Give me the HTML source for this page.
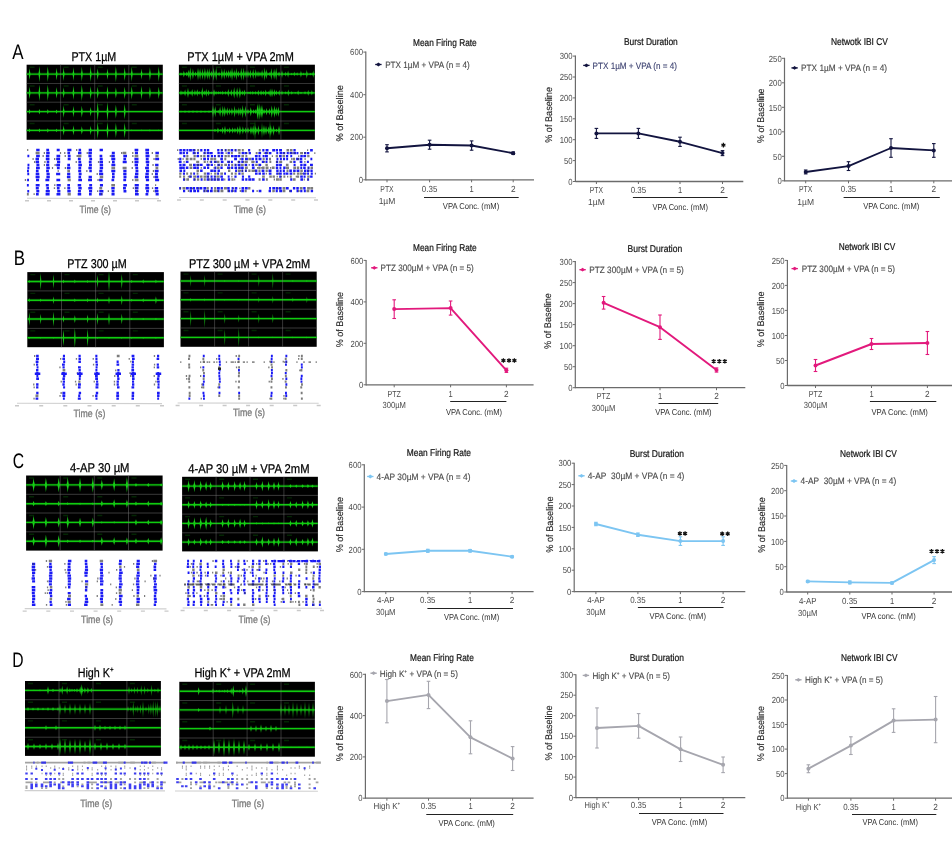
<!DOCTYPE html><html><head><meta charset="utf-8"><style>html,body{margin:0;padding:0;background:#fff;width:952px;height:859px;overflow:hidden}svg{display:block;will-change:transform;text-rendering:geometricPrecision}</style></head><body><svg width="952" height="859" viewBox="0 0 952 859" font-family="Liberation Sans, sans-serif">
<style>text{paint-order:stroke}</style>
<rect width="952" height="859" fill="#fff"/>
<text x="12.3" y="58.6" font-size="21" fill="#000" text-anchor="start" textLength="11.3" lengthAdjust="spacingAndGlyphs">A</text>
<text x="13.8" y="265.0" font-size="21" fill="#000" text-anchor="start" textLength="11.3" lengthAdjust="spacingAndGlyphs">B</text>
<text x="12.8" y="468.0" font-size="21" fill="#000" text-anchor="start" textLength="11.3" lengthAdjust="spacingAndGlyphs">C</text>
<text x="12.3" y="666.7" font-size="21" fill="#000" text-anchor="start" textLength="11.3" lengthAdjust="spacingAndGlyphs">D</text>
<text x="71.4" y="61.3" font-size="12.8" fill="#000" text-anchor="start" textLength="44.9" lengthAdjust="spacingAndGlyphs" stroke="#000" stroke-width="0.25">PTX 1µM</text>
<text x="187.3" y="61.2" font-size="12.8" fill="#000" text-anchor="start" textLength="106.6" lengthAdjust="spacingAndGlyphs" stroke="#000" stroke-width="0.25">PTX 1µM + VPA 2mM</text>
<text x="67.3" y="267.6" font-size="12.8" fill="#000" text-anchor="start" textLength="59.5" lengthAdjust="spacingAndGlyphs" stroke="#000" stroke-width="0.25">PTZ 300 µM</text>
<text x="188.9" y="267.9" font-size="12.8" fill="#000" text-anchor="start" textLength="121.3" lengthAdjust="spacingAndGlyphs" stroke="#000" stroke-width="0.25">PTZ 300 µM + VPA 2mM</text>
<text x="70.1" y="471.9" font-size="12.8" fill="#000" text-anchor="start" textLength="59.4" lengthAdjust="spacingAndGlyphs" stroke="#000" stroke-width="0.25">4-AP 30 µM</text>
<text x="188.2" y="472.9" font-size="12.8" fill="#000" text-anchor="start" textLength="121.3" lengthAdjust="spacingAndGlyphs" stroke="#000" stroke-width="0.25">4-AP 30 µM + VPA 2mM</text>
<text x="77.7" y="676.8" font-size="12.8" fill="#000" text-anchor="start" textLength="35.9" lengthAdjust="spacingAndGlyphs" stroke="#000" stroke-width="0.25">High K⁺</text>
<text x="194.4" y="676.6" font-size="12.8" fill="#000" text-anchor="start" textLength="96.3" lengthAdjust="spacingAndGlyphs" stroke="#000" stroke-width="0.25">High K⁺ + VPA 2mM</text>
<rect x="26.6" y="64.7" width="136.2" height="75.1" fill="#000"/>
<line x1="26.6" y1="74.1" x2="162.8" y2="74.1" stroke="#0a8a0a" stroke-width="3" opacity="0.3"/>
<line x1="26.6" y1="92.9" x2="162.8" y2="92.9" stroke="#0a8a0a" stroke-width="3" opacity="0.3"/>
<line x1="26.6" y1="111.6" x2="162.8" y2="111.6" stroke="#0a8a0a" stroke-width="3" opacity="0.3"/>
<line x1="26.6" y1="130.4" x2="162.8" y2="130.4" stroke="#0a8a0a" stroke-width="3" opacity="0.3"/>
<path d="M28.4 74.1L29.6 69.3L30.8 74.1L29.6 78.9ZM38.2 74.1L39.4 67.6L40.6 74.1L39.4 80.6ZM46.6 74.1L47.8 67.8L49.0 74.1L47.8 80.4ZM55.4 74.1L56.6 69.0L57.8 74.1L56.6 79.2ZM62.4 74.1L63.6 68.4L64.9 74.1L63.6 79.8ZM72.2 74.1L73.5 68.5L74.7 74.1L73.5 79.7ZM80.6 74.1L81.8 68.0L83.1 74.1L81.8 80.2ZM89.4 74.1L90.7 67.7L91.9 74.1L90.7 80.5ZM96.5 74.1L97.7 69.4L98.9 74.1L97.7 78.8ZM106.3 74.1L107.5 69.5L108.7 74.1L107.5 78.7ZM114.7 74.1L115.9 67.6L117.1 74.1L115.9 80.6ZM123.5 74.1L124.7 68.5L125.9 74.1L124.7 79.6ZM130.5 74.1L131.8 67.8L133.0 74.1L131.8 80.4ZM140.3 74.1L141.6 69.6L142.8 74.1L141.6 78.6ZM148.7 74.1L149.9 68.5L151.2 74.1L149.9 79.7ZM157.5 74.1L158.8 67.9L160.0 74.1L158.8 80.3ZM28.4 92.9L29.6 87.8L30.8 92.9L29.6 97.9ZM38.2 92.9L39.4 86.1L40.6 92.9L39.4 99.6ZM46.6 92.9L47.8 86.2L49.0 92.9L47.8 99.5ZM55.4 92.9L56.6 88.3L57.8 92.9L56.6 97.4ZM62.4 92.9L63.6 88.3L64.9 92.9L63.6 97.4ZM72.2 92.9L73.5 87.1L74.7 92.9L73.5 98.7ZM80.6 92.9L81.8 86.1L83.1 92.9L81.8 99.6ZM89.4 92.9L90.7 87.4L91.9 92.9L90.7 98.3ZM96.5 92.9L97.7 87.8L98.9 92.9L97.7 97.9ZM106.3 92.9L107.5 87.3L108.7 92.9L107.5 98.4ZM114.7 92.9L115.9 88.3L117.1 92.9L115.9 97.4ZM123.5 92.9L124.7 87.8L125.9 92.9L124.7 97.9ZM130.5 92.9L131.8 87.3L133.0 92.9L131.8 98.4ZM140.3 92.9L141.6 87.2L142.8 92.9L141.6 98.6ZM148.7 92.9L149.9 87.8L151.2 92.9L149.9 97.9ZM157.5 92.9L158.8 87.8L160.0 92.9L158.8 97.9ZM28.4 111.6L29.6 109.6L30.8 111.6L29.6 113.6ZM38.2 111.6L39.4 109.4L40.6 111.6L39.4 113.9ZM46.6 111.6L47.8 109.6L49.0 111.6L47.8 113.7ZM55.4 111.6L56.6 109.8L57.8 111.6L56.6 113.5ZM62.4 111.6L63.6 106.4L64.9 111.6L63.6 116.8ZM72.2 111.6L73.5 107.0L74.7 111.6L73.5 116.3ZM80.6 111.6L81.8 106.8L83.1 111.6L81.8 116.5ZM89.4 111.6L90.7 107.7L91.9 111.6L90.7 115.6ZM96.5 111.6L97.7 103.4L98.9 111.6L97.7 119.9ZM106.3 111.6L107.5 103.8L108.7 111.6L107.5 119.5ZM114.7 111.6L115.9 105.9L117.1 111.6L115.9 117.4ZM123.5 111.6L124.7 105.3L125.9 111.6L124.7 118.0ZM28.4 130.4L29.6 128.8L30.8 130.4L29.6 132.1ZM38.2 130.4L39.4 128.8L40.6 130.4L39.4 132.1ZM46.6 130.4L47.8 128.6L49.0 130.4L47.8 132.2ZM55.4 130.4L56.6 128.9L57.8 130.4L56.6 131.9ZM62.4 130.4L63.6 126.1L64.9 130.4L63.6 134.7ZM72.2 130.4L73.5 126.3L74.7 130.4L73.5 134.5ZM80.6 130.4L81.8 126.9L83.1 130.4L81.8 133.9ZM89.4 130.4L90.7 126.5L91.9 130.4L90.7 134.4ZM96.5 130.4L97.7 123.4L98.9 130.4L97.7 137.5ZM106.3 130.4L107.5 123.4L108.7 130.4L107.5 137.4ZM114.7 130.4L115.9 124.3L117.1 130.4L115.9 136.5ZM123.5 130.4L124.7 124.1L125.9 130.4L124.7 136.7ZM130.5 130.4L131.8 129.8L133.0 130.4L131.8 131.0ZM140.3 130.4L141.6 129.7L142.8 130.4L141.6 131.1ZM148.7 130.4L149.9 129.6L151.2 130.4L149.9 131.3ZM157.5 130.4L158.8 129.7L160.0 130.4L158.8 131.1Z" fill="#0a8a0a" opacity="0.45"/>
<path d="M28.8 74.1L29.2 71.4L29.6 68.1L30.0 71.4L30.4 74.1L30.0 76.8L29.6 80.1L29.2 76.8ZM38.6 74.1L39.0 70.4L39.4 65.9L39.8 70.4L40.2 74.1L39.8 77.8L39.4 82.3L39.0 77.8ZM47.0 74.1L47.4 70.5L47.8 66.2L48.2 70.5L48.6 74.1L48.2 77.6L47.8 82.0L47.4 77.6ZM55.8 74.1L56.2 71.2L56.6 67.7L57.0 71.2L57.4 74.1L57.0 77.0L56.6 80.5L56.2 77.0ZM62.8 74.1L63.3 70.9L63.6 67.0L64.0 70.9L64.5 74.1L64.0 77.3L63.6 81.2L63.3 77.3ZM72.6 74.1L73.1 70.9L73.5 67.1L73.8 70.9L74.3 74.1L73.8 77.2L73.5 81.1L73.1 77.2ZM81.0 74.1L81.5 70.7L81.8 66.5L82.2 70.7L82.7 74.1L82.2 77.5L81.8 81.7L81.5 77.5ZM89.8 74.1L90.3 70.5L90.7 66.1L91.0 70.5L91.5 74.1L91.0 77.7L90.7 82.1L90.3 77.7ZM96.9 74.1L97.3 71.4L97.7 68.2L98.1 71.4L98.5 74.1L98.1 76.7L97.7 80.0L97.3 76.7ZM106.7 74.1L107.1 71.5L107.5 68.4L107.9 71.5L108.3 74.1L107.9 76.7L107.5 79.8L107.1 76.7ZM115.1 74.1L115.5 70.4L115.9 66.0L116.3 70.4L116.7 74.1L116.3 77.7L115.9 82.2L115.5 77.7ZM123.9 74.1L124.3 71.0L124.7 67.2L125.1 71.0L125.5 74.1L125.1 77.2L124.7 81.0L124.3 77.2ZM130.9 74.1L131.4 70.5L131.8 66.2L132.1 70.5L132.6 74.1L132.1 77.6L131.8 82.0L131.4 77.6ZM140.7 74.1L141.2 71.6L141.6 68.5L141.9 71.6L142.4 74.1L141.9 76.6L141.6 79.7L141.2 76.6ZM149.1 74.1L149.6 71.0L149.9 67.1L150.3 71.0L150.8 74.1L150.3 77.2L149.9 81.0L149.6 77.2ZM157.9 74.1L158.4 70.6L158.8 66.3L159.1 70.6L159.6 74.1L159.1 77.6L158.8 81.9L158.4 77.6ZM28.8 92.9L29.2 90.0L29.6 86.6L30.0 90.0L30.4 92.9L30.0 95.7L29.6 99.2L29.2 95.7ZM38.6 92.9L39.0 89.1L39.4 84.4L39.8 89.1L40.2 92.9L39.8 96.7L39.4 101.3L39.0 96.7ZM47.0 92.9L47.4 89.1L47.8 84.5L48.2 89.1L48.6 92.9L48.2 96.6L47.8 101.2L47.4 96.6ZM55.8 92.9L56.2 90.3L56.6 87.1L57.0 90.3L57.4 92.9L57.0 95.4L56.6 98.6L56.2 95.4ZM62.8 92.9L63.3 90.3L63.6 87.2L64.0 90.3L64.5 92.9L64.0 95.4L63.6 98.6L63.3 95.4ZM72.6 92.9L73.1 89.6L73.5 85.6L73.8 89.6L74.3 92.9L73.8 96.1L73.5 100.1L73.1 96.1ZM81.0 92.9L81.5 89.1L81.8 84.4L82.2 89.1L82.7 92.9L82.2 96.7L81.8 101.3L81.5 96.7ZM89.8 92.9L90.3 89.8L90.7 86.1L91.0 89.8L91.5 92.9L91.0 95.9L90.7 99.6L90.3 95.9ZM96.9 92.9L97.3 90.0L97.7 86.6L98.1 90.0L98.5 92.9L98.1 95.7L97.7 99.1L97.3 95.7ZM106.7 92.9L107.1 89.8L107.5 86.0L107.9 89.8L108.3 92.9L107.9 96.0L107.5 99.8L107.1 96.0ZM115.1 92.9L115.5 90.3L115.9 87.2L116.3 90.3L116.7 92.9L116.3 95.4L115.9 98.6L115.5 95.4ZM123.9 92.9L124.3 90.0L124.7 86.6L125.1 90.0L125.5 92.9L125.1 95.7L124.7 99.2L124.3 95.7ZM130.9 92.9L131.4 89.7L131.8 85.9L132.1 89.7L132.6 92.9L132.1 96.0L131.8 99.8L131.4 96.0ZM140.7 92.9L141.2 89.7L141.6 85.8L141.9 89.7L142.4 92.9L141.9 96.1L141.6 100.0L141.2 96.1ZM149.1 92.9L149.6 90.0L149.9 86.5L150.3 90.0L150.8 92.9L150.3 95.7L149.9 99.2L149.6 95.7ZM157.9 92.9L158.4 90.0L158.8 86.5L159.1 90.0L159.6 92.9L159.1 95.7L158.8 99.2L158.4 95.7ZM28.8 111.6L29.2 110.5L29.6 109.1L30.0 110.5L30.4 111.6L30.0 112.8L29.6 114.2L29.2 112.8ZM38.6 111.6L39.0 110.4L39.4 108.8L39.8 110.4L40.2 111.6L39.8 112.9L39.4 114.4L39.0 112.9ZM47.0 111.6L47.4 110.5L47.8 109.0L48.2 110.5L48.6 111.6L48.2 112.8L47.8 114.2L47.4 112.8ZM55.8 111.6L56.2 110.6L56.6 109.4L57.0 110.6L57.4 111.6L57.0 112.7L56.6 113.9L56.2 112.7ZM62.8 111.6L63.3 108.7L63.6 105.1L64.0 108.7L64.5 111.6L64.0 114.6L63.6 118.1L63.3 114.6ZM72.6 111.6L73.1 109.0L73.5 105.8L73.8 109.0L74.3 111.6L73.8 114.3L73.5 117.5L73.1 114.3ZM81.0 111.6L81.5 108.9L81.8 105.6L82.2 108.9L82.7 111.6L82.2 114.4L81.8 117.7L81.5 114.4ZM89.8 111.6L90.3 109.4L90.7 106.7L91.0 109.4L91.5 111.6L91.0 113.9L90.7 116.6L90.3 113.9ZM96.9 111.6L97.3 107.0L97.7 101.3L98.1 107.0L98.5 111.6L98.1 116.3L97.7 122.0L97.3 116.3ZM106.7 111.6L107.1 107.2L107.5 101.8L107.9 107.2L108.3 111.6L107.9 116.1L107.5 121.5L107.1 116.1ZM115.1 111.6L115.5 108.4L115.9 104.5L116.3 108.4L116.7 111.6L116.3 114.9L115.9 118.8L115.5 114.9ZM123.9 111.6L124.3 108.1L124.7 103.7L125.1 108.1L125.5 111.6L125.1 115.2L124.7 119.6L124.3 115.2ZM28.8 130.4L29.2 129.5L29.6 128.3L30.0 129.5L30.4 130.4L30.0 131.3L29.6 132.5L29.2 131.3ZM38.6 130.4L39.0 129.5L39.4 128.3L39.8 129.5L40.2 130.4L39.8 131.3L39.4 132.5L39.0 131.3ZM47.0 130.4L47.4 129.4L47.8 128.2L48.2 129.4L48.6 130.4L48.2 131.4L47.8 132.7L47.4 131.4ZM55.8 130.4L56.2 129.6L56.6 128.6L57.0 129.6L57.4 130.4L57.0 131.2L56.6 132.3L56.2 131.2ZM62.8 130.4L63.3 128.0L63.6 125.0L64.0 128.0L64.5 130.4L64.0 132.8L63.6 135.8L63.3 132.8ZM72.6 130.4L73.1 128.1L73.5 125.3L73.8 128.1L74.3 130.4L73.8 132.7L73.5 135.5L73.1 132.7ZM81.0 130.4L81.5 128.5L81.8 126.1L82.2 128.5L82.7 130.4L82.2 132.4L81.8 134.8L81.5 132.4ZM89.8 130.4L90.3 128.2L90.7 125.5L91.0 128.2L91.5 130.4L91.0 132.6L90.7 135.3L90.3 132.6ZM96.9 130.4L97.3 126.4L97.7 121.6L98.1 126.4L98.5 130.4L98.1 134.4L97.7 139.2L97.3 134.4ZM106.7 130.4L107.1 126.5L107.5 121.7L107.9 126.5L108.3 130.4L107.9 134.3L107.5 139.1L107.1 134.3ZM115.1 130.4L115.5 127.0L115.9 122.8L116.3 127.0L116.7 130.4L116.3 133.8L115.9 138.0L115.5 133.8ZM123.9 130.4L124.3 126.9L124.7 122.5L125.1 126.9L125.5 130.4L125.1 134.0L124.7 138.3L124.3 134.0ZM130.9 130.4L131.4 130.1L131.8 129.6L132.1 130.1L132.6 130.4L132.1 130.8L131.8 131.2L131.4 130.8ZM140.7 130.4L141.2 130.0L141.6 129.6L141.9 130.0L142.4 130.4L141.9 130.8L141.6 131.3L141.2 130.8ZM149.1 130.4L149.6 129.9L149.9 129.3L150.3 129.9L150.8 130.4L150.3 130.9L149.9 131.5L149.6 130.9ZM157.9 130.4L158.4 130.0L158.8 129.5L159.1 130.0L159.6 130.4L159.1 130.8L158.8 131.3L158.4 130.8Z" fill="#1ee01e" opacity="0.90"/>
<line x1="26.6" y1="74.1" x2="162.8" y2="74.1" stroke="#10cc10" stroke-width="1.4"/>
<line x1="26.6" y1="92.9" x2="162.8" y2="92.9" stroke="#10cc10" stroke-width="1.4"/>
<line x1="26.6" y1="111.6" x2="162.8" y2="111.6" stroke="#10cc10" stroke-width="1.4"/>
<line x1="26.6" y1="130.4" x2="162.8" y2="130.4" stroke="#10cc10" stroke-width="1.4"/>
<line x1="60.6" y1="64.7" x2="60.6" y2="139.8" stroke="#808080" stroke-width="0.9" stroke-dasharray="0.5,0.5"/>
<line x1="26.6" y1="83.5" x2="162.8" y2="83.5" stroke="#808080" stroke-width="0.9" stroke-dasharray="0.5,0.5"/>
<line x1="94.7" y1="64.7" x2="94.7" y2="139.8" stroke="#808080" stroke-width="0.9" stroke-dasharray="0.5,0.5"/>
<line x1="26.6" y1="102.2" x2="162.8" y2="102.2" stroke="#808080" stroke-width="0.9" stroke-dasharray="0.5,0.5"/>
<line x1="128.8" y1="64.7" x2="128.8" y2="139.8" stroke="#808080" stroke-width="0.9" stroke-dasharray="0.5,0.5"/>
<line x1="26.6" y1="121.0" x2="162.8" y2="121.0" stroke="#808080" stroke-width="0.9" stroke-dasharray="0.5,0.5"/>
<path d="M29.6 66.5h5v1.4h-5zM63.6 66.5h5v1.4h-5zM97.7 66.5h5v1.4h-5zM131.8 66.5h5v1.4h-5zM29.6 85.3h5v1.4h-5zM63.6 85.3h5v1.4h-5zM97.7 85.3h5v1.4h-5zM131.8 85.3h5v1.4h-5zM29.6 104.0h5v1.4h-5zM63.6 104.0h5v1.4h-5zM97.7 104.0h5v1.4h-5zM131.8 104.0h5v1.4h-5zM29.6 122.8h5v1.4h-5zM63.6 122.8h5v1.4h-5zM97.7 122.8h5v1.4h-5zM131.8 122.8h5v1.4h-5z" fill="#0a6a0a" opacity="0.35"/>
<rect x="178.9" y="64.7" width="136.0" height="75.1" fill="#000"/>
<line x1="178.9" y1="74.1" x2="314.9" y2="74.1" stroke="#0a8a0a" stroke-width="3" opacity="0.3"/>
<line x1="178.9" y1="92.9" x2="314.9" y2="92.9" stroke="#0a8a0a" stroke-width="3" opacity="0.3"/>
<line x1="178.9" y1="111.6" x2="314.9" y2="111.6" stroke="#0a8a0a" stroke-width="3" opacity="0.3"/>
<line x1="178.9" y1="130.4" x2="314.9" y2="130.4" stroke="#0a8a0a" stroke-width="3" opacity="0.3"/>
<path d="M179.5 74.1L181.0 72.5L182.5 74.1L181.0 75.6ZM182.3 74.1L183.8 71.2L185.3 74.1L183.8 76.9ZM185.1 74.1L186.6 72.1L188.1 74.1L186.6 76.1ZM186.9 74.1L188.4 70.4L189.9 74.1L188.4 77.7ZM188.8 74.1L190.3 68.3L191.8 74.1L190.3 79.8ZM191.4 74.1L192.9 69.7L194.4 74.1L192.9 78.4ZM194.0 74.1L195.5 71.9L197.0 74.1L195.5 76.3ZM196.5 74.1L198.0 68.8L199.5 74.1L198.0 79.4ZM198.6 74.1L200.1 69.2L201.6 74.1L200.1 79.0ZM201.0 74.1L202.5 69.5L204.0 74.1L202.5 78.7ZM203.4 74.1L204.9 68.7L206.4 74.1L204.9 79.4ZM205.8 74.1L207.3 69.4L208.8 74.1L207.3 78.8ZM207.7 74.1L209.2 69.2L210.7 74.1L209.2 78.9ZM209.9 74.1L211.4 71.1L212.9 74.1L211.4 77.1ZM212.1 74.1L213.6 68.4L215.1 74.1L213.6 79.8ZM214.7 74.1L216.2 68.5L217.7 74.1L216.2 79.7ZM217.6 74.1L219.1 72.0L220.6 74.1L219.1 76.2ZM220.4 74.1L221.9 69.4L223.4 74.1L221.9 78.8ZM222.7 74.1L224.2 69.6L225.7 74.1L224.2 78.6ZM225.0 74.1L226.5 70.7L228.0 74.1L226.5 77.5ZM227.0 74.1L228.5 70.4L230.0 74.1L228.5 77.8ZM228.8 74.1L230.3 70.5L231.8 74.1L230.3 77.6ZM230.5 74.1L232.0 68.7L233.5 74.1L232.0 79.5ZM232.8 74.1L234.3 70.5L235.8 74.1L234.3 77.7ZM234.9 74.1L236.4 69.1L237.9 74.1L236.4 79.1ZM237.0 74.1L238.5 71.1L240.0 74.1L238.5 77.1ZM239.8 74.1L241.3 68.8L242.8 74.1L241.3 79.3ZM242.1 74.1L243.6 68.8L245.1 74.1L243.6 79.4ZM244.5 74.1L246.0 70.7L247.5 74.1L246.0 77.5ZM246.5 74.1L248.0 70.5L249.5 74.1L248.0 77.7ZM248.9 74.1L250.4 70.4L251.9 74.1L250.4 77.8ZM251.7 74.1L253.2 69.8L254.7 74.1L253.2 78.3ZM254.2 74.1L255.7 70.1L257.2 74.1L255.7 78.1ZM256.5 74.1L258.0 71.3L259.5 74.1L258.0 76.9ZM258.5 74.1L260.0 71.7L261.5 74.1L260.0 76.4ZM260.6 74.1L262.1 70.4L263.6 74.1L262.1 77.7ZM263.1 74.1L264.6 68.6L266.1 74.1L264.6 79.6ZM265.0 74.1L266.5 70.0L268.0 74.1L266.5 78.2ZM267.8 74.1L269.3 72.3L270.8 74.1L269.3 75.9ZM269.8 74.1L271.3 69.1L272.8 74.1L271.3 79.1ZM272.6 74.1L274.1 69.5L275.6 74.1L274.1 78.7ZM274.7 74.1L276.2 68.7L277.7 74.1L276.2 79.4ZM277.5 74.1L279.0 71.8L280.5 74.1L279.0 76.4ZM179.5 92.9L181.0 90.5L182.5 92.9L181.0 95.2ZM181.4 92.9L182.9 91.3L184.4 92.9L182.9 94.4ZM183.6 92.9L185.1 90.1L186.6 92.9L185.1 95.7ZM186.5 92.9L188.0 88.5L189.5 92.9L188.0 97.2ZM188.6 92.9L190.1 91.2L191.6 92.9L190.1 94.5ZM190.7 92.9L192.2 89.6L193.7 92.9L192.2 96.2ZM193.4 92.9L194.9 90.2L196.4 92.9L194.9 95.5ZM195.8 92.9L197.3 89.8L198.8 92.9L197.3 95.9ZM197.7 92.9L199.2 91.1L200.7 92.9L199.2 94.6ZM200.8 92.9L202.3 88.2L203.8 92.9L202.3 97.5ZM202.9 92.9L204.4 90.7L205.9 92.9L204.4 95.0ZM204.8 92.9L206.3 89.5L207.8 92.9L206.3 96.2ZM207.1 92.9L208.6 90.2L210.1 92.9L208.6 95.6ZM209.7 92.9L211.2 91.6L212.7 92.9L211.2 94.1ZM212.5 92.9L214.0 89.7L215.5 92.9L214.0 96.1ZM214.6 92.9L216.1 91.2L217.6 92.9L216.1 94.6ZM216.9 92.9L218.4 91.5L219.9 92.9L218.4 94.3ZM218.8 92.9L220.3 91.5L221.8 92.9L220.3 94.2ZM221.2 92.9L222.7 91.1L224.2 92.9L222.7 94.6ZM224.0 92.9L225.5 91.3L227.0 92.9L225.5 94.4ZM226.8 92.9L228.3 89.4L229.8 92.9L228.3 96.3ZM229.8 92.9L231.3 89.8L232.8 92.9L231.3 95.9ZM232.7 92.9L234.2 88.1L235.7 92.9L234.2 97.6ZM235.6 92.9L237.1 88.3L238.6 92.9L237.1 97.4ZM238.4 92.9L239.9 88.1L241.4 92.9L239.9 97.6ZM240.8 92.9L242.3 90.8L243.8 92.9L242.3 94.9ZM243.0 92.9L244.5 90.1L246.0 92.9L244.5 95.7ZM246.5 92.9L248.0 91.6L249.5 92.9L248.0 94.1ZM248.7 92.9L250.2 91.4L251.7 92.9L250.2 94.3ZM251.3 92.9L252.8 91.2L254.3 92.9L252.8 94.5ZM254.0 92.9L255.5 91.3L257.0 92.9L255.5 94.4ZM256.8 92.9L258.3 90.4L259.8 92.9L258.3 95.3ZM259.6 92.9L261.1 90.6L262.6 92.9L261.1 95.2ZM261.8 92.9L263.3 91.0L264.8 92.9L263.3 94.7ZM264.2 92.9L265.7 90.1L267.2 92.9L265.7 95.7ZM266.7 92.9L268.2 91.3L269.7 92.9L268.2 94.4ZM268.6 92.9L270.1 89.3L271.6 92.9L270.1 96.4ZM270.5 92.9L272.0 89.1L273.5 92.9L272.0 96.6ZM272.9 92.9L274.4 89.8L275.9 92.9L274.4 95.9ZM274.9 92.9L276.4 90.7L277.9 92.9L276.4 95.1ZM277.7 92.9L279.2 90.4L280.7 92.9L279.2 95.3ZM179.5 111.6L181.0 110.7L182.5 111.6L181.0 112.5ZM183.5 111.6L185.0 110.5L186.5 111.6L185.0 112.8ZM187.5 111.6L189.0 110.5L190.5 111.6L189.0 112.7ZM191.5 111.6L193.0 110.5L194.5 111.6L193.0 112.8ZM195.5 111.6L197.0 110.6L198.5 111.6L197.0 112.6ZM199.5 111.6L201.0 110.5L202.5 111.6L201.0 112.8ZM203.5 111.6L205.0 110.7L206.5 111.6L205.0 112.6ZM207.5 111.6L209.0 110.6L210.5 111.6L209.0 112.7ZM211.5 111.6L213.0 106.1L214.5 111.6L213.0 117.2ZM213.7 111.6L215.2 107.2L216.7 111.6L215.2 116.1ZM216.7 111.6L218.2 110.1L219.7 111.6L218.2 113.2ZM218.6 111.6L220.1 107.3L221.6 111.6L220.1 115.9ZM221.3 111.6L222.8 106.8L224.3 111.6L222.8 116.4ZM223.3 111.6L224.8 107.1L226.3 111.6L224.8 116.2ZM225.8 111.6L227.3 108.0L228.8 111.6L227.3 115.2ZM228.1 111.6L229.6 108.7L231.1 111.6L229.6 114.6ZM230.4 111.6L231.9 108.2L233.4 111.6L231.9 115.1ZM233.1 111.6L234.6 106.7L236.1 111.6L234.6 116.5ZM235.4 111.6L236.9 109.0L238.4 111.6L236.9 114.2ZM237.3 111.6L238.8 107.9L240.3 111.6L238.8 115.4ZM239.3 111.6L240.8 108.1L242.3 111.6L240.8 115.1ZM241.2 111.6L242.7 106.1L244.2 111.6L242.7 117.2ZM244.0 111.6L245.5 106.7L247.0 111.6L245.5 116.6ZM213.5 130.4L215.0 128.9L216.5 130.4L215.0 132.0ZM216.4 130.4L217.9 127.9L219.4 130.4L217.9 132.9ZM219.1 130.4L220.6 129.2L222.1 130.4L220.6 131.6ZM221.1 130.4L222.6 127.4L224.1 130.4L222.6 133.4ZM223.5 130.4L225.0 126.5L226.5 130.4L225.0 134.3ZM226.1 130.4L227.6 128.7L229.1 130.4L227.6 132.1ZM228.2 130.4L229.7 127.7L231.2 130.4L229.7 133.1ZM231.1 130.4L232.6 127.8L234.1 130.4L232.6 133.1ZM233.5 130.4L235.0 128.0L236.5 130.4L235.0 132.8ZM236.1 130.4L237.6 127.0L239.1 130.4L237.6 133.8ZM238.4 130.4L239.9 126.3L241.4 130.4L239.9 134.5ZM241.4 130.4L242.9 127.0L244.4 130.4L242.9 133.8ZM244.1 130.4L245.6 127.8L247.1 130.4L245.6 133.0ZM246.5 130.4L248.0 127.5L249.5 130.4L248.0 133.3ZM249.5 130.4L251.0 126.7L252.5 130.4L251.0 134.2ZM251.7 130.4L253.2 126.0L254.7 130.4L253.2 134.8ZM254.3 130.4L255.8 126.9L257.3 130.4L255.8 134.0ZM256.9 130.4L258.4 126.3L259.9 130.4L258.4 134.6ZM259.7 130.4L261.2 129.2L262.7 130.4L261.2 131.7ZM262.5 130.4L264.0 125.8L265.5 130.4L264.0 135.0ZM264.5 130.4L266.0 126.6L267.5 130.4L266.0 134.2ZM267.1 130.4L268.6 127.0L270.1 130.4L268.6 133.8ZM269.4 130.4L270.9 126.0L272.4 130.4L270.9 134.9ZM272.0 130.4L273.5 126.0L275.0 130.4L273.5 134.8ZM274.9 130.4L276.4 128.9L277.9 130.4L276.4 132.0ZM277.5 130.4L279.0 126.3L280.5 130.4L279.0 134.5Z" fill="#0a8a0a" opacity="0.36"/>
<path d="M280.5 74.1L282.0 70.6L283.5 74.1L282.0 77.6ZM284.1 74.1L285.6 71.9L287.1 74.1L285.6 76.3ZM286.6 74.1L288.1 71.1L289.6 74.1L288.1 77.1ZM290.0 74.1L291.5 73.0L293.0 74.1L291.5 75.1ZM292.9 74.1L294.4 72.1L295.9 74.1L294.4 76.1ZM295.6 74.1L297.1 72.6L298.6 74.1L297.1 75.5ZM299.4 74.1L300.9 71.2L302.4 74.1L300.9 77.0ZM302.0 74.1L303.5 72.9L305.0 74.1L303.5 75.3ZM305.2 74.1L306.7 70.4L308.2 74.1L306.7 77.8ZM309.0 74.1L310.5 73.1L312.0 74.1L310.5 75.1ZM311.8 74.1L313.3 71.0L314.8 74.1L313.3 77.1ZM280.5 92.9L282.0 90.8L283.5 92.9L282.0 94.9ZM284.1 92.9L285.6 91.5L287.1 92.9L285.6 94.2ZM286.9 92.9L288.4 90.0L289.9 92.9L288.4 95.7ZM290.2 92.9L291.7 91.3L293.2 92.9L291.7 94.4ZM293.8 92.9L295.3 92.1L296.8 92.9L295.3 93.6ZM296.7 92.9L298.2 90.7L299.7 92.9L298.2 95.1ZM299.5 92.9L301.0 91.9L302.5 92.9L301.0 93.8ZM303.5 92.9L305.0 91.5L306.5 92.9L305.0 94.2ZM306.8 92.9L308.3 90.3L309.8 92.9L308.3 95.4ZM310.3 92.9L311.8 90.7L313.3 92.9L311.8 95.0Z" fill="#0a8a0a" opacity="0.32"/>
<path d="M246.5 111.6L248.0 109.2L249.5 111.6L248.0 114.1ZM249.3 111.6L250.8 107.9L252.3 111.6L250.8 115.4ZM252.0 111.6L253.5 109.6L255.0 111.6L253.5 113.7ZM254.0 111.6L255.5 109.5L257.0 111.6L255.5 113.8ZM256.0 111.6L257.5 105.4L259.0 111.6L257.5 117.8ZM258.3 111.6L259.8 105.0L261.3 111.6L259.8 118.3ZM260.4 111.6L261.9 106.7L263.4 111.6L261.9 116.6ZM262.6 111.6L264.1 109.3L265.6 111.6L264.1 114.0ZM265.1 111.6L266.6 108.5L268.1 111.6L266.6 114.8ZM267.9 111.6L269.4 108.8L270.9 111.6L269.4 114.5ZM270.3 111.6L271.8 106.6L273.3 111.6L271.8 116.7ZM272.9 111.6L274.4 106.5L275.9 111.6L274.4 116.8ZM274.8 111.6L276.3 107.7L277.8 111.6L276.3 115.5ZM276.9 111.6L278.4 107.3L279.9 111.6L278.4 116.0Z" fill="#0a8a0a" opacity="0.41"/>
<path d="M260.5 111.6L262.0 105.3L263.5 111.6L262.0 118.0ZM256.5 111.6L258.0 103.9L259.5 111.6L258.0 119.4Z" fill="#0a8a0a" opacity="0.27"/>
<path d="M253.5 130.4L255.0 122.0L256.5 130.4L255.0 138.9ZM260.5 130.4L262.0 123.8L263.5 130.4L262.0 137.1ZM268.5 130.4L270.0 122.0L271.5 130.4L270.0 138.8Z" fill="#0a8a0a" opacity="0.23"/>
<path d="M179.8 74.1L180.6 73.2L181.0 72.2L181.4 73.2L182.2 74.1L181.4 75.0L181.0 76.0L180.6 75.0ZM182.6 74.1L183.4 72.5L183.8 70.5L184.3 72.5L185.0 74.1L184.3 75.7L183.8 77.6L183.4 75.7ZM185.4 74.1L186.2 72.9L186.6 71.5L187.1 72.9L187.8 74.1L187.1 75.2L186.6 76.6L186.2 75.2ZM187.2 74.1L188.0 72.0L188.4 69.5L188.9 72.0L189.6 74.1L188.9 76.1L188.4 78.6L188.0 76.1ZM189.1 74.1L189.8 70.9L190.3 66.9L190.7 70.9L191.5 74.1L190.7 77.3L190.3 81.3L189.8 77.3ZM191.7 74.1L192.5 71.6L192.9 68.6L193.4 71.6L194.1 74.1L193.4 76.5L192.9 79.5L192.5 76.5ZM194.3 74.1L195.1 72.8L195.5 71.3L196.0 72.8L196.7 74.1L196.0 75.3L195.5 76.9L195.1 75.3ZM196.8 74.1L197.6 71.1L198.0 67.5L198.5 71.1L199.2 74.1L198.5 77.1L198.0 80.7L197.6 77.1ZM198.9 74.1L199.6 71.3L200.1 68.0L200.5 71.3L201.3 74.1L200.5 76.8L200.1 80.2L199.6 76.8ZM201.3 74.1L202.1 71.5L202.5 68.3L203.0 71.5L203.7 74.1L203.0 76.7L202.5 79.9L202.1 76.7ZM203.7 74.1L204.5 71.1L204.9 67.4L205.4 71.1L206.1 74.1L205.4 77.1L204.9 80.8L204.5 77.1ZM206.1 74.1L206.9 71.4L207.3 68.2L207.8 71.4L208.5 74.1L207.8 76.8L207.3 80.0L206.9 76.8ZM208.0 74.1L208.8 71.4L209.2 68.0L209.7 71.4L210.4 74.1L209.7 76.8L209.2 80.2L208.8 76.8ZM210.2 74.1L211.0 72.4L211.4 70.4L211.9 72.4L212.6 74.1L211.9 75.8L211.4 77.8L211.0 75.8ZM212.4 74.1L213.2 70.9L213.6 67.0L214.1 70.9L214.8 74.1L214.1 77.3L213.6 81.2L213.2 77.3ZM215.0 74.1L215.7 70.9L216.2 67.1L216.6 70.9L217.4 74.1L216.6 77.2L216.2 81.1L215.7 77.2ZM217.9 74.1L218.6 72.9L219.1 71.4L219.5 72.9L220.3 74.1L219.5 75.3L219.1 76.8L218.6 75.3ZM220.7 74.1L221.4 71.4L221.9 68.2L222.3 71.4L223.1 74.1L222.3 76.7L221.9 80.0L221.4 76.7ZM223.0 74.1L223.8 71.5L224.2 68.4L224.7 71.5L225.4 74.1L224.7 76.6L224.2 79.7L223.8 76.6ZM225.3 74.1L226.0 72.2L226.5 69.8L226.9 72.2L227.7 74.1L226.9 76.0L226.5 78.4L226.0 76.0ZM227.3 74.1L228.0 72.0L228.5 69.4L228.9 72.0L229.7 74.1L228.9 76.2L228.5 78.8L228.0 76.2ZM229.1 74.1L229.8 72.1L230.3 69.6L230.7 72.1L231.5 74.1L230.7 76.1L230.3 78.5L229.8 76.1ZM230.8 74.1L231.6 71.0L232.0 67.3L232.5 71.0L233.2 74.1L232.5 77.1L232.0 80.9L231.6 77.1ZM233.1 74.1L233.8 72.1L234.3 69.6L234.7 72.1L235.5 74.1L234.7 76.1L234.3 78.6L233.8 76.1ZM235.2 74.1L235.9 71.3L236.4 67.8L236.8 71.3L237.6 74.1L236.8 76.9L236.4 80.4L235.9 76.9ZM237.3 74.1L238.1 72.4L238.5 70.4L239.0 72.4L239.7 74.1L239.0 75.8L238.5 77.8L238.1 75.8ZM240.1 74.1L240.8 71.1L241.3 67.5L241.7 71.1L242.5 74.1L241.7 77.0L241.3 80.7L240.8 77.0ZM242.4 74.1L243.2 71.1L243.6 67.4L244.1 71.1L244.8 74.1L244.1 77.1L243.6 80.7L243.2 77.1ZM244.8 74.1L245.5 72.2L246.0 69.8L246.4 72.2L247.2 74.1L246.4 76.0L246.0 78.4L245.5 76.0ZM246.8 74.1L247.6 72.1L248.0 69.6L248.4 72.1L249.2 74.1L248.4 76.1L248.0 78.6L247.6 76.1ZM249.2 74.1L249.9 72.0L250.4 69.5L250.8 72.0L251.6 74.1L250.8 76.2L250.4 78.7L249.9 76.2ZM252.0 74.1L252.7 71.7L253.2 68.8L253.6 71.7L254.4 74.1L253.6 76.5L253.2 79.4L252.7 76.5ZM254.5 74.1L255.3 71.8L255.7 69.1L256.2 71.8L256.9 74.1L256.2 76.3L255.7 79.1L255.3 76.3ZM256.8 74.1L257.6 72.5L258.0 70.6L258.5 72.5L259.2 74.1L258.5 75.7L258.0 77.6L257.6 75.7ZM258.8 74.1L259.5 72.8L260.0 71.2L260.4 72.8L261.2 74.1L260.4 75.4L260.0 77.0L259.5 75.4ZM260.9 74.1L261.6 72.0L262.1 69.5L262.5 72.0L263.3 74.1L262.5 76.1L262.1 78.7L261.6 76.1ZM263.4 74.1L264.2 71.0L264.6 67.2L265.1 71.0L265.8 74.1L265.1 77.2L264.6 80.9L264.2 77.2ZM265.3 74.1L266.1 71.8L266.5 68.9L267.0 71.8L267.7 74.1L267.0 76.4L266.5 79.3L266.1 76.4ZM268.1 74.1L268.8 73.1L269.3 71.9L269.7 73.1L270.5 74.1L269.7 75.1L269.3 76.3L268.8 75.1ZM270.1 74.1L270.9 71.3L271.3 67.9L271.8 71.3L272.5 74.1L271.8 76.9L271.3 80.3L270.9 76.9ZM272.9 74.1L273.7 71.5L274.1 68.4L274.6 71.5L275.3 74.1L274.6 76.7L274.1 79.8L273.7 76.7ZM275.0 74.1L275.7 71.1L276.2 67.4L276.6 71.1L277.4 74.1L276.6 77.1L276.2 80.8L275.7 77.1ZM277.8 74.1L278.6 72.8L279.0 71.3L279.5 72.8L280.2 74.1L279.5 75.4L279.0 76.9L278.6 75.4ZM179.8 92.9L180.6 91.5L181.0 89.9L181.4 91.5L182.2 92.9L181.4 94.2L181.0 95.8L180.6 94.2ZM181.7 92.9L182.5 92.0L182.9 90.9L183.4 92.0L184.1 92.9L183.4 93.7L182.9 94.8L182.5 93.7ZM183.9 92.9L184.6 91.3L185.1 89.3L185.5 91.3L186.3 92.9L185.5 94.4L185.1 96.4L184.6 94.4ZM186.8 92.9L187.5 90.4L188.0 87.4L188.4 90.4L189.2 92.9L188.4 95.3L188.0 98.3L187.5 95.3ZM188.9 92.9L189.6 91.9L190.1 90.8L190.5 91.9L191.3 92.9L190.5 93.8L190.1 94.9L189.6 93.8ZM191.0 92.9L191.7 91.0L192.2 88.7L192.6 91.0L193.4 92.9L192.6 94.7L192.2 97.0L191.7 94.7ZM193.7 92.9L194.5 91.4L194.9 89.6L195.4 91.4L196.1 92.9L195.4 94.3L194.9 96.1L194.5 94.3ZM196.1 92.9L196.8 91.1L197.3 89.0L197.7 91.1L198.5 92.9L197.7 94.6L197.3 96.7L196.8 94.6ZM198.0 92.9L198.7 91.9L199.2 90.7L199.6 91.9L200.4 92.9L199.6 93.8L199.2 95.0L198.7 93.8ZM201.1 92.9L201.9 90.2L202.3 87.0L202.8 90.2L203.5 92.9L202.8 95.5L202.3 98.7L201.9 95.5ZM203.2 92.9L203.9 91.7L204.4 90.2L204.8 91.7L205.6 92.9L204.8 94.1L204.4 95.5L203.9 94.1ZM205.1 92.9L205.8 91.0L206.3 88.6L206.7 91.0L207.5 92.9L206.7 94.8L206.3 97.1L205.8 94.8ZM207.4 92.9L208.1 91.3L208.6 89.5L209.0 91.3L209.8 92.9L209.0 94.4L208.6 96.3L208.1 94.4ZM210.0 92.9L210.8 92.2L211.2 91.3L211.7 92.2L212.4 92.9L211.7 93.6L211.2 94.4L210.8 93.6ZM212.8 92.9L213.6 91.1L214.0 88.9L214.5 91.1L215.2 92.9L214.5 94.7L214.0 96.9L213.6 94.7ZM214.9 92.9L215.6 91.9L216.1 90.7L216.5 91.9L217.3 92.9L216.5 93.8L216.1 95.0L215.6 93.8ZM217.2 92.9L217.9 92.1L218.4 91.1L218.8 92.1L219.6 92.9L218.8 93.7L218.4 94.6L217.9 93.7ZM219.1 92.9L219.8 92.1L220.3 91.2L220.7 92.1L221.5 92.9L220.7 93.6L220.3 94.5L219.8 93.6ZM221.5 92.9L222.3 91.9L222.7 90.6L223.2 91.9L223.9 92.9L223.2 93.9L222.7 95.1L222.3 93.9ZM224.3 92.9L225.1 92.0L225.5 90.9L226.0 92.0L226.7 92.9L226.0 93.7L225.5 94.8L225.1 93.7ZM227.1 92.9L227.9 90.9L228.3 88.5L228.8 90.9L229.5 92.9L228.8 94.8L228.3 97.2L227.9 94.8ZM230.1 92.9L230.9 91.2L231.3 89.1L231.8 91.2L232.5 92.9L231.8 94.6L231.3 96.6L230.9 94.6ZM233.0 92.9L233.7 90.2L234.2 86.9L234.6 90.2L235.4 92.9L234.6 95.5L234.2 98.8L233.7 95.5ZM235.9 92.9L236.7 90.3L237.1 87.2L237.6 90.3L238.3 92.9L237.6 95.4L237.1 98.6L236.7 95.4ZM238.7 92.9L239.4 90.2L239.9 86.9L240.3 90.2L241.1 92.9L240.3 95.6L239.9 98.8L239.4 95.6ZM241.1 92.9L241.9 91.7L242.3 90.3L242.8 91.7L243.5 92.9L242.8 94.0L242.3 95.4L241.9 94.0ZM243.3 92.9L244.0 91.3L244.5 89.4L244.9 91.3L245.7 92.9L244.9 94.4L244.5 96.4L244.0 94.4ZM246.8 92.9L247.6 92.2L248.0 91.3L248.4 92.2L249.2 92.9L248.4 93.6L248.0 94.4L247.6 93.6ZM249.0 92.9L249.7 92.0L250.2 91.0L250.6 92.0L251.4 92.9L250.6 93.7L250.2 94.7L249.7 93.7ZM251.6 92.9L252.4 91.9L252.8 90.8L253.3 91.9L254.0 92.9L253.3 93.8L252.8 94.9L252.4 93.8ZM254.3 92.9L255.0 92.0L255.5 90.9L255.9 92.0L256.7 92.9L255.9 93.8L255.5 94.8L255.0 93.8ZM257.1 92.9L257.9 91.5L258.3 89.8L258.8 91.5L259.5 92.9L258.8 94.2L258.3 95.9L257.9 94.2ZM259.9 92.9L260.6 91.6L261.1 90.0L261.5 91.6L262.3 92.9L261.5 94.2L261.1 95.7L260.6 94.2ZM262.1 92.9L262.8 91.8L263.3 90.5L263.7 91.8L264.5 92.9L263.7 93.9L263.3 95.2L262.8 93.9ZM264.5 92.9L265.2 91.3L265.7 89.4L266.1 91.3L266.9 92.9L266.1 94.4L265.7 96.4L265.2 94.4ZM267.0 92.9L267.8 92.0L268.2 90.9L268.7 92.0L269.4 92.9L268.7 93.7L268.2 94.8L267.8 93.7ZM268.9 92.9L269.7 90.9L270.1 88.4L270.6 90.9L271.3 92.9L270.6 94.9L270.1 97.3L269.7 94.9ZM270.8 92.9L271.6 90.8L272.0 88.2L272.5 90.8L273.2 92.9L272.5 95.0L272.0 97.5L271.6 95.0ZM273.2 92.9L274.0 91.1L274.4 89.0L274.9 91.1L275.6 92.9L274.9 94.6L274.4 96.7L274.0 94.6ZM275.2 92.9L276.0 91.6L276.4 90.1L276.9 91.6L277.6 92.9L276.9 94.1L276.4 95.6L276.0 94.1ZM278.0 92.9L278.8 91.5L279.2 89.8L279.7 91.5L280.4 92.9L279.7 94.2L279.2 95.9L278.8 94.2ZM179.8 111.6L180.6 111.1L181.0 110.5L181.4 111.1L182.2 111.6L181.4 112.1L181.0 112.8L180.6 112.1ZM183.8 111.6L184.6 111.0L185.0 110.2L185.4 111.0L186.2 111.6L185.4 112.3L185.0 113.0L184.6 112.3ZM187.8 111.6L188.6 111.0L189.0 110.3L189.4 111.0L190.2 111.6L189.4 112.3L189.0 113.0L188.6 112.3ZM191.8 111.6L192.6 111.0L193.0 110.2L193.4 111.0L194.2 111.6L193.4 112.3L193.0 113.1L192.6 112.3ZM195.8 111.6L196.6 111.1L197.0 110.4L197.4 111.1L198.2 111.6L197.4 112.2L197.0 112.9L196.6 112.2ZM199.8 111.6L200.6 111.0L201.0 110.2L201.4 111.0L202.2 111.6L201.4 112.3L201.0 113.1L200.6 112.3ZM203.8 111.6L204.6 111.1L205.0 110.5L205.4 111.1L206.2 111.6L205.4 112.2L205.0 112.8L204.6 112.2ZM207.8 111.6L208.6 111.1L209.0 110.3L209.4 111.1L210.2 111.6L209.4 112.2L209.0 112.9L208.6 112.2ZM211.8 111.6L212.6 108.5L213.0 104.7L213.4 108.5L214.2 111.6L213.4 114.8L213.0 118.6L212.6 114.8ZM214.0 111.6L214.8 109.1L215.2 106.1L215.7 109.1L216.4 111.6L215.7 114.1L215.2 117.2L214.8 114.1ZM217.0 111.6L217.7 110.8L218.2 109.7L218.6 110.8L219.4 111.6L218.6 112.5L218.2 113.6L217.7 112.5ZM218.9 111.6L219.6 109.2L220.1 106.3L220.5 109.2L221.3 111.6L220.5 114.0L220.1 117.0L219.6 114.0ZM221.6 111.6L222.3 108.9L222.8 105.6L223.2 108.9L224.0 111.6L223.2 114.3L222.8 117.6L222.3 114.3ZM223.6 111.6L224.3 109.1L224.8 105.9L225.2 109.1L226.0 111.6L225.2 114.2L224.8 117.3L224.3 114.2ZM226.1 111.6L226.8 109.6L227.3 107.1L227.7 109.6L228.5 111.6L227.7 113.7L227.3 116.1L226.8 113.7ZM228.4 111.6L229.1 110.0L229.6 107.9L230.0 110.0L230.8 111.6L230.0 113.3L229.6 115.4L229.1 113.3ZM230.7 111.6L231.5 109.7L231.9 107.4L232.4 109.7L233.1 111.6L232.4 113.6L231.9 115.9L231.5 113.6ZM233.4 111.6L234.2 108.9L234.6 105.5L235.1 108.9L235.8 111.6L235.1 114.4L234.6 117.8L234.2 114.4ZM235.7 111.6L236.4 110.2L236.9 108.4L237.3 110.2L238.1 111.6L237.3 113.1L236.9 114.9L236.4 113.1ZM237.6 111.6L238.4 109.5L238.8 107.0L239.3 109.5L240.0 111.6L239.3 113.7L238.8 116.3L238.4 113.7ZM239.6 111.6L240.3 109.7L240.8 107.3L241.2 109.7L242.0 111.6L241.2 113.6L240.8 116.0L240.3 113.6ZM241.5 111.6L242.2 108.5L242.7 104.7L243.1 108.5L243.9 111.6L243.1 114.8L242.7 118.6L242.2 114.8ZM244.3 111.6L245.0 108.9L245.5 105.5L245.9 108.9L246.7 111.6L245.9 114.4L245.5 117.8L245.0 114.4ZM213.8 130.4L214.6 129.5L215.0 128.5L215.4 129.5L216.2 130.4L215.4 131.3L215.0 132.3L214.6 131.3ZM216.7 130.4L217.5 129.0L217.9 127.3L218.4 129.0L219.1 130.4L218.4 131.8L217.9 133.5L217.5 131.8ZM219.4 130.4L220.2 129.8L220.6 128.9L221.1 129.8L221.8 130.4L221.1 131.1L220.6 131.9L220.2 131.1ZM221.4 130.4L222.1 128.7L222.6 126.7L223.0 128.7L223.8 130.4L223.0 132.1L222.6 134.2L222.1 132.1ZM223.8 130.4L224.5 128.2L225.0 125.5L225.4 128.2L226.2 130.4L225.4 132.6L225.0 135.3L224.5 132.6ZM226.4 130.4L227.2 129.5L227.6 128.3L228.1 129.5L228.8 130.4L228.1 131.3L227.6 132.5L227.2 131.3ZM228.5 130.4L229.3 128.9L229.7 127.0L230.2 128.9L230.9 130.4L230.2 131.9L229.7 133.8L229.3 131.9ZM231.4 130.4L232.2 128.9L232.6 127.1L233.1 128.9L233.8 130.4L233.1 131.9L232.6 133.7L232.2 131.9ZM233.8 130.4L234.5 129.1L235.0 127.4L235.4 129.1L236.2 130.4L235.4 131.8L235.0 133.4L234.5 131.8ZM236.4 130.4L237.2 128.5L237.6 126.2L238.1 128.5L238.8 130.4L238.1 132.3L237.6 134.6L237.2 132.3ZM238.7 130.4L239.5 128.1L239.9 125.3L240.4 128.1L241.1 130.4L240.4 132.7L239.9 135.6L239.5 132.7ZM241.7 130.4L242.4 128.5L242.9 126.2L243.3 128.5L244.1 130.4L243.3 132.3L242.9 134.6L242.4 132.3ZM244.4 130.4L245.2 128.9L245.6 127.1L246.1 128.9L246.8 130.4L246.1 131.9L245.6 133.7L245.2 131.9ZM246.8 130.4L247.6 128.8L248.0 126.8L248.4 128.8L249.2 130.4L248.4 132.0L248.0 134.0L247.6 132.0ZM249.8 130.4L250.5 128.3L251.0 125.7L251.4 128.3L252.2 130.4L251.4 132.5L251.0 135.1L250.5 132.5ZM252.0 130.4L252.7 127.9L253.2 124.9L253.6 127.9L254.4 130.4L253.6 132.9L253.2 135.9L252.7 132.9ZM254.6 130.4L255.4 128.4L255.8 126.0L256.3 128.4L257.0 130.4L256.3 132.4L255.8 134.8L255.4 132.4ZM257.2 130.4L258.0 128.1L258.4 125.2L258.9 128.1L259.6 130.4L258.9 132.7L258.4 135.6L258.0 132.7ZM260.0 130.4L260.7 129.7L261.2 128.8L261.6 129.7L262.4 130.4L261.6 131.1L261.2 132.0L260.7 131.1ZM262.8 130.4L263.5 127.8L264.0 124.7L264.4 127.8L265.2 130.4L264.4 133.0L264.0 136.2L263.5 133.0ZM264.8 130.4L265.6 128.3L266.0 125.6L266.5 128.3L267.2 130.4L266.5 132.6L266.0 135.2L265.6 132.6ZM267.4 130.4L268.1 128.5L268.6 126.2L269.0 128.5L269.8 130.4L269.0 132.3L268.6 134.6L268.1 132.3ZM269.7 130.4L270.4 127.9L270.9 124.8L271.3 127.9L272.1 130.4L271.3 132.9L270.9 136.0L270.4 132.9ZM272.3 130.4L273.0 127.9L273.5 124.9L273.9 127.9L274.7 130.4L273.9 132.9L273.5 135.9L273.0 132.9ZM275.2 130.4L276.0 129.5L276.4 128.5L276.9 129.5L277.6 130.4L276.9 131.3L276.4 132.4L276.0 131.3ZM277.8 130.4L278.6 128.1L279.0 125.2L279.5 128.1L280.2 130.4L279.5 132.7L279.0 135.6L278.6 132.7Z" fill="#1ee01e" opacity="0.72"/>
<path d="M280.8 74.1L281.6 72.1L282.0 69.7L282.4 72.1L283.2 74.1L282.4 76.1L282.0 78.5L281.6 76.1ZM284.4 74.1L285.1 72.9L285.6 71.4L286.0 72.9L286.8 74.1L286.0 75.3L285.6 76.8L285.1 75.3ZM286.9 74.1L287.6 72.4L288.1 70.3L288.5 72.4L289.3 74.1L288.5 75.8L288.1 77.9L287.6 75.8ZM290.3 74.1L291.1 73.5L291.5 72.8L292.0 73.5L292.7 74.1L292.0 74.7L291.5 75.4L291.1 74.7ZM293.2 74.1L293.9 73.0L294.4 71.6L294.8 73.0L295.6 74.1L294.8 75.2L294.4 76.6L293.9 75.2ZM295.9 74.1L296.7 73.3L297.1 72.3L297.6 73.3L298.3 74.1L297.6 74.9L297.1 75.9L296.7 74.9ZM299.7 74.1L300.5 72.5L300.9 70.5L301.4 72.5L302.1 74.1L301.4 75.7L300.9 77.7L300.5 75.7ZM302.3 74.1L303.1 73.4L303.5 72.6L304.0 73.4L304.7 74.1L304.0 74.8L303.5 75.6L303.1 74.8ZM305.5 74.1L306.3 72.0L306.7 69.5L307.2 72.0L307.9 74.1L307.2 76.2L306.7 78.7L306.3 76.2ZM309.3 74.1L310.1 73.5L310.5 72.8L311.0 73.5L311.7 74.1L311.0 74.7L310.5 75.4L310.1 74.7ZM312.1 74.1L312.8 72.4L313.3 70.3L313.7 72.4L314.5 74.1L313.7 75.8L313.3 77.9L312.8 75.8ZM280.8 92.9L281.6 91.7L282.0 90.3L282.4 91.7L283.2 92.9L282.4 94.0L282.0 95.4L281.6 94.0ZM284.4 92.9L285.2 92.1L285.6 91.2L286.1 92.1L286.8 92.9L286.1 93.6L285.6 94.5L285.2 93.6ZM287.2 92.9L287.9 91.3L288.4 89.3L288.8 91.3L289.6 92.9L288.8 94.5L288.4 96.4L287.9 94.5ZM290.5 92.9L291.3 92.0L291.7 91.0L292.2 92.0L292.9 92.9L292.2 93.7L291.7 94.8L291.3 93.7ZM294.1 92.9L294.8 92.4L295.3 91.9L295.7 92.4L296.5 92.9L295.7 93.3L295.3 93.8L294.8 93.3ZM297.0 92.9L297.7 91.6L298.2 90.1L298.6 91.6L299.4 92.9L298.6 94.1L298.2 95.6L297.7 94.1ZM299.8 92.9L300.5 92.3L301.0 91.7L301.4 92.3L302.2 92.9L301.4 93.4L301.0 94.0L300.5 93.4ZM303.8 92.9L304.6 92.1L305.0 91.1L305.5 92.1L306.2 92.9L305.5 93.6L305.0 94.6L304.6 93.6ZM307.1 92.9L307.8 91.4L308.3 89.7L308.7 91.4L309.5 92.9L308.7 94.3L308.3 96.0L307.8 94.3ZM310.6 92.9L311.4 91.6L311.8 90.1L312.3 91.6L313.0 92.9L312.3 94.1L311.8 95.6L311.4 94.1Z" fill="#1ee01e" opacity="0.63"/>
<path d="M246.8 111.6L247.6 110.3L248.0 108.6L248.4 110.3L249.2 111.6L248.4 113.0L248.0 114.7L247.6 113.0ZM249.6 111.6L250.3 109.5L250.8 106.9L251.2 109.5L252.0 111.6L251.2 113.8L250.8 116.4L250.3 113.8ZM252.3 111.6L253.0 110.5L253.5 109.1L253.9 110.5L254.7 111.6L253.9 112.8L253.5 114.2L253.0 112.8ZM254.3 111.6L255.1 110.4L255.5 109.0L256.0 110.4L256.7 111.6L256.0 112.8L255.5 114.3L255.1 112.8ZM256.3 111.6L257.1 108.2L257.5 103.9L258.0 108.2L258.7 111.6L258.0 115.1L257.5 119.4L257.1 115.1ZM258.6 111.6L259.4 107.9L259.8 103.3L260.3 107.9L261.0 111.6L260.3 115.4L259.8 120.0L259.4 115.4ZM260.7 111.6L261.4 108.9L261.9 105.5L262.3 108.9L263.1 111.6L262.3 114.4L261.9 117.8L261.4 114.4ZM262.9 111.6L263.6 110.3L264.1 108.7L264.5 110.3L265.3 111.6L264.5 112.9L264.1 114.5L263.6 112.9ZM265.4 111.6L266.1 109.9L266.6 107.7L267.0 109.9L267.8 111.6L267.0 113.4L266.6 115.6L266.1 113.4ZM268.2 111.6L268.9 110.0L269.4 108.1L269.8 110.0L270.6 111.6L269.8 113.2L269.4 115.2L268.9 113.2ZM270.6 111.6L271.3 108.8L271.8 105.3L272.2 108.8L273.0 111.6L272.2 114.5L271.8 118.0L271.3 114.5ZM273.2 111.6L274.0 108.8L274.4 105.2L274.9 108.8L275.6 111.6L274.9 114.5L274.4 118.0L274.0 114.5ZM275.1 111.6L275.8 109.4L276.3 106.8L276.7 109.4L277.5 111.6L276.7 113.8L276.3 116.5L275.8 113.8ZM277.2 111.6L277.9 109.2L278.4 106.2L278.8 109.2L279.6 111.6L278.8 114.1L278.4 117.0L277.9 114.1Z" fill="#1ee01e" opacity="0.81"/>
<path d="M260.8 111.6L261.6 108.1L262.0 103.7L262.4 108.1L263.2 111.6L262.4 115.2L262.0 119.6L261.6 115.2ZM256.8 111.6L257.6 107.3L258.0 102.0L258.4 107.3L259.2 111.6L258.4 116.0L258.0 121.3L257.6 116.0Z" fill="#1ee01e" opacity="0.54"/>
<path d="M253.8 130.4L254.6 125.7L255.0 119.8L255.4 125.7L256.2 130.4L255.4 135.2L255.0 141.0L254.6 135.2ZM260.8 130.4L261.6 126.7L262.0 122.1L262.4 126.7L263.2 130.4L262.4 134.1L262.0 138.7L261.6 134.1ZM268.8 130.4L269.6 125.7L270.0 119.9L270.4 125.7L271.2 130.4L270.4 135.1L270.0 140.9L269.6 135.1Z" fill="#1ee01e" opacity="0.45"/>
<line x1="178.9" y1="74.1" x2="314.9" y2="74.1" stroke="#10cc10" stroke-width="1.4"/>
<line x1="178.9" y1="92.9" x2="314.9" y2="92.9" stroke="#10cc10" stroke-width="1.4"/>
<line x1="178.9" y1="111.6" x2="314.9" y2="111.6" stroke="#10cc10" stroke-width="1.4"/>
<line x1="178.9" y1="130.4" x2="314.9" y2="130.4" stroke="#10cc10" stroke-width="1.4"/>
<line x1="212.9" y1="64.7" x2="212.9" y2="139.8" stroke="#808080" stroke-width="0.9" stroke-dasharray="0.5,0.5"/>
<line x1="178.9" y1="83.5" x2="314.9" y2="83.5" stroke="#808080" stroke-width="0.9" stroke-dasharray="0.5,0.5"/>
<line x1="246.9" y1="64.7" x2="246.9" y2="139.8" stroke="#808080" stroke-width="0.9" stroke-dasharray="0.5,0.5"/>
<line x1="178.9" y1="102.2" x2="314.9" y2="102.2" stroke="#808080" stroke-width="0.9" stroke-dasharray="0.5,0.5"/>
<line x1="280.9" y1="64.7" x2="280.9" y2="139.8" stroke="#808080" stroke-width="0.9" stroke-dasharray="0.5,0.5"/>
<line x1="178.9" y1="121.0" x2="314.9" y2="121.0" stroke="#808080" stroke-width="0.9" stroke-dasharray="0.5,0.5"/>
<path d="M181.9 66.5h5v1.4h-5zM215.9 66.5h5v1.4h-5zM249.9 66.5h5v1.4h-5zM283.9 66.5h5v1.4h-5zM181.9 85.3h5v1.4h-5zM215.9 85.3h5v1.4h-5zM249.9 85.3h5v1.4h-5zM283.9 85.3h5v1.4h-5zM181.9 104.0h5v1.4h-5zM215.9 104.0h5v1.4h-5zM249.9 104.0h5v1.4h-5zM283.9 104.0h5v1.4h-5zM181.9 122.8h5v1.4h-5zM215.9 122.8h5v1.4h-5zM249.9 122.8h5v1.4h-5zM283.9 122.8h5v1.4h-5z" fill="#0a6a0a" opacity="0.35"/>
<rect x="27.3" y="272.1" width="136.6" height="75.1" fill="#000"/>
<line x1="27.3" y1="281.5" x2="163.9" y2="281.5" stroke="#0a8a0a" stroke-width="3" opacity="0.3"/>
<line x1="27.3" y1="300.3" x2="163.9" y2="300.3" stroke="#0a8a0a" stroke-width="3" opacity="0.3"/>
<line x1="27.3" y1="319.0" x2="163.9" y2="319.0" stroke="#0a8a0a" stroke-width="3" opacity="0.3"/>
<line x1="27.3" y1="337.8" x2="163.9" y2="337.8" stroke="#0a8a0a" stroke-width="3" opacity="0.3"/>
<path d="M28.3 281.5L29.3 280.1L30.3 281.5L29.3 282.8ZM39.7 281.5L40.7 274.5L41.7 281.5L40.7 288.5ZM52.5 281.5L53.5 275.7L54.5 281.5L53.5 287.2ZM62.4 281.5L63.5 279.9L64.5 281.5L63.5 283.1ZM73.8 281.5L74.9 279.9L75.9 281.5L74.9 283.1ZM86.6 281.5L87.7 280.2L88.7 281.5L87.7 282.7ZM96.6 281.5L97.6 276.0L98.6 281.5L97.6 286.9ZM108.0 281.5L109.0 272.8L110.0 281.5L109.0 290.2ZM120.8 281.5L121.8 275.3L122.8 281.5L121.8 287.6ZM130.7 281.5L131.8 280.1L132.8 281.5L131.8 282.8ZM142.1 281.5L143.2 279.7L144.2 281.5L143.2 283.3ZM154.9 281.5L155.9 280.0L157.0 281.5L155.9 283.0ZM28.3 300.3L29.3 298.5L30.3 300.3L29.3 302.0ZM39.7 300.3L40.7 298.8L41.7 300.3L40.7 301.8ZM52.5 300.3L53.5 297.0L54.5 300.3L53.5 303.5ZM62.4 300.3L63.5 299.6L64.5 300.3L63.5 300.9ZM73.8 300.3L74.9 298.7L75.9 300.3L74.9 301.9ZM86.6 300.3L87.7 298.5L88.7 300.3L87.7 302.0ZM96.6 300.3L97.6 298.0L98.6 300.3L97.6 302.6ZM108.0 300.3L109.0 296.9L110.0 300.3L109.0 303.6ZM120.8 300.3L121.8 296.2L122.8 300.3L121.8 304.3ZM130.7 300.3L131.8 299.0L132.8 300.3L131.8 301.5ZM142.1 300.3L143.2 298.6L144.2 300.3L143.2 301.9ZM154.9 300.3L155.9 297.1L157.0 300.3L155.9 303.4ZM28.3 319.0L29.3 313.5L30.3 319.0L29.3 324.6ZM39.7 319.0L40.7 314.8L41.7 319.0L40.7 323.3ZM52.5 319.0L53.5 312.9L54.5 319.0L53.5 325.2ZM62.4 319.0L63.5 316.0L64.5 319.0L63.5 322.0ZM73.8 319.0L74.9 315.7L75.9 319.0L74.9 322.4ZM86.6 319.0L87.7 315.5L88.7 319.0L87.7 322.6ZM96.6 319.0L97.6 314.1L98.6 319.0L97.6 324.0ZM108.0 319.0L109.0 313.7L110.0 319.0L109.0 324.4ZM120.8 319.0L121.8 314.7L122.8 319.0L121.8 323.4ZM130.7 319.0L131.8 318.2L132.8 319.0L131.8 319.9ZM142.1 319.0L143.2 318.3L144.2 319.0L143.2 319.8ZM154.9 319.0L155.9 318.1L157.0 319.0L155.9 319.9ZM28.3 337.8L29.3 336.9L30.3 337.8L29.3 338.7ZM39.7 337.8L40.7 337.2L41.7 337.8L40.7 338.4ZM52.5 337.8L53.5 337.2L54.5 337.8L53.5 338.5ZM62.4 337.8L63.5 331.1L64.5 337.8L63.5 344.5ZM73.8 337.8L74.9 329.6L75.9 337.8L74.9 346.0ZM86.6 337.8L87.7 330.4L88.7 337.8L87.7 345.2ZM96.6 337.8L97.6 337.0L98.6 337.8L97.6 338.6ZM108.0 337.8L109.0 337.1L110.0 337.8L109.0 338.5ZM120.8 337.8L121.8 337.1L122.8 337.8L121.8 338.6ZM130.7 337.8L131.8 337.1L132.8 337.8L131.8 338.5ZM142.1 337.8L143.2 337.1L144.2 337.8L143.2 338.5ZM154.9 337.8L155.9 337.0L157.0 337.8L155.9 338.6Z" fill="#0a8a0a" opacity="0.45"/>
<path d="M28.8 281.5L29.0 280.7L29.3 279.8L29.6 280.7L29.8 281.5L29.6 282.2L29.3 283.2L29.0 282.2ZM40.2 281.5L40.4 277.6L40.7 272.8L41.0 277.6L41.2 281.5L41.0 285.4L40.7 290.2L40.4 285.4ZM53.0 281.5L53.2 278.3L53.5 274.3L53.8 278.3L54.0 281.5L53.8 284.7L53.5 288.7L53.2 284.7ZM62.9 281.5L63.1 280.6L63.5 279.5L63.8 280.6L64.0 281.5L63.8 282.4L63.5 283.5L63.1 282.4ZM74.3 281.5L74.5 280.6L74.9 279.5L75.2 280.6L75.4 281.5L75.2 282.4L74.9 283.5L74.5 282.4ZM87.1 281.5L87.3 280.8L87.7 279.9L88.0 280.8L88.2 281.5L88.0 282.2L87.7 283.0L87.3 282.2ZM97.1 281.5L97.3 278.4L97.6 274.7L97.9 278.4L98.1 281.5L97.9 284.5L97.6 288.3L97.3 284.5ZM108.5 281.5L108.7 276.6L109.0 270.6L109.3 276.6L109.5 281.5L109.3 286.4L109.0 292.3L108.7 286.4ZM121.3 281.5L121.5 278.0L121.8 273.8L122.1 278.0L122.3 281.5L122.1 284.9L121.8 289.2L121.5 284.9ZM131.2 281.5L131.4 280.7L131.8 279.8L132.1 280.7L132.3 281.5L132.1 282.2L131.8 283.2L131.4 282.2ZM142.6 281.5L142.8 280.5L143.2 279.2L143.5 280.5L143.7 281.5L143.5 282.5L143.2 283.8L142.8 282.5ZM155.4 281.5L155.6 280.6L155.9 279.6L156.3 280.6L156.5 281.5L156.3 282.3L155.9 283.4L155.6 282.3ZM28.8 300.3L29.0 299.3L29.3 298.1L29.6 299.3L29.8 300.3L29.6 301.2L29.3 302.4L29.0 301.2ZM40.2 300.3L40.4 299.4L40.7 298.4L41.0 299.4L41.2 300.3L41.0 301.1L40.7 302.1L40.4 301.1ZM53.0 300.3L53.2 298.5L53.5 296.2L53.8 298.5L54.0 300.3L53.8 302.1L53.5 304.3L53.2 302.1ZM62.9 300.3L63.1 299.9L63.5 299.5L63.8 299.9L64.0 300.3L63.8 300.6L63.5 301.1L63.1 300.6ZM74.3 300.3L74.5 299.4L74.9 298.3L75.2 299.4L75.4 300.3L75.2 301.2L74.9 302.3L74.5 301.2ZM87.1 300.3L87.3 299.3L87.7 298.1L88.0 299.3L88.2 300.3L88.0 301.2L87.7 302.5L87.3 301.2ZM97.1 300.3L97.3 299.0L97.6 297.4L97.9 299.0L98.1 300.3L97.9 301.6L97.6 303.1L97.3 301.6ZM108.5 300.3L108.7 298.4L109.0 296.1L109.3 298.4L109.5 300.3L109.3 302.1L109.0 304.4L108.7 302.1ZM121.3 300.3L121.5 298.0L121.8 295.2L122.1 298.0L122.3 300.3L122.1 302.6L121.8 305.4L121.5 302.6ZM131.2 300.3L131.4 299.6L131.8 298.7L132.1 299.6L132.3 300.3L132.1 301.0L131.8 301.8L131.4 301.0ZM142.6 300.3L142.8 299.3L143.2 298.2L143.5 299.3L143.7 300.3L143.5 301.2L143.2 302.4L142.8 301.2ZM155.4 300.3L155.6 298.5L155.9 296.3L156.3 298.5L156.5 300.3L156.3 302.0L155.9 304.2L155.6 302.0ZM28.8 319.0L29.0 315.9L29.3 312.1L29.6 315.9L29.8 319.0L29.6 322.2L29.3 326.0L29.0 322.2ZM40.2 319.0L40.4 316.6L40.7 313.7L41.0 316.6L41.2 319.0L41.0 321.4L40.7 324.4L40.4 321.4ZM53.0 319.0L53.2 315.6L53.5 311.4L53.8 315.6L54.0 319.0L53.8 322.5L53.5 326.7L53.2 322.5ZM62.9 319.0L63.1 317.3L63.5 315.3L63.8 317.3L64.0 319.0L63.8 320.7L63.5 322.8L63.1 320.7ZM74.3 319.0L74.5 317.2L74.9 314.9L75.2 317.2L75.4 319.0L75.2 320.9L74.9 323.2L74.5 320.9ZM87.1 319.0L87.3 317.1L87.7 314.6L88.0 317.1L88.2 319.0L88.0 321.0L87.7 323.4L87.3 321.0ZM97.1 319.0L97.3 316.2L97.6 312.8L97.9 316.2L98.1 319.0L97.9 321.8L97.6 325.3L97.3 321.8ZM108.5 319.0L108.7 316.0L109.0 312.3L109.3 316.0L109.5 319.0L109.3 322.1L109.0 325.7L108.7 322.1ZM121.3 319.0L121.5 316.6L121.8 313.6L122.1 316.6L122.3 319.0L122.1 321.5L121.8 324.5L121.5 321.5ZM131.2 319.0L131.4 318.6L131.8 318.0L132.1 318.6L132.3 319.0L132.1 319.5L131.8 320.1L131.4 319.5ZM142.6 319.0L142.8 318.6L143.2 318.1L143.5 318.6L143.7 319.0L143.5 319.5L143.2 320.0L142.8 319.5ZM155.4 319.0L155.6 318.5L155.9 317.9L156.3 318.5L156.5 319.0L156.3 319.5L155.9 320.2L155.6 319.5ZM28.8 337.8L29.0 337.3L29.3 336.7L29.6 337.3L29.8 337.8L29.6 338.3L29.3 338.9L29.0 338.3ZM40.2 337.8L40.4 337.5L40.7 337.0L41.0 337.5L41.2 337.8L41.0 338.2L40.7 338.6L40.4 338.2ZM53.0 337.8L53.2 337.5L53.5 337.0L53.8 337.5L54.0 337.8L53.8 338.2L53.5 338.6L53.2 338.2ZM62.9 337.8L63.1 334.0L63.5 329.4L63.8 334.0L64.0 337.8L63.8 341.6L63.5 346.2L63.1 341.6ZM74.3 337.8L74.5 333.2L74.9 327.6L75.2 333.2L75.4 337.8L75.2 342.4L74.9 348.0L74.5 342.4ZM87.1 337.8L87.3 333.7L87.7 328.6L88.0 333.7L88.2 337.8L88.0 342.0L87.7 347.1L87.3 342.0ZM97.1 337.8L97.3 337.4L97.6 336.8L97.9 337.4L98.1 337.8L97.9 338.3L97.6 338.8L97.3 338.3ZM108.5 337.8L108.7 337.4L109.0 336.9L109.3 337.4L109.5 337.8L109.3 338.2L109.0 338.7L108.7 338.2ZM121.3 337.8L121.5 337.4L121.8 336.9L122.1 337.4L122.3 337.8L122.1 338.2L121.8 338.8L121.5 338.2ZM131.2 337.8L131.4 337.4L131.8 336.9L132.1 337.4L132.3 337.8L132.1 338.2L131.8 338.7L131.4 338.2ZM142.6 337.8L142.8 337.4L143.2 336.9L143.5 337.4L143.7 337.8L143.5 338.2L143.2 338.7L142.8 338.2ZM155.4 337.8L155.6 337.4L155.9 336.8L156.3 337.4L156.5 337.8L156.3 338.3L155.9 338.8L155.6 338.3Z" fill="#1ee01e" opacity="0.90"/>
<line x1="27.3" y1="281.5" x2="163.9" y2="281.5" stroke="#10cc10" stroke-width="1.4"/>
<line x1="27.3" y1="300.3" x2="163.9" y2="300.3" stroke="#10cc10" stroke-width="1.4"/>
<line x1="27.3" y1="319.0" x2="163.9" y2="319.0" stroke="#10cc10" stroke-width="1.4"/>
<line x1="27.3" y1="337.8" x2="163.9" y2="337.8" stroke="#10cc10" stroke-width="1.4"/>
<line x1="61.5" y1="272.1" x2="61.5" y2="347.2" stroke="#808080" stroke-width="0.9" stroke-dasharray="0.5,0.5"/>
<line x1="27.3" y1="290.9" x2="163.9" y2="290.9" stroke="#808080" stroke-width="0.9" stroke-dasharray="0.5,0.5"/>
<line x1="95.6" y1="272.1" x2="95.6" y2="347.2" stroke="#808080" stroke-width="0.9" stroke-dasharray="0.5,0.5"/>
<line x1="27.3" y1="309.7" x2="163.9" y2="309.7" stroke="#808080" stroke-width="0.9" stroke-dasharray="0.5,0.5"/>
<line x1="129.8" y1="272.1" x2="129.8" y2="347.2" stroke="#808080" stroke-width="0.9" stroke-dasharray="0.5,0.5"/>
<line x1="27.3" y1="328.4" x2="163.9" y2="328.4" stroke="#808080" stroke-width="0.9" stroke-dasharray="0.5,0.5"/>
<path d="M30.3 273.9h5v1.4h-5zM64.5 273.9h5v1.4h-5zM98.6 273.9h5v1.4h-5zM132.8 273.9h5v1.4h-5zM30.3 292.7h5v1.4h-5zM64.5 292.7h5v1.4h-5zM98.6 292.7h5v1.4h-5zM132.8 292.7h5v1.4h-5zM30.3 311.5h5v1.4h-5zM64.5 311.5h5v1.4h-5zM98.6 311.5h5v1.4h-5zM132.8 311.5h5v1.4h-5zM30.3 330.2h5v1.4h-5zM64.5 330.2h5v1.4h-5zM98.6 330.2h5v1.4h-5zM132.8 330.2h5v1.4h-5z" fill="#0a6a0a" opacity="0.35"/>
<rect x="180.5" y="271.6" width="136.2" height="75.2" fill="#000"/>
<line x1="180.5" y1="281.0" x2="316.7" y2="281.0" stroke="#0a8a0a" stroke-width="3" opacity="0.3"/>
<line x1="180.5" y1="299.8" x2="316.7" y2="299.8" stroke="#0a8a0a" stroke-width="3" opacity="0.3"/>
<line x1="180.5" y1="318.6" x2="316.7" y2="318.6" stroke="#0a8a0a" stroke-width="3" opacity="0.3"/>
<line x1="180.5" y1="337.4" x2="316.7" y2="337.4" stroke="#0a8a0a" stroke-width="3" opacity="0.3"/>
<path d="M189.7 281.0L190.7 276.3L191.7 281.0L190.7 285.7ZM203.7 281.0L204.7 275.9L205.7 281.0L204.7 286.1ZM223.8 281.0L224.8 280.3L225.7 281.0L224.8 281.7ZM237.8 281.0L238.8 280.4L239.7 281.0L238.8 281.6ZM257.8 281.0L258.8 276.0L259.8 281.0L258.8 286.0ZM271.8 281.0L272.8 274.4L273.8 281.0L272.8 287.6ZM291.9 281.0L292.8 280.1L293.8 281.0L292.8 281.9ZM305.9 281.0L306.8 280.1L307.8 281.0L306.8 281.9ZM189.7 299.8L190.7 298.1L191.7 299.8L190.7 301.5ZM203.7 299.8L204.7 298.5L205.7 299.8L204.7 301.1ZM223.8 299.8L224.8 299.0L225.7 299.8L224.8 300.6ZM237.8 299.8L238.8 299.1L239.7 299.8L238.8 300.5ZM257.8 299.8L258.8 297.2L259.8 299.8L258.8 302.4ZM271.8 299.8L272.8 296.6L273.8 299.8L272.8 303.0ZM291.9 299.8L292.8 297.8L293.8 299.8L292.8 301.8ZM305.9 299.8L306.8 297.1L307.8 299.8L306.8 302.5ZM189.7 318.6L190.7 311.7L191.7 318.6L190.7 325.5ZM203.7 318.6L204.7 310.9L205.7 318.6L204.7 326.3ZM223.8 318.6L224.8 314.3L225.7 318.6L224.8 322.9ZM237.8 318.6L238.8 315.3L239.7 318.6L238.8 321.9ZM257.8 318.6L258.8 314.4L259.8 318.6L258.8 322.8ZM271.8 318.6L272.8 314.6L273.8 318.6L272.8 322.6ZM223.8 337.4L224.8 330.7L225.7 337.4L224.8 344.1ZM237.8 337.4L238.8 329.5L239.7 337.4L238.8 345.3ZM257.8 337.4L258.8 336.5L259.8 337.4L258.8 338.3ZM271.8 337.4L272.8 336.8L273.8 337.4L272.8 338.0ZM291.9 337.4L292.8 336.6L293.8 337.4L292.8 338.2ZM305.9 337.4L306.8 336.6L307.8 337.4L306.8 338.2Z" fill="#0a8a0a" opacity="0.27"/>
<path d="M190.2 281.0L190.4 278.3L190.7 275.1L191.0 278.3L191.2 281.0L191.0 283.7L190.7 286.9L190.4 283.7ZM204.2 281.0L204.4 278.2L204.7 274.7L205.0 278.2L205.2 281.0L205.0 283.8L204.7 287.3L204.4 283.8ZM224.3 281.0L224.4 280.6L224.8 280.1L225.1 280.6L225.2 281.0L225.1 281.4L224.8 281.9L224.4 281.4ZM238.3 281.0L238.4 280.6L238.8 280.2L239.1 280.6L239.2 281.0L239.1 281.4L238.8 281.8L238.4 281.4ZM258.3 281.0L258.5 278.2L258.8 274.8L259.1 278.2L259.3 281.0L259.1 283.8L258.8 287.2L258.5 283.8ZM272.3 281.0L272.5 277.3L272.8 272.8L273.1 277.3L273.3 281.0L273.1 284.7L272.8 289.2L272.5 284.7ZM292.4 281.0L292.5 280.5L292.8 279.9L293.2 280.5L293.3 281.0L293.2 281.5L292.8 282.1L292.5 281.5ZM306.4 281.0L306.5 280.5L306.8 279.9L307.2 280.5L307.3 281.0L307.2 281.5L306.8 282.1L306.5 281.5ZM190.2 299.8L190.4 298.8L190.7 297.7L191.0 298.8L191.2 299.8L191.0 300.8L190.7 301.9L190.4 300.8ZM204.2 299.8L204.4 299.0L204.7 298.1L205.0 299.0L205.2 299.8L205.0 300.6L204.7 301.5L204.4 300.6ZM224.3 299.8L224.4 299.4L224.8 298.8L225.1 299.4L225.2 299.8L225.1 300.2L224.8 300.8L224.4 300.2ZM238.3 299.8L238.4 299.4L238.8 298.9L239.1 299.4L239.2 299.8L239.1 300.2L238.8 300.7L238.4 300.2ZM258.3 299.8L258.5 298.3L258.8 296.5L259.1 298.3L259.3 299.8L259.1 301.3L258.8 303.1L258.5 301.3ZM272.3 299.8L272.5 298.0L272.8 295.8L273.1 298.0L273.3 299.8L273.1 301.6L272.8 303.8L272.5 301.6ZM292.4 299.8L292.5 298.7L292.8 297.3L293.2 298.7L293.3 299.8L293.2 300.9L292.8 302.3L292.5 300.9ZM306.4 299.8L306.5 298.3L306.8 296.4L307.2 298.3L307.3 299.8L307.2 301.3L306.8 303.2L306.5 301.3ZM190.2 318.6L190.4 314.7L190.7 309.9L191.0 314.7L191.2 318.6L191.0 322.5L190.7 327.3L190.4 322.5ZM204.2 318.6L204.4 314.3L204.7 308.9L205.0 314.3L205.2 318.6L205.0 322.9L204.7 328.3L204.4 322.9ZM224.3 318.6L224.4 316.2L224.8 313.2L225.1 316.2L225.2 318.6L225.1 321.0L224.8 324.0L224.4 321.0ZM238.3 318.6L238.4 316.7L238.8 314.5L239.1 316.7L239.2 318.6L239.1 320.5L238.8 322.7L238.4 320.5ZM258.3 318.6L258.5 316.2L258.8 313.4L259.1 316.2L259.3 318.6L259.1 321.0L258.8 323.8L258.5 321.0ZM272.3 318.6L272.5 316.3L272.8 313.6L273.1 316.3L273.3 318.6L273.1 320.9L272.8 323.6L272.5 320.9ZM224.3 337.4L224.4 333.6L224.8 329.1L225.1 333.6L225.2 337.4L225.1 341.2L224.8 345.7L224.4 341.2ZM238.3 337.4L238.4 333.0L238.8 327.6L239.1 333.0L239.2 337.4L239.1 341.8L238.8 347.2L238.4 341.8ZM258.3 337.4L258.5 336.9L258.8 336.3L259.1 336.9L259.3 337.4L259.1 337.9L258.8 338.5L258.5 337.9ZM272.3 337.4L272.5 337.0L272.8 336.6L273.1 337.0L273.3 337.4L273.1 337.8L272.8 338.2L272.5 337.8ZM292.4 337.4L292.5 337.0L292.8 336.4L293.2 337.0L293.3 337.4L293.2 337.8L292.8 338.4L292.5 337.8ZM306.4 337.4L306.5 336.9L306.8 336.4L307.2 336.9L307.3 337.4L307.2 337.9L306.8 338.4L306.5 337.9Z" fill="#1ee01e" opacity="0.54"/>
<line x1="180.5" y1="281.0" x2="316.7" y2="281.0" stroke="#10cc10" stroke-width="1.4"/>
<line x1="180.5" y1="299.8" x2="316.7" y2="299.8" stroke="#10cc10" stroke-width="1.4"/>
<line x1="180.5" y1="318.6" x2="316.7" y2="318.6" stroke="#10cc10" stroke-width="1.4"/>
<line x1="180.5" y1="337.4" x2="316.7" y2="337.4" stroke="#10cc10" stroke-width="1.4"/>
<line x1="214.6" y1="271.6" x2="214.6" y2="346.8" stroke="#808080" stroke-width="0.9" stroke-dasharray="0.5,0.5"/>
<line x1="180.5" y1="290.4" x2="316.7" y2="290.4" stroke="#808080" stroke-width="0.9" stroke-dasharray="0.5,0.5"/>
<line x1="248.6" y1="271.6" x2="248.6" y2="346.8" stroke="#808080" stroke-width="0.9" stroke-dasharray="0.5,0.5"/>
<line x1="180.5" y1="309.2" x2="316.7" y2="309.2" stroke="#808080" stroke-width="0.9" stroke-dasharray="0.5,0.5"/>
<line x1="282.6" y1="271.6" x2="282.6" y2="346.8" stroke="#808080" stroke-width="0.9" stroke-dasharray="0.5,0.5"/>
<line x1="180.5" y1="328.0" x2="316.7" y2="328.0" stroke="#808080" stroke-width="0.9" stroke-dasharray="0.5,0.5"/>
<path d="M183.5 273.4h5v1.4h-5zM217.6 273.4h5v1.4h-5zM251.6 273.4h5v1.4h-5zM285.6 273.4h5v1.4h-5zM183.5 292.2h5v1.4h-5zM217.6 292.2h5v1.4h-5zM251.6 292.2h5v1.4h-5zM285.6 292.2h5v1.4h-5zM183.5 311.0h5v1.4h-5zM217.6 311.0h5v1.4h-5zM251.6 311.0h5v1.4h-5zM285.6 311.0h5v1.4h-5zM183.5 329.8h5v1.4h-5zM217.6 329.8h5v1.4h-5zM251.6 329.8h5v1.4h-5zM285.6 329.8h5v1.4h-5z" fill="#0a6a0a" opacity="0.35"/>
<rect x="26.1" y="475.5" width="136.5" height="75.1" fill="#000"/>
<line x1="26.1" y1="484.9" x2="162.6" y2="484.9" stroke="#0a8a0a" stroke-width="3" opacity="0.3"/>
<line x1="26.1" y1="503.7" x2="162.6" y2="503.7" stroke="#0a8a0a" stroke-width="3" opacity="0.3"/>
<line x1="26.1" y1="522.4" x2="162.6" y2="522.4" stroke="#0a8a0a" stroke-width="3" opacity="0.3"/>
<line x1="26.1" y1="541.2" x2="162.6" y2="541.2" stroke="#0a8a0a" stroke-width="3" opacity="0.3"/>
<path d="M32.1 484.9L33.6 479.3L35.1 484.9L33.6 490.5ZM44.4 484.9L45.9 479.0L47.4 484.9L45.9 490.7ZM57.2 484.9L58.7 478.9L60.2 484.9L58.7 490.9ZM66.2 484.9L67.7 478.6L69.2 484.9L67.7 491.2ZM78.5 484.9L80.0 479.0L81.5 484.9L80.0 490.7ZM91.3 484.9L92.8 478.6L94.3 484.9L92.8 491.2ZM100.3 484.9L101.8 480.6L103.3 484.9L101.8 489.2ZM112.6 484.9L114.1 479.6L115.6 484.9L114.1 490.1ZM125.4 484.9L126.9 478.6L128.4 484.9L126.9 491.2ZM134.5 484.9L136.0 483.3L137.5 484.9L136.0 486.5ZM146.8 484.9L148.3 483.1L149.8 484.9L148.3 486.7ZM159.6 484.9L161.1 483.6L162.6 484.9L161.1 486.2ZM32.1 503.7L33.6 501.4L35.1 503.7L33.6 505.9ZM44.4 503.7L45.9 501.6L47.4 503.7L45.9 505.7ZM57.2 503.7L58.7 501.3L60.2 503.7L58.7 506.0ZM66.2 503.7L67.7 502.5L69.2 503.7L67.7 504.8ZM78.5 503.7L80.0 502.8L81.5 503.7L80.0 504.6ZM91.3 503.7L92.8 502.7L94.3 503.7L92.8 504.7ZM100.3 503.7L101.8 500.9L103.3 503.7L101.8 506.4ZM112.6 503.7L114.1 500.1L115.6 503.7L114.1 507.2ZM125.4 503.7L126.9 500.3L128.4 503.7L126.9 507.0ZM134.5 503.7L136.0 501.7L137.5 503.7L136.0 505.6ZM146.8 503.7L148.3 501.1L149.8 503.7L148.3 506.2ZM159.6 503.7L161.1 501.7L162.6 503.7L161.1 505.6ZM32.1 522.4L33.6 516.9L35.1 522.4L33.6 528.0ZM44.4 522.4L45.9 518.0L47.4 522.4L45.9 526.9ZM57.2 522.4L58.7 518.2L60.2 522.4L58.7 526.6ZM66.2 522.4L67.7 517.2L69.2 522.4L67.7 527.7ZM78.5 522.4L80.0 518.4L81.5 522.4L80.0 526.4ZM91.3 522.4L92.8 518.4L94.3 522.4L92.8 526.5ZM100.3 522.4L101.8 521.5L103.3 522.4L101.8 523.4ZM112.6 522.4L114.1 521.6L115.6 522.4L114.1 523.3ZM125.4 522.4L126.9 521.7L128.4 522.4L126.9 523.1ZM134.5 522.4L136.0 519.7L137.5 522.4L136.0 525.2ZM146.8 522.4L148.3 520.1L149.8 522.4L148.3 524.8ZM159.6 522.4L161.1 520.0L162.6 522.4L161.1 524.9ZM32.1 541.2L33.6 537.2L35.1 541.2L33.6 545.2ZM44.4 541.2L45.9 535.8L47.4 541.2L45.9 546.6ZM57.2 541.2L58.7 536.3L60.2 541.2L58.7 546.1ZM66.2 541.2L67.7 539.8L69.2 541.2L67.7 542.6ZM78.5 541.2L80.0 539.9L81.5 541.2L80.0 542.5ZM91.3 541.2L92.8 540.2L94.3 541.2L92.8 542.3ZM100.3 541.2L101.8 537.6L103.3 541.2L101.8 544.8ZM112.6 541.2L114.1 537.9L115.6 541.2L114.1 544.5ZM125.4 541.2L126.9 538.0L128.4 541.2L126.9 544.4ZM134.5 541.2L136.0 538.7L137.5 541.2L136.0 543.7ZM146.8 541.2L148.3 538.4L149.8 541.2L148.3 544.0ZM159.6 541.2L161.1 538.0L162.6 541.2L161.1 544.4Z" fill="#0a8a0a" opacity="0.45"/>
<path d="M32.4 484.9L33.1 481.7L33.6 477.9L34.1 481.7L34.8 484.9L34.1 488.0L33.6 491.9L33.1 488.0ZM44.7 484.9L45.5 481.6L45.9 477.6L46.4 481.6L47.1 484.9L46.4 488.2L45.9 492.2L45.5 488.2ZM57.5 484.9L58.2 481.5L58.7 477.4L59.2 481.5L59.9 484.9L59.2 488.3L58.7 492.4L58.2 488.3ZM66.5 484.9L67.3 481.3L67.7 477.0L68.2 481.3L68.9 484.9L68.2 488.4L67.7 492.8L67.3 488.4ZM78.8 484.9L79.6 481.6L80.0 477.6L80.5 481.6L81.2 484.9L80.5 488.2L80.0 492.2L79.6 488.2ZM91.6 484.9L92.4 481.4L92.8 477.1L93.3 481.4L94.0 484.9L93.3 488.4L92.8 492.7L92.4 488.4ZM100.6 484.9L101.4 482.5L101.8 479.6L102.3 482.5L103.0 484.9L102.3 487.3L101.8 490.2L101.4 487.3ZM112.9 484.9L113.7 481.9L114.1 478.3L114.6 481.9L115.3 484.9L114.6 487.8L114.1 491.4L113.7 487.8ZM125.7 484.9L126.5 481.3L126.9 477.0L127.4 481.3L128.1 484.9L127.4 488.4L126.9 492.8L126.5 488.4ZM134.8 484.9L135.5 484.0L136.0 482.9L136.4 484.0L137.2 484.9L136.4 485.8L136.0 486.9L135.5 485.8ZM147.1 484.9L147.8 483.9L148.3 482.7L148.7 483.9L149.5 484.9L148.7 485.9L148.3 487.1L147.8 485.9ZM159.9 484.9L160.6 484.2L161.1 483.3L161.5 484.2L162.3 484.9L161.5 485.6L161.1 486.5L160.6 485.6ZM32.4 503.7L33.1 502.4L33.6 500.8L34.1 502.4L34.8 503.7L34.1 504.9L33.6 506.5L33.1 504.9ZM44.7 503.7L45.5 502.5L45.9 501.1L46.4 502.5L47.1 503.7L46.4 504.8L45.9 506.2L45.5 504.8ZM57.5 503.7L58.2 502.4L58.7 500.8L59.2 502.4L59.9 503.7L59.2 505.0L58.7 506.6L58.2 505.0ZM66.5 503.7L67.3 503.0L67.7 502.2L68.2 503.0L68.9 503.7L68.2 504.3L67.7 505.1L67.3 504.3ZM78.8 503.7L79.6 503.2L80.0 502.5L80.5 503.2L81.2 503.7L80.5 504.2L80.0 504.8L79.6 504.2ZM91.6 503.7L92.4 503.1L92.8 502.4L93.3 503.1L94.0 503.7L93.3 504.2L92.8 504.9L92.4 504.2ZM100.6 503.7L101.4 502.1L101.8 500.2L102.3 502.1L103.0 503.7L102.3 505.2L101.8 507.1L101.4 505.2ZM112.9 503.7L113.7 501.7L114.1 499.2L114.6 501.7L115.3 503.7L114.6 505.7L114.1 508.1L113.7 505.7ZM125.7 503.7L126.5 501.8L126.9 499.4L127.4 501.8L128.1 503.7L127.4 505.6L126.9 507.9L126.5 505.6ZM134.8 503.7L135.5 502.6L136.0 501.2L136.4 502.6L137.2 503.7L136.4 504.8L136.0 506.1L135.5 504.8ZM147.1 503.7L147.8 502.2L148.3 500.5L148.7 502.2L149.5 503.7L148.7 505.1L148.3 506.9L147.8 505.1ZM159.9 503.7L160.6 502.6L161.1 501.2L161.5 502.6L162.3 503.7L161.5 504.7L161.1 506.1L160.6 504.7ZM32.4 522.4L33.1 519.3L33.6 515.5L34.1 519.3L34.8 522.4L34.1 525.6L33.6 529.4L33.1 525.6ZM44.7 522.4L45.5 519.9L45.9 516.8L46.4 519.9L47.1 522.4L46.4 525.0L45.9 528.0L45.5 525.0ZM57.5 522.4L58.2 520.1L58.7 517.2L59.2 520.1L59.9 522.4L59.2 524.8L58.7 527.7L58.2 524.8ZM66.5 522.4L67.3 519.5L67.7 515.8L68.2 519.5L68.9 522.4L68.2 525.4L67.7 529.0L67.3 525.4ZM78.8 522.4L79.6 520.2L80.0 517.4L80.5 520.2L81.2 522.4L80.5 524.7L80.0 527.4L79.6 524.7ZM91.6 522.4L92.4 520.2L92.8 517.4L93.3 520.2L94.0 522.4L93.3 524.7L92.8 527.5L92.4 524.7ZM100.6 522.4L101.4 521.9L101.8 521.3L102.3 521.9L103.0 522.4L102.3 523.0L101.8 523.6L101.4 523.0ZM112.9 522.4L113.7 521.9L114.1 521.3L114.6 521.9L115.3 522.4L114.6 522.9L114.1 523.5L113.7 522.9ZM125.7 522.4L126.5 522.0L126.9 521.6L127.4 522.0L128.1 522.4L127.4 522.8L126.9 523.3L126.5 522.8ZM134.8 522.4L135.5 520.9L136.0 519.0L136.4 520.9L137.2 522.4L136.4 524.0L136.0 525.8L135.5 524.0ZM147.1 522.4L147.8 521.1L148.3 519.5L148.7 521.1L149.5 522.4L148.7 523.7L148.3 525.3L147.8 523.7ZM159.9 522.4L160.6 521.1L161.1 519.4L161.5 521.1L162.3 522.4L161.5 523.8L161.1 525.5L160.6 523.8ZM32.4 541.2L33.1 539.0L33.6 536.2L34.1 539.0L34.8 541.2L34.1 543.5L33.6 546.2L33.1 543.5ZM44.7 541.2L45.5 538.2L45.9 534.5L46.4 538.2L47.1 541.2L46.4 544.3L45.9 548.0L45.5 544.3ZM57.5 541.2L58.2 538.4L58.7 535.1L59.2 538.4L59.9 541.2L59.2 544.0L58.7 547.4L58.2 544.0ZM66.5 541.2L67.3 540.4L67.7 539.5L68.2 540.4L68.9 541.2L68.2 542.0L67.7 542.9L67.3 542.0ZM78.8 541.2L79.6 540.5L80.0 539.6L80.5 540.5L81.2 541.2L80.5 542.0L80.0 542.9L79.6 542.0ZM91.6 541.2L92.4 540.6L92.8 539.9L93.3 540.6L94.0 541.2L93.3 541.8L92.8 542.5L92.4 541.8ZM100.6 541.2L101.4 539.2L101.8 536.7L102.3 539.2L103.0 541.2L102.3 543.2L101.8 545.7L101.4 543.2ZM112.9 541.2L113.7 539.4L114.1 537.1L114.6 539.4L115.3 541.2L114.6 543.0L114.1 545.3L113.7 543.0ZM125.7 541.2L126.5 539.4L126.9 537.2L127.4 539.4L128.1 541.2L127.4 543.0L126.9 545.3L126.5 543.0ZM134.8 541.2L135.5 539.8L136.0 538.1L136.4 539.8L137.2 541.2L136.4 542.6L136.0 544.3L135.5 542.6ZM147.1 541.2L147.8 539.6L148.3 537.7L148.7 539.6L149.5 541.2L148.7 542.8L148.3 544.7L147.8 542.8ZM159.9 541.2L160.6 539.4L161.1 537.2L161.5 539.4L162.3 541.2L161.5 543.0L161.1 545.2L160.6 543.0Z" fill="#1ee01e" opacity="0.90"/>
<line x1="26.1" y1="484.9" x2="162.6" y2="484.9" stroke="#10cc10" stroke-width="1.4"/>
<line x1="26.1" y1="503.7" x2="162.6" y2="503.7" stroke="#10cc10" stroke-width="1.4"/>
<line x1="26.1" y1="522.4" x2="162.6" y2="522.4" stroke="#10cc10" stroke-width="1.4"/>
<line x1="26.1" y1="541.2" x2="162.6" y2="541.2" stroke="#10cc10" stroke-width="1.4"/>
<line x1="60.2" y1="475.5" x2="60.2" y2="550.6" stroke="#808080" stroke-width="0.9" stroke-dasharray="0.5,0.5"/>
<line x1="26.1" y1="494.3" x2="162.6" y2="494.3" stroke="#808080" stroke-width="0.9" stroke-dasharray="0.5,0.5"/>
<line x1="94.3" y1="475.5" x2="94.3" y2="550.6" stroke="#808080" stroke-width="0.9" stroke-dasharray="0.5,0.5"/>
<line x1="26.1" y1="513.0" x2="162.6" y2="513.0" stroke="#808080" stroke-width="0.9" stroke-dasharray="0.5,0.5"/>
<line x1="128.5" y1="475.5" x2="128.5" y2="550.6" stroke="#808080" stroke-width="0.9" stroke-dasharray="0.5,0.5"/>
<line x1="26.1" y1="531.8" x2="162.6" y2="531.8" stroke="#808080" stroke-width="0.9" stroke-dasharray="0.5,0.5"/>
<path d="M29.1 477.3h5v1.4h-5zM63.2 477.3h5v1.4h-5zM97.3 477.3h5v1.4h-5zM131.5 477.3h5v1.4h-5zM29.1 496.1h5v1.4h-5zM63.2 496.1h5v1.4h-5zM97.3 496.1h5v1.4h-5zM131.5 496.1h5v1.4h-5zM29.1 514.8h5v1.4h-5zM63.2 514.8h5v1.4h-5zM97.3 514.8h5v1.4h-5zM131.5 514.8h5v1.4h-5zM29.1 533.6h5v1.4h-5zM63.2 533.6h5v1.4h-5zM97.3 533.6h5v1.4h-5zM131.5 533.6h5v1.4h-5z" fill="#0a6a0a" opacity="0.35"/>
<rect x="182.1" y="476.8" width="135.8" height="74.6" fill="#000"/>
<line x1="182.1" y1="486.1" x2="317.9" y2="486.1" stroke="#0a8a0a" stroke-width="3" opacity="0.3"/>
<line x1="182.1" y1="504.8" x2="317.9" y2="504.8" stroke="#0a8a0a" stroke-width="3" opacity="0.3"/>
<line x1="182.1" y1="523.4" x2="317.9" y2="523.4" stroke="#0a8a0a" stroke-width="3" opacity="0.3"/>
<line x1="182.1" y1="542.1" x2="317.9" y2="542.1" stroke="#0a8a0a" stroke-width="3" opacity="0.3"/>
<path d="M187.1 486.1L188.6 481.0L190.1 486.1L188.6 491.2ZM192.9 486.1L194.4 480.9L195.9 486.1L194.4 491.3ZM199.2 486.1L200.7 481.6L202.2 486.1L200.7 490.7ZM204.6 486.1L206.1 482.0L207.6 486.1L206.1 490.2ZM209.1 486.1L210.6 482.5L212.1 486.1L210.6 489.7ZM221.1 486.1L222.6 482.1L224.1 486.1L222.6 490.2ZM226.9 486.1L228.4 482.4L229.9 486.1L228.4 489.9ZM233.2 486.1L234.7 481.9L236.2 486.1L234.7 490.3ZM238.6 486.1L240.1 482.5L241.6 486.1L240.1 489.7ZM243.1 486.1L244.6 481.9L246.1 486.1L244.6 490.4ZM255.0 486.1L256.5 482.7L258.0 486.1L256.5 489.6ZM260.8 486.1L262.3 481.8L263.8 486.1L262.3 490.4ZM267.1 486.1L268.6 482.0L270.1 486.1L268.6 490.3ZM272.5 486.1L274.0 482.5L275.5 486.1L274.0 489.8ZM277.0 486.1L278.5 482.3L280.0 486.1L278.5 490.0ZM288.9 486.1L290.4 484.5L291.9 486.1L290.4 487.8ZM294.8 486.1L296.2 484.8L297.8 486.1L296.2 487.4ZM301.1 486.1L302.6 484.6L304.1 486.1L302.6 487.7ZM306.4 486.1L307.9 484.4L309.4 486.1L307.9 487.8ZM310.9 486.1L312.4 484.8L313.9 486.1L312.4 487.5ZM187.1 504.8L188.6 501.3L190.1 504.8L188.6 508.2ZM192.9 504.8L194.4 501.5L195.9 504.8L194.4 508.1ZM199.2 504.8L200.7 501.3L202.2 504.8L200.7 508.3ZM204.6 504.8L206.1 501.9L207.6 504.8L206.1 507.6ZM209.1 504.8L210.6 502.3L212.1 504.8L210.6 507.3ZM221.1 504.8L222.6 503.9L224.1 504.8L222.6 505.6ZM226.9 504.8L228.4 503.9L229.9 504.8L228.4 505.6ZM233.2 504.8L234.7 504.0L236.2 504.8L234.7 505.5ZM238.6 504.8L240.1 504.1L241.6 504.8L240.1 505.4ZM243.1 504.8L244.6 504.1L246.1 504.8L244.6 505.4ZM255.0 504.8L256.5 500.8L258.0 504.8L256.5 508.8ZM260.8 504.8L262.3 501.3L263.8 504.8L262.3 508.2ZM267.1 504.8L268.6 500.3L270.1 504.8L268.6 509.3ZM272.5 504.8L274.0 500.8L275.5 504.8L274.0 508.7ZM277.0 504.8L278.5 501.5L280.0 504.8L278.5 508.1ZM288.9 504.8L290.4 501.5L291.9 504.8L290.4 508.0ZM294.8 504.8L296.2 501.9L297.8 504.8L296.2 507.6ZM301.1 504.8L302.6 501.2L304.1 504.8L302.6 508.4ZM306.4 504.8L307.9 501.2L309.4 504.8L307.9 508.3ZM310.9 504.8L312.4 501.7L313.9 504.8L312.4 507.8ZM187.1 523.4L188.6 518.6L190.1 523.4L188.6 528.3ZM192.9 523.4L194.4 518.5L195.9 523.4L194.4 528.4ZM199.2 523.4L200.7 518.3L202.2 523.4L200.7 528.6ZM204.6 523.4L206.1 518.0L207.6 523.4L206.1 528.9ZM209.1 523.4L210.6 519.8L212.1 523.4L210.6 527.1ZM221.1 523.4L222.6 519.8L224.1 523.4L222.6 527.0ZM226.9 523.4L228.4 519.5L229.9 523.4L228.4 527.4ZM233.2 523.4L234.7 519.9L236.2 523.4L234.7 526.9ZM238.6 523.4L240.1 519.5L241.6 523.4L240.1 527.4ZM243.1 523.4L244.6 520.3L246.1 523.4L244.6 526.6ZM255.0 523.4L256.5 522.5L258.0 523.4L256.5 524.3ZM260.8 523.4L262.3 522.7L263.8 523.4L262.3 524.2ZM267.1 523.4L268.6 522.8L270.1 523.4L268.6 524.1ZM272.5 523.4L274.0 522.6L275.5 523.4L274.0 524.2ZM277.0 523.4L278.5 522.7L280.0 523.4L278.5 524.1ZM288.9 523.4L290.4 520.8L291.9 523.4L290.4 526.1ZM294.8 523.4L296.2 520.4L297.8 523.4L296.2 526.4ZM301.1 523.4L302.6 520.8L304.1 523.4L302.6 526.0ZM306.4 523.4L307.9 520.8L309.4 523.4L307.9 526.1ZM310.9 523.4L312.4 519.9L313.9 523.4L312.4 526.9ZM187.1 542.1L188.6 538.8L190.1 542.1L188.6 545.4ZM192.9 542.1L194.4 539.7L195.9 542.1L194.4 544.5ZM199.2 542.1L200.7 538.7L202.2 542.1L200.7 545.5ZM204.6 542.1L206.1 539.7L207.6 542.1L206.1 544.5ZM209.1 542.1L210.6 539.2L212.1 542.1L210.6 544.9ZM221.1 542.1L222.6 540.3L224.1 542.1L222.6 543.9ZM226.9 542.1L228.4 540.5L229.9 542.1L228.4 543.7ZM233.2 542.1L234.7 540.7L236.2 542.1L234.7 543.5ZM238.6 542.1L240.1 540.6L241.6 542.1L240.1 543.5ZM243.1 542.1L244.6 540.6L246.1 542.1L244.6 543.5ZM255.0 542.1L256.5 538.9L258.0 542.1L256.5 545.3ZM260.8 542.1L262.3 537.5L263.8 542.1L262.3 546.7ZM267.1 542.1L268.6 539.0L270.1 542.1L268.6 545.2ZM272.5 542.1L274.0 538.4L275.5 542.1L274.0 545.8ZM277.0 542.1L278.5 537.9L280.0 542.1L278.5 546.3ZM288.9 542.1L290.4 539.2L291.9 542.1L290.4 545.0ZM294.8 542.1L296.2 538.4L297.8 542.1L296.2 545.7ZM301.1 542.1L302.6 539.4L304.1 542.1L302.6 544.8ZM306.4 542.1L307.9 538.4L309.4 542.1L307.9 545.7ZM310.9 542.1L312.4 538.5L313.9 542.1L312.4 545.6Z" fill="#0a8a0a" opacity="0.45"/>
<path d="M187.4 486.1L188.2 483.2L188.6 479.7L189.0 483.2L189.8 486.1L189.0 489.0L188.6 492.5L188.2 489.0ZM193.2 486.1L194.0 483.2L194.4 479.7L194.8 483.2L195.6 486.1L194.8 489.0L194.4 492.6L194.0 489.0ZM199.5 486.1L200.2 483.6L200.7 480.5L201.1 483.6L201.9 486.1L201.1 488.7L200.7 491.8L200.2 488.7ZM204.9 486.1L205.7 483.8L206.1 481.0L206.5 483.8L207.3 486.1L206.5 488.4L206.1 491.3L205.7 488.4ZM209.4 486.1L210.2 484.1L210.6 481.6L211.0 484.1L211.8 486.1L211.0 488.2L210.6 490.6L210.2 488.2ZM221.4 486.1L222.1 483.8L222.6 481.0L223.0 483.8L223.8 486.1L223.0 488.4L222.6 491.2L222.1 488.4ZM227.2 486.1L227.9 484.0L228.4 481.4L228.8 484.0L229.6 486.1L228.8 488.2L228.4 490.8L227.9 488.2ZM233.5 486.1L234.2 483.8L234.7 480.9L235.1 483.8L235.8 486.1L235.1 488.5L234.7 491.4L234.2 488.5ZM238.9 486.1L239.6 484.1L240.1 481.6L240.5 484.1L241.2 486.1L240.5 488.1L240.1 490.6L239.6 488.1ZM243.4 486.1L244.1 483.7L244.6 480.8L245.0 483.7L245.8 486.1L245.0 488.5L244.6 491.4L244.1 488.5ZM255.3 486.1L256.1 484.2L256.5 481.8L256.9 484.2L257.7 486.1L256.9 488.1L256.5 490.4L256.1 488.1ZM261.1 486.1L261.9 483.7L262.3 480.8L262.8 483.7L263.5 486.1L262.8 488.5L262.3 491.5L261.9 488.5ZM267.4 486.1L268.2 483.8L268.6 480.9L269.1 483.8L269.8 486.1L269.1 488.5L268.6 491.3L268.2 488.5ZM272.8 486.1L273.6 484.1L274.0 481.5L274.4 484.1L275.2 486.1L274.4 488.2L274.0 490.7L273.6 488.2ZM277.3 486.1L278.1 484.0L278.5 481.3L278.9 484.0L279.7 486.1L278.9 488.3L278.5 491.0L278.1 488.3ZM289.2 486.1L290.0 485.2L290.4 484.1L290.9 485.2L291.6 486.1L290.9 487.0L290.4 488.2L290.0 487.0ZM295.1 486.1L295.8 485.4L296.2 484.5L296.7 485.4L297.4 486.1L296.7 486.9L296.2 487.8L295.8 486.9ZM301.4 486.1L302.1 485.3L302.6 484.2L303.0 485.3L303.8 486.1L303.0 487.0L302.6 488.1L302.1 487.0ZM306.8 486.1L307.5 485.2L307.9 484.0L308.4 485.2L309.1 486.1L308.4 487.1L307.9 488.3L307.5 487.1ZM311.2 486.1L312.0 485.4L312.4 484.4L312.9 485.4L313.6 486.1L312.9 486.9L312.4 487.8L312.0 486.9ZM187.4 504.8L188.2 502.8L188.6 500.5L189.0 502.8L189.8 504.8L189.0 506.7L188.6 509.1L188.2 506.7ZM193.2 504.8L194.0 502.9L194.4 500.7L194.8 502.9L195.6 504.8L194.8 506.6L194.4 508.9L194.0 506.6ZM199.5 504.8L200.2 502.8L200.7 500.4L201.1 502.8L201.9 504.8L201.1 506.7L200.7 509.1L200.2 506.7ZM204.9 504.8L205.7 503.2L206.1 501.2L206.5 503.2L207.3 504.8L206.5 506.4L206.1 508.3L205.7 506.4ZM209.4 504.8L210.2 503.4L210.6 501.6L211.0 503.4L211.8 504.8L211.0 506.2L210.6 507.9L210.2 506.2ZM221.4 504.8L222.1 504.3L222.6 503.7L223.0 504.3L223.8 504.8L223.0 505.3L222.6 505.8L222.1 505.3ZM227.2 504.8L227.9 504.3L228.4 503.7L228.8 504.3L229.6 504.8L228.8 505.3L228.4 505.8L227.9 505.3ZM233.5 504.8L234.2 504.4L234.7 503.8L235.1 504.4L235.8 504.8L235.1 505.2L234.7 505.7L234.2 505.2ZM238.9 504.8L239.6 504.4L240.1 504.0L240.5 504.4L241.2 504.8L240.5 505.1L240.1 505.6L239.6 505.1ZM243.4 504.8L244.1 504.4L244.6 503.9L245.0 504.4L245.8 504.8L245.0 505.1L244.6 505.6L244.1 505.1ZM255.3 504.8L256.1 502.5L256.5 499.8L256.9 502.5L257.7 504.8L256.9 507.0L256.5 509.8L256.1 507.0ZM261.1 504.8L261.9 502.8L262.3 500.4L262.8 502.8L263.5 504.8L262.8 506.7L262.3 509.1L261.9 506.7ZM267.4 504.8L268.2 502.2L268.6 499.1L269.1 502.2L269.8 504.8L269.1 507.3L268.6 510.4L268.2 507.3ZM272.8 504.8L273.6 502.6L274.0 499.8L274.4 502.6L275.2 504.8L274.4 507.0L274.0 509.7L273.6 507.0ZM277.3 504.8L278.1 502.9L278.5 500.6L278.9 502.9L279.7 504.8L278.9 506.6L278.5 508.9L278.1 506.6ZM289.2 504.8L290.0 503.0L290.4 500.7L290.9 503.0L291.6 504.8L290.9 506.6L290.4 508.8L290.0 506.6ZM295.1 504.8L295.8 503.2L296.2 501.2L296.7 503.2L297.4 504.8L296.7 506.4L296.2 508.4L295.8 506.4ZM301.4 504.8L302.1 502.8L302.6 500.3L303.0 502.8L303.8 504.8L303.0 506.8L302.6 509.3L302.1 506.8ZM306.8 504.8L307.5 502.8L307.9 500.3L308.4 502.8L309.1 504.8L308.4 506.8L307.9 509.2L307.5 506.8ZM311.2 504.8L312.0 503.1L312.4 501.0L312.9 503.1L313.6 504.8L312.9 506.5L312.4 508.6L312.0 506.5ZM187.4 523.4L188.2 520.7L188.6 517.4L189.0 520.7L189.8 523.4L189.0 526.1L188.6 529.5L188.2 526.1ZM193.2 523.4L194.0 520.6L194.4 517.3L194.8 520.6L195.6 523.4L194.8 526.2L194.4 529.6L194.0 526.2ZM199.5 523.4L200.2 520.5L200.7 517.0L201.1 520.5L201.9 523.4L201.1 526.3L200.7 529.9L200.2 526.3ZM204.9 523.4L205.7 520.3L206.1 516.6L206.5 520.3L207.3 523.4L206.5 526.5L206.1 530.3L205.7 526.5ZM209.4 523.4L210.2 521.4L210.6 518.9L211.0 521.4L211.8 523.4L211.0 525.5L210.6 528.0L210.2 525.5ZM221.4 523.4L222.1 521.4L222.6 519.0L223.0 521.4L223.8 523.4L223.0 525.4L222.6 527.9L222.1 525.4ZM227.2 523.4L227.9 521.2L228.4 518.5L228.8 521.2L229.6 523.4L228.8 525.7L228.4 528.4L227.9 525.7ZM233.5 523.4L234.2 521.5L234.7 519.1L235.1 521.5L235.8 523.4L235.1 525.4L234.7 527.8L234.2 525.4ZM238.9 523.4L239.6 521.2L240.1 518.5L240.5 521.2L241.2 523.4L240.5 525.6L240.1 528.4L239.6 525.6ZM243.4 523.4L244.1 521.7L244.6 519.5L245.0 521.7L245.8 523.4L245.0 525.2L244.6 527.4L244.1 525.2ZM255.3 523.4L256.1 522.9L256.5 522.3L256.9 522.9L257.7 523.4L256.9 523.9L256.5 524.5L256.1 523.9ZM261.1 523.4L261.9 523.0L262.3 522.5L262.8 523.0L263.5 523.4L262.8 523.9L262.3 524.4L261.9 523.9ZM267.4 523.4L268.2 523.1L268.6 522.6L269.1 523.1L269.8 523.4L269.1 523.8L268.6 524.2L268.2 523.8ZM272.8 523.4L273.6 523.0L274.0 522.4L274.4 523.0L275.2 523.4L274.4 523.9L274.0 524.4L273.6 523.9ZM277.3 523.4L278.1 523.0L278.5 522.6L278.9 523.0L279.7 523.4L278.9 523.8L278.5 524.3L278.1 523.8ZM289.2 523.4L290.0 521.9L290.4 520.1L290.9 521.9L291.6 523.4L290.9 524.9L290.4 526.7L290.0 524.9ZM295.1 523.4L295.8 521.7L296.2 519.7L296.7 521.7L297.4 523.4L296.7 525.1L296.2 527.2L295.8 525.1ZM301.4 523.4L302.1 522.0L302.6 520.2L303.0 522.0L303.8 523.4L303.0 524.9L302.6 526.6L302.1 524.9ZM306.8 523.4L307.5 521.9L307.9 520.1L308.4 521.9L309.1 523.4L308.4 524.9L307.9 526.8L307.5 524.9ZM311.2 523.4L312.0 521.5L312.4 519.0L312.9 521.5L313.6 523.4L312.9 525.4L312.4 527.8L312.0 525.4ZM187.4 542.1L188.2 540.2L188.6 538.0L189.0 540.2L189.8 542.1L189.0 543.9L188.6 546.2L188.2 543.9ZM193.2 542.1L194.0 540.7L194.4 539.1L194.8 540.7L195.6 542.1L194.8 543.4L194.4 545.1L194.0 543.4ZM199.5 542.1L200.2 540.2L200.7 537.8L201.1 540.2L201.9 542.1L201.1 544.0L200.7 546.3L200.2 544.0ZM204.9 542.1L205.7 540.7L206.1 539.0L206.5 540.7L207.3 542.1L206.5 543.4L206.1 545.1L205.7 543.4ZM209.4 542.1L210.2 540.5L210.6 538.5L211.0 540.5L211.8 542.1L211.0 543.7L210.6 545.6L210.2 543.7ZM221.4 542.1L222.1 541.1L222.6 539.9L223.0 541.1L223.8 542.1L223.0 543.1L222.6 544.3L222.1 543.1ZM227.2 542.1L227.9 541.2L228.4 540.1L228.8 541.2L229.6 542.1L228.8 543.0L228.4 544.1L227.9 543.0ZM233.5 542.1L234.2 541.3L234.7 540.3L235.1 541.3L235.8 542.1L235.1 542.9L234.7 543.8L234.2 542.9ZM238.9 542.1L239.6 541.3L240.1 540.3L240.5 541.3L241.2 542.1L240.5 542.9L240.1 543.9L239.6 542.9ZM243.4 542.1L244.1 541.3L244.6 540.3L245.0 541.3L245.8 542.1L245.0 542.9L244.6 543.9L244.1 542.9ZM255.3 542.1L256.1 540.3L256.5 538.1L256.9 540.3L257.7 542.1L256.9 543.9L256.5 546.1L256.1 543.9ZM261.1 542.1L261.9 539.5L262.3 536.3L262.8 539.5L263.5 542.1L262.8 544.7L262.3 547.8L261.9 544.7ZM267.4 542.1L268.2 540.3L268.6 538.2L269.1 540.3L269.8 542.1L269.1 543.8L268.6 545.9L268.2 543.8ZM272.8 542.1L273.6 540.0L274.0 537.5L274.4 540.0L275.2 542.1L274.4 544.1L274.0 546.7L273.6 544.1ZM277.3 542.1L278.1 539.7L278.5 536.8L278.9 539.7L279.7 542.1L278.9 544.4L278.5 547.3L278.1 544.4ZM289.2 542.1L290.0 540.4L290.4 538.4L290.9 540.4L291.6 542.1L290.9 543.7L290.4 545.7L290.0 543.7ZM295.1 542.1L295.8 540.0L296.2 537.5L296.7 540.0L297.4 542.1L296.7 544.1L296.2 546.6L295.8 544.1ZM301.4 542.1L302.1 540.5L302.6 538.7L303.0 540.5L303.8 542.1L303.0 543.6L302.6 545.5L302.1 543.6ZM306.8 542.1L307.5 540.0L307.9 537.5L308.4 540.0L309.1 542.1L308.4 544.1L307.9 546.6L307.5 544.1ZM311.2 542.1L312.0 540.1L312.4 537.6L312.9 540.1L313.6 542.1L312.9 544.1L312.4 546.5L312.0 544.1Z" fill="#1ee01e" opacity="0.90"/>
<line x1="182.1" y1="486.1" x2="317.9" y2="486.1" stroke="#10cc10" stroke-width="1.4"/>
<line x1="182.1" y1="504.8" x2="317.9" y2="504.8" stroke="#10cc10" stroke-width="1.4"/>
<line x1="182.1" y1="523.4" x2="317.9" y2="523.4" stroke="#10cc10" stroke-width="1.4"/>
<line x1="182.1" y1="542.1" x2="317.9" y2="542.1" stroke="#10cc10" stroke-width="1.4"/>
<line x1="216.1" y1="476.8" x2="216.1" y2="551.4" stroke="#808080" stroke-width="0.9" stroke-dasharray="0.5,0.5"/>
<line x1="182.1" y1="495.4" x2="317.9" y2="495.4" stroke="#808080" stroke-width="0.9" stroke-dasharray="0.5,0.5"/>
<line x1="250.0" y1="476.8" x2="250.0" y2="551.4" stroke="#808080" stroke-width="0.9" stroke-dasharray="0.5,0.5"/>
<line x1="182.1" y1="514.1" x2="317.9" y2="514.1" stroke="#808080" stroke-width="0.9" stroke-dasharray="0.5,0.5"/>
<line x1="283.9" y1="476.8" x2="283.9" y2="551.4" stroke="#808080" stroke-width="0.9" stroke-dasharray="0.5,0.5"/>
<line x1="182.1" y1="532.8" x2="317.9" y2="532.8" stroke="#808080" stroke-width="0.9" stroke-dasharray="0.5,0.5"/>
<path d="M185.1 478.6h5v1.4h-5zM219.1 478.6h5v1.4h-5zM253.0 478.6h5v1.4h-5zM286.9 478.6h5v1.4h-5zM185.1 497.2h5v1.4h-5zM219.1 497.2h5v1.4h-5zM253.0 497.2h5v1.4h-5zM286.9 497.2h5v1.4h-5zM185.1 515.9h5v1.4h-5zM219.1 515.9h5v1.4h-5zM253.0 515.9h5v1.4h-5zM286.9 515.9h5v1.4h-5zM185.1 534.5h5v1.4h-5zM219.1 534.5h5v1.4h-5zM253.0 534.5h5v1.4h-5zM286.9 534.5h5v1.4h-5z" fill="#0a6a0a" opacity="0.35"/>
<rect x="25.0" y="681.0" width="135.9" height="74.9" fill="#000"/>
<line x1="25.0" y1="690.4" x2="160.9" y2="690.4" stroke="#0a8a0a" stroke-width="3" opacity="0.3"/>
<line x1="25.0" y1="709.1" x2="160.9" y2="709.1" stroke="#0a8a0a" stroke-width="3" opacity="0.3"/>
<line x1="25.0" y1="727.8" x2="160.9" y2="727.8" stroke="#0a8a0a" stroke-width="3" opacity="0.3"/>
<line x1="25.0" y1="746.5" x2="160.9" y2="746.5" stroke="#0a8a0a" stroke-width="3" opacity="0.3"/>
<path d="M26.7 690.4L28.0 689.5L29.3 690.4L28.0 691.2ZM32.7 690.4L34.0 689.6L35.3 690.4L34.0 691.1ZM38.7 690.4L40.0 689.4L41.3 690.4L40.0 691.3ZM44.7 690.4L46.0 689.6L47.3 690.4L46.0 691.1Z" fill="#0a8a0a" opacity="0.32"/>
<path d="M46.7 690.4L48.0 686.9L49.3 690.4L48.0 693.8ZM51.7 690.4L53.0 688.9L54.3 690.4L53.0 691.8ZM80.5 690.4L81.8 685.3L83.1 690.4L81.8 695.4Z" fill="#0a8a0a" opacity="0.45"/>
<path d="M58.7 690.4L60.0 688.3L61.3 690.4L60.0 692.5ZM60.9 690.4L62.2 686.6L63.5 690.4L62.2 694.1ZM63.7 690.4L65.0 689.3L66.3 690.4L65.0 691.5ZM65.9 690.4L67.1 686.9L68.4 690.4L67.1 693.8ZM68.6 690.4L69.9 688.6L71.1 690.4L69.9 692.2ZM70.8 690.4L72.0 689.0L73.3 690.4L72.0 691.7ZM73.0 690.4L74.3 689.1L75.6 690.4L74.3 691.7ZM75.7 690.4L77.0 688.5L78.2 690.4L77.0 692.2ZM79.0 690.4L80.2 687.1L81.5 690.4L80.2 693.7ZM81.2 690.4L82.5 688.9L83.8 690.4L82.5 691.8ZM83.6 690.4L84.9 687.7L86.2 690.4L84.9 693.0ZM86.6 690.4L87.9 687.6L89.2 690.4L87.9 693.2ZM90.0 690.4L91.3 688.3L92.6 690.4L91.3 692.4ZM26.7 709.1L28.0 707.4L29.3 709.1L28.0 710.8ZM31.7 709.1L33.0 707.8L34.3 709.1L33.0 710.4ZM36.7 709.1L38.0 707.6L39.3 709.1L38.0 710.6ZM41.7 709.1L43.0 707.9L44.3 709.1L43.0 710.3ZM46.7 709.1L48.0 707.5L49.3 709.1L48.0 710.7ZM51.7 709.1L53.0 707.4L54.3 709.1L53.0 710.8ZM56.7 709.1L58.0 707.5L59.3 709.1L58.0 710.7ZM93.7 727.8L95.0 725.2L96.3 727.8L95.0 730.5ZM98.7 727.8L100.0 725.1L101.3 727.8L100.0 730.5ZM103.7 727.8L105.0 725.9L106.3 727.8L105.0 729.8ZM108.7 727.8L110.0 725.8L111.3 727.8L110.0 729.8ZM113.7 727.8L115.0 725.8L116.3 727.8L115.0 729.8ZM118.7 727.8L120.0 725.8L121.3 727.8L120.0 729.8ZM123.7 727.8L125.0 725.5L126.3 727.8L125.0 730.1Z" fill="#0a8a0a" opacity="0.36"/>
<path d="M127.7 690.4L129.0 686.6L130.3 690.4L129.0 694.1ZM130.5 690.4L131.7 688.3L133.0 690.4L131.7 692.4ZM133.2 690.4L134.5 687.1L135.7 690.4L134.5 693.6ZM136.2 690.4L137.4 687.3L138.7 690.4L137.4 693.5ZM140.0 690.4L141.3 686.0L142.5 690.4L141.3 694.7ZM143.4 690.4L144.6 686.5L145.9 690.4L144.6 694.2ZM146.5 690.4L147.8 688.1L149.1 690.4L147.8 692.6ZM150.2 690.4L151.5 685.6L152.7 690.4L151.5 695.1ZM153.6 690.4L154.9 688.7L156.2 690.4L154.9 692.0ZM156.8 690.4L158.0 687.7L159.3 690.4L158.0 693.1ZM126.7 709.1L128.0 706.5L129.3 709.1L128.0 711.7ZM129.7 709.1L130.9 706.8L132.2 709.1L130.9 711.3ZM132.0 709.1L133.3 702.7L134.6 709.1L133.3 715.4ZM134.6 709.1L135.9 706.4L137.2 709.1L135.9 711.8ZM136.5 709.1L137.8 705.7L139.0 709.1L137.8 712.4ZM139.1 709.1L140.4 704.9L141.7 709.1L140.4 713.3ZM141.7 709.1L143.0 702.1L144.3 709.1L143.0 716.0ZM144.7 709.1L146.0 706.7L147.3 709.1L146.0 711.5ZM147.5 709.1L148.8 704.6L150.0 709.1L148.8 713.6ZM149.6 709.1L150.9 704.0L152.2 709.1L150.9 714.2ZM151.9 709.1L153.2 702.1L154.4 709.1L153.2 716.1ZM154.5 709.1L155.8 702.4L157.1 709.1L155.8 715.7ZM156.3 709.1L157.6 702.2L158.9 709.1L157.6 716.0ZM158.7 709.1L160.0 705.6L161.2 709.1L160.0 712.6Z" fill="#0a8a0a" opacity="0.23"/>
<path d="M58.7 709.1L60.0 703.8L61.3 709.1L60.0 714.4ZM63.7 709.1L65.0 704.9L66.3 709.1L65.0 713.3ZM68.7 709.1L70.0 704.2L71.3 709.1L70.0 714.0ZM73.7 709.1L75.0 704.3L76.3 709.1L75.0 713.8ZM78.7 709.1L80.0 704.4L81.3 709.1L80.0 713.8ZM83.7 709.1L85.0 704.6L86.3 709.1L85.0 713.6ZM88.7 709.1L90.0 703.9L91.3 709.1L90.0 714.3Z" fill="#0a8a0a" opacity="0.27"/>
<path d="M44.7 727.8L46.0 725.6L47.3 727.8L46.0 730.0ZM54.7 727.8L56.0 725.7L57.3 727.8L56.0 730.0ZM26.7 746.5L28.0 743.4L29.3 746.5L28.0 749.7ZM32.7 746.5L34.0 743.8L35.3 746.5L34.0 749.3ZM38.7 746.5L40.0 744.1L41.3 746.5L40.0 748.9ZM44.7 746.5L46.0 743.6L47.3 746.5L46.0 749.5ZM50.7 746.5L52.0 743.7L53.3 746.5L52.0 749.4ZM56.7 746.5L58.0 743.4L59.3 746.5L58.0 749.7ZM58.7 746.5L60.0 739.3L61.3 746.5L60.0 753.8ZM63.7 746.5L65.0 740.0L66.3 746.5L65.0 753.1ZM68.7 746.5L70.0 740.4L71.3 746.5L70.0 752.7ZM73.7 746.5L75.0 740.2L76.3 746.5L75.0 752.9ZM78.7 746.5L80.0 740.0L81.3 746.5L80.0 753.1ZM83.7 746.5L85.0 741.6L86.3 746.5L85.0 751.5ZM88.7 746.5L90.0 739.4L91.3 746.5L90.0 753.6ZM93.7 746.5L95.0 743.1L96.3 746.5L95.0 749.9ZM99.7 746.5L101.0 743.0L102.3 746.5L101.0 750.1ZM105.7 746.5L107.0 743.1L108.3 746.5L107.0 750.0ZM111.7 746.5L113.0 743.6L114.3 746.5L113.0 749.4ZM117.7 746.5L119.0 743.6L120.3 746.5L119.0 749.4ZM123.7 746.5L125.0 744.0L126.3 746.5L125.0 749.1Z" fill="#0a8a0a" opacity="0.41"/>
<path d="M27.1 690.4L27.6 689.9L28.0 689.3L28.4 689.9L28.9 690.4L28.4 690.8L28.0 691.4L27.6 690.8ZM33.1 690.4L33.6 689.9L34.0 689.4L34.4 689.9L34.9 690.4L34.4 690.8L34.0 691.3L33.6 690.8ZM39.1 690.4L39.6 689.8L40.0 689.2L40.4 689.8L40.9 690.4L40.4 690.9L40.0 691.6L39.6 690.9ZM45.1 690.4L45.6 689.9L46.0 689.4L46.4 689.9L46.9 690.4L46.4 690.8L46.0 691.3L45.6 690.8Z" fill="#1ee01e" opacity="0.63"/>
<path d="M47.1 690.4L47.6 688.4L48.0 686.0L48.4 688.4L48.9 690.4L48.4 692.3L48.0 694.7L47.6 692.3ZM52.1 690.4L52.6 689.6L53.0 688.6L53.4 689.6L53.9 690.4L53.4 691.2L53.0 692.2L52.6 691.2ZM80.9 690.4L81.4 687.5L81.8 684.1L82.2 687.5L82.7 690.4L82.2 693.2L81.8 696.7L81.4 693.2Z" fill="#1ee01e" opacity="0.90"/>
<path d="M59.1 690.4L59.6 689.2L60.0 687.7L60.4 689.2L60.9 690.4L60.4 691.5L60.0 693.0L59.6 691.5ZM61.3 690.4L61.8 688.2L62.2 685.6L62.6 688.2L63.1 690.4L62.6 692.5L62.2 695.1L61.8 692.5ZM64.1 690.4L64.6 689.7L65.0 689.0L65.4 689.7L65.9 690.4L65.4 691.0L65.0 691.7L64.6 691.0ZM66.2 690.4L66.7 688.4L67.1 686.1L67.5 688.4L68.0 690.4L67.5 692.3L67.1 694.7L66.7 692.3ZM69.0 690.4L69.5 689.4L69.9 688.1L70.3 689.4L70.8 690.4L70.3 691.4L69.9 692.6L69.5 691.4ZM71.1 690.4L71.6 689.6L72.0 688.6L72.4 689.6L72.9 690.4L72.4 691.1L72.0 692.1L71.6 691.1ZM73.4 690.4L73.9 689.6L74.3 688.7L74.7 689.6L75.2 690.4L74.7 691.1L74.3 692.0L73.9 691.1ZM76.1 690.4L76.6 689.3L77.0 688.1L77.4 689.3L77.9 690.4L77.4 691.4L77.0 692.7L76.6 691.4ZM79.3 690.4L79.8 688.5L80.2 686.2L80.6 688.5L81.1 690.4L80.6 692.2L80.2 694.5L79.8 692.2ZM81.6 690.4L82.1 689.5L82.5 688.5L82.9 689.5L83.4 690.4L82.9 691.2L82.5 692.2L82.1 691.2ZM84.0 690.4L84.5 688.9L84.9 687.1L85.3 688.9L85.8 690.4L85.3 691.8L84.9 693.7L84.5 691.8ZM87.0 690.4L87.5 688.8L87.9 686.9L88.3 688.8L88.8 690.4L88.3 691.9L87.9 693.9L87.5 691.9ZM90.4 690.4L90.9 689.2L91.3 687.8L91.7 689.2L92.2 690.4L91.7 691.5L91.3 692.9L90.9 691.5ZM27.1 709.1L27.6 708.1L28.0 707.0L28.4 708.1L28.9 709.1L28.4 710.0L28.0 711.2L27.6 710.0ZM32.1 709.1L32.6 708.4L33.0 707.5L33.4 708.4L33.9 709.1L33.4 709.8L33.0 710.7L32.6 709.8ZM37.1 709.1L37.6 708.2L38.0 707.2L38.4 708.2L38.9 709.1L38.4 709.9L38.0 711.0L37.6 709.9ZM42.1 709.1L42.6 708.4L43.0 707.6L43.4 708.4L43.9 709.1L43.4 709.8L43.0 710.6L42.6 709.8ZM47.1 709.1L47.6 708.2L48.0 707.1L48.4 708.2L48.9 709.1L48.4 710.0L48.0 711.1L47.6 710.0ZM52.1 709.1L52.6 708.1L53.0 707.0L53.4 708.1L53.9 709.1L53.4 710.0L53.0 711.2L52.6 710.0ZM57.1 709.1L57.6 708.2L58.0 707.1L58.4 708.2L58.9 709.1L58.4 710.0L58.0 711.0L57.6 710.0ZM94.1 727.8L94.6 726.3L95.0 724.5L95.4 726.3L95.9 727.8L95.4 729.3L95.0 731.1L94.6 729.3ZM99.1 727.8L99.6 726.3L100.0 724.4L100.4 726.3L100.9 727.8L100.4 729.3L100.0 731.2L99.6 729.3ZM104.1 727.8L104.6 726.7L105.0 725.4L105.4 726.7L105.9 727.8L105.4 728.9L105.0 730.2L104.6 728.9ZM109.1 727.8L109.6 726.7L110.0 725.4L110.4 726.7L110.9 727.8L110.4 728.9L110.0 730.3L109.6 728.9ZM114.1 727.8L114.6 726.7L115.0 725.3L115.4 726.7L115.9 727.8L115.4 729.0L115.0 730.3L114.6 729.0ZM119.1 727.8L119.6 726.7L120.0 725.3L120.4 726.7L120.9 727.8L120.4 729.0L120.0 730.3L119.6 729.0ZM124.1 727.8L124.6 726.5L125.0 725.0L125.4 726.5L125.9 727.8L125.4 729.1L125.0 730.6L124.6 729.1Z" fill="#1ee01e" opacity="0.72"/>
<path d="M128.1 690.4L128.6 688.3L129.0 685.7L129.4 688.3L129.9 690.4L129.4 692.5L129.0 695.0L128.6 692.5ZM130.8 690.4L131.3 689.2L131.7 687.8L132.1 689.2L132.6 690.4L132.1 691.5L131.7 693.0L131.3 691.5ZM133.6 690.4L134.1 688.5L134.5 686.3L134.9 688.5L135.4 690.4L134.9 692.2L134.5 694.4L134.1 692.2ZM136.5 690.4L137.0 688.6L137.4 686.5L137.8 688.6L138.3 690.4L137.8 692.1L137.4 694.2L137.0 692.1ZM140.4 690.4L140.9 687.9L141.3 684.9L141.7 687.9L142.2 690.4L141.7 692.8L141.3 695.8L140.9 692.8ZM143.7 690.4L144.2 688.2L144.6 685.6L145.0 688.2L145.5 690.4L145.0 692.5L144.6 695.1L144.2 692.5ZM146.9 690.4L147.4 689.1L147.8 687.6L148.2 689.1L148.7 690.4L148.2 691.6L147.8 693.2L147.4 691.6ZM150.6 690.4L151.1 687.7L151.5 684.5L151.9 687.7L152.4 690.4L151.9 693.0L151.5 696.3L151.1 693.0ZM154.0 690.4L154.5 689.4L154.9 688.3L155.3 689.4L155.8 690.4L155.3 691.3L154.9 692.4L154.5 691.3ZM157.1 690.4L157.6 688.8L158.0 687.0L158.4 688.8L158.9 690.4L158.4 691.9L158.0 693.7L157.6 691.9ZM127.1 709.1L127.6 707.6L128.0 705.8L128.4 707.6L128.9 709.1L128.4 710.5L128.0 712.3L127.6 710.5ZM130.0 709.1L130.5 707.8L130.9 706.3L131.3 707.8L131.8 709.1L131.3 710.4L130.9 711.9L130.5 710.4ZM132.4 709.1L132.9 705.5L133.3 701.2L133.7 705.5L134.2 709.1L133.7 712.7L133.3 717.0L132.9 712.7ZM135.0 709.1L135.5 707.6L135.9 705.8L136.3 707.6L136.8 709.1L136.3 710.6L135.9 712.4L135.5 710.6ZM136.9 709.1L137.4 707.2L137.8 704.9L138.2 707.2L138.7 709.1L138.2 711.0L137.8 713.3L137.4 711.0ZM139.5 709.1L140.0 706.7L140.4 703.9L140.8 706.7L141.3 709.1L140.8 711.4L140.4 714.3L140.0 711.4ZM142.1 709.1L142.6 705.2L143.0 700.4L143.4 705.2L143.9 709.1L143.4 713.0L143.0 717.8L142.6 713.0ZM145.1 709.1L145.6 707.7L146.0 706.1L146.4 707.7L146.9 709.1L146.4 710.4L146.0 712.1L145.6 710.4ZM147.9 709.1L148.4 706.6L148.8 703.5L149.2 706.6L149.7 709.1L149.2 711.6L148.8 714.7L148.4 711.6ZM150.0 709.1L150.5 706.2L150.9 702.7L151.3 706.2L151.8 709.1L151.3 711.9L150.9 715.4L150.5 711.9ZM152.3 709.1L152.8 705.1L153.2 700.3L153.6 705.1L154.1 709.1L153.6 713.0L153.2 717.8L152.8 713.0ZM154.9 709.1L155.4 705.4L155.8 700.8L156.2 705.4L156.7 709.1L156.2 712.8L155.8 717.4L155.4 712.8ZM156.7 709.1L157.2 705.2L157.6 700.5L158.0 705.2L158.5 709.1L158.0 713.0L157.6 717.7L157.2 713.0ZM159.1 709.1L159.6 707.1L160.0 704.7L160.4 707.1L160.9 709.1L160.4 711.1L160.0 713.5L159.6 711.1Z" fill="#1ee01e" opacity="0.45"/>
<path d="M59.1 709.1L59.6 706.1L60.0 702.5L60.4 706.1L60.9 709.1L60.4 712.1L60.0 715.7L59.6 712.1ZM64.1 709.1L64.6 706.7L65.0 703.8L65.4 706.7L65.9 709.1L65.4 711.5L65.0 714.3L64.6 711.5ZM69.1 709.1L69.6 706.3L70.0 702.9L70.4 706.3L70.9 709.1L70.4 711.9L70.0 715.3L69.6 711.9ZM74.1 709.1L74.6 706.4L75.0 703.2L75.4 706.4L75.9 709.1L75.4 711.8L75.0 715.0L74.6 711.8ZM79.1 709.1L79.6 706.4L80.0 703.2L80.4 706.4L80.9 709.1L80.4 711.7L80.0 715.0L79.6 711.7ZM84.1 709.1L84.6 706.6L85.0 703.5L85.4 706.6L85.9 709.1L85.4 711.6L85.0 714.7L84.6 711.6ZM89.1 709.1L89.6 706.2L90.0 702.6L90.4 706.2L90.9 709.1L90.4 712.0L90.0 715.6L89.6 712.0Z" fill="#1ee01e" opacity="0.54"/>
<path d="M45.1 727.8L45.6 726.6L46.0 725.1L46.4 726.6L46.9 727.8L46.4 729.0L46.0 730.6L45.6 729.0ZM55.1 727.8L55.6 726.6L56.0 725.1L56.4 726.6L56.9 727.8L56.4 729.0L56.0 730.5L55.6 729.0ZM27.1 746.5L27.6 744.8L28.0 742.6L28.4 744.8L28.9 746.5L28.4 748.3L28.0 750.5L27.6 748.3ZM33.1 746.5L33.6 745.0L34.0 743.1L34.4 745.0L34.9 746.5L34.4 748.1L34.0 750.0L33.6 748.1ZM39.1 746.5L39.6 745.2L40.0 743.5L40.4 745.2L40.9 746.5L40.4 747.9L40.0 749.5L39.6 747.9ZM45.1 746.5L45.6 744.9L46.0 742.9L46.4 744.9L46.9 746.5L46.4 748.2L46.0 750.2L45.6 748.2ZM51.1 746.5L51.6 744.9L52.0 742.9L52.4 744.9L52.9 746.5L52.4 748.2L52.0 750.1L51.6 748.2ZM57.1 746.5L57.6 744.8L58.0 742.6L58.4 744.8L58.9 746.5L58.4 748.3L58.0 750.4L57.6 748.3ZM59.1 746.5L59.6 742.5L60.0 737.5L60.4 742.5L60.9 746.5L60.4 750.6L60.0 755.6L59.6 750.6ZM64.1 746.5L64.6 742.8L65.0 738.3L65.4 742.8L65.9 746.5L65.4 750.2L65.0 754.7L64.6 750.2ZM69.1 746.5L69.6 743.1L70.0 738.9L70.4 743.1L70.9 746.5L70.4 750.0L70.0 754.2L69.6 750.0ZM74.1 746.5L74.6 742.9L75.0 738.6L75.4 742.9L75.9 746.5L75.4 750.1L75.0 754.5L74.6 750.1ZM79.1 746.5L79.6 742.9L80.0 738.4L80.4 742.9L80.9 746.5L80.4 750.2L80.0 754.7L79.6 750.2ZM84.1 746.5L84.6 743.8L85.0 740.4L85.4 743.8L85.9 746.5L85.4 749.3L85.0 752.7L84.6 749.3ZM89.1 746.5L89.6 742.5L90.0 737.7L90.4 742.5L90.9 746.5L90.4 750.5L90.0 755.4L89.6 750.5ZM94.1 746.5L94.6 744.6L95.0 742.3L95.4 744.6L95.9 746.5L95.4 748.4L95.0 750.8L94.6 748.4ZM100.1 746.5L100.6 744.6L101.0 742.1L101.4 744.6L101.9 746.5L101.4 748.5L101.0 750.9L100.6 748.5ZM106.1 746.5L106.6 744.6L107.0 742.3L107.4 744.6L107.9 746.5L107.4 748.5L107.0 750.8L106.6 748.5ZM112.1 746.5L112.6 744.9L113.0 742.9L113.4 744.9L113.9 746.5L113.4 748.2L113.0 750.2L112.6 748.2ZM118.1 746.5L118.6 744.9L119.0 742.9L119.4 744.9L119.9 746.5L119.4 748.2L119.0 750.2L118.6 748.2ZM124.1 746.5L124.6 745.1L125.0 743.4L125.4 745.1L125.9 746.5L125.4 748.0L125.0 749.7L124.6 748.0Z" fill="#1ee01e" opacity="0.81"/>
<line x1="25.0" y1="690.4" x2="160.9" y2="690.4" stroke="#10cc10" stroke-width="1.4"/>
<line x1="25.0" y1="709.1" x2="160.9" y2="709.1" stroke="#10cc10" stroke-width="1.4"/>
<line x1="25.0" y1="727.8" x2="160.9" y2="727.8" stroke="#10cc10" stroke-width="1.4"/>
<line x1="25.0" y1="746.5" x2="160.9" y2="746.5" stroke="#10cc10" stroke-width="1.4"/>
<line x1="59.0" y1="681.0" x2="59.0" y2="755.9" stroke="#808080" stroke-width="0.9" stroke-dasharray="0.5,0.5"/>
<line x1="25.0" y1="699.7" x2="160.9" y2="699.7" stroke="#808080" stroke-width="0.9" stroke-dasharray="0.5,0.5"/>
<line x1="93.0" y1="681.0" x2="93.0" y2="755.9" stroke="#808080" stroke-width="0.9" stroke-dasharray="0.5,0.5"/>
<line x1="25.0" y1="718.5" x2="160.9" y2="718.5" stroke="#808080" stroke-width="0.9" stroke-dasharray="0.5,0.5"/>
<line x1="126.9" y1="681.0" x2="126.9" y2="755.9" stroke="#808080" stroke-width="0.9" stroke-dasharray="0.5,0.5"/>
<line x1="25.0" y1="737.2" x2="160.9" y2="737.2" stroke="#808080" stroke-width="0.9" stroke-dasharray="0.5,0.5"/>
<path d="M28.0 682.8h5v1.4h-5zM62.0 682.8h5v1.4h-5zM96.0 682.8h5v1.4h-5zM129.9 682.8h5v1.4h-5zM28.0 701.5h5v1.4h-5zM62.0 701.5h5v1.4h-5zM96.0 701.5h5v1.4h-5zM129.9 701.5h5v1.4h-5zM28.0 720.2h5v1.4h-5zM62.0 720.2h5v1.4h-5zM96.0 720.2h5v1.4h-5zM129.9 720.2h5v1.4h-5zM28.0 739.0h5v1.4h-5zM62.0 739.0h5v1.4h-5zM96.0 739.0h5v1.4h-5zM129.9 739.0h5v1.4h-5z" fill="#0a6a0a" opacity="0.35"/>
<rect x="179.3" y="681.8" width="135.6" height="74.9" fill="#000"/>
<line x1="179.3" y1="691.2" x2="314.9" y2="691.2" stroke="#0a8a0a" stroke-width="3" opacity="0.3"/>
<line x1="179.3" y1="709.9" x2="314.9" y2="709.9" stroke="#0a8a0a" stroke-width="3" opacity="0.3"/>
<line x1="179.3" y1="728.6" x2="314.9" y2="728.6" stroke="#0a8a0a" stroke-width="3" opacity="0.3"/>
<line x1="179.3" y1="747.3" x2="314.9" y2="747.3" stroke="#0a8a0a" stroke-width="3" opacity="0.3"/>
<path d="M197.4 691.2L198.7 687.8L200.0 691.2L198.7 694.5ZM231.9 691.2L233.2 686.4L234.5 691.2L233.2 696.0ZM197.4 709.9L198.7 708.3L200.0 709.9L198.7 711.5ZM208.7 728.6L210.0 726.8L211.3 728.6L210.0 730.4Z" fill="#0a8a0a" opacity="0.45"/>
<path d="M211.7 691.2L213.0 688.6L214.3 691.2L213.0 693.7ZM215.4 691.2L216.7 690.2L218.0 691.2L216.7 692.1ZM217.9 691.2L219.1 689.9L220.4 691.2L219.1 692.4ZM221.2 691.2L222.4 690.4L223.7 691.2L222.4 691.9ZM223.5 691.2L224.8 689.9L226.1 691.2L224.8 692.5ZM226.2 691.2L227.4 689.6L228.7 691.2L227.4 692.8ZM229.9 691.2L231.2 688.5L232.5 691.2L231.2 693.8ZM232.5 691.2L233.8 689.6L235.0 691.2L233.8 692.7ZM235.7 691.2L237.0 690.2L238.2 691.2L237.0 692.1ZM238.6 691.2L239.9 689.9L241.2 691.2L239.9 692.4ZM241.6 691.2L242.8 688.3L244.1 691.2L242.8 694.0ZM244.6 691.2L245.8 690.3L247.1 691.2L245.8 692.0ZM249.7 728.6L251.0 725.8L252.3 728.6L251.0 731.4ZM254.7 728.6L256.0 725.8L257.3 728.6L256.0 731.5ZM259.7 728.6L261.0 725.1L262.3 728.6L261.0 732.1ZM264.7 728.6L266.0 726.0L267.3 728.6L266.0 731.2ZM269.7 728.6L271.0 725.2L272.3 728.6L271.0 732.0ZM274.7 728.6L276.0 726.1L277.3 728.6L276.0 731.1ZM179.7 747.3L181.0 744.9L182.3 747.3L181.0 749.8ZM183.7 747.3L185.0 744.9L186.3 747.3L185.0 749.8ZM187.7 747.3L189.0 744.6L190.3 747.3L189.0 750.0ZM191.7 747.3L193.0 744.7L194.3 747.3L193.0 749.9ZM195.7 747.3L197.0 745.1L198.3 747.3L197.0 749.6ZM199.7 747.3L201.0 745.3L202.3 747.3L201.0 749.3ZM203.7 747.3L205.0 745.4L206.3 747.3L205.0 749.3ZM207.7 747.3L209.0 745.0L210.3 747.3L209.0 749.6Z" fill="#0a8a0a" opacity="0.36"/>
<path d="M244.7 691.2L246.0 686.1L247.3 691.2L246.0 696.2ZM212.7 747.3L214.0 740.5L215.3 747.3L214.0 754.2ZM217.7 747.3L219.0 741.7L220.3 747.3L219.0 752.9ZM222.7 747.3L224.0 739.3L225.3 747.3L224.0 755.3ZM227.7 747.3L229.0 740.5L230.3 747.3L229.0 754.2ZM232.7 747.3L234.0 739.9L235.3 747.3L234.0 754.8ZM237.7 747.3L239.0 741.3L240.3 747.3L239.0 753.4ZM242.7 747.3L244.0 741.2L245.3 747.3L244.0 753.4ZM247.7 747.3L249.0 744.3L250.3 747.3L249.0 750.4ZM253.7 747.3L255.0 743.8L256.3 747.3L255.0 750.9ZM259.7 747.3L261.0 743.9L262.3 747.3L261.0 750.8ZM265.7 747.3L267.0 743.7L268.3 747.3L267.0 751.0ZM271.7 747.3L273.0 743.7L274.3 747.3L273.0 750.9ZM277.7 747.3L279.0 743.0L280.3 747.3L279.0 751.7Z" fill="#0a8a0a" opacity="0.41"/>
<path d="M218.7 709.9L220.0 706.3L221.3 709.9L220.0 713.4ZM224.7 709.9L226.0 705.8L227.3 709.9L226.0 714.0ZM236.7 709.9L238.0 706.1L239.3 709.9L238.0 713.7ZM241.7 709.9L243.0 705.8L244.3 709.9L243.0 713.9ZM279.7 709.9L281.0 703.6L282.3 709.9L281.0 716.2ZM283.7 709.9L285.0 704.7L286.3 709.9L285.0 715.1ZM287.7 709.9L289.0 704.9L290.3 709.9L289.0 714.9ZM291.7 709.9L293.0 702.7L294.3 709.9L293.0 717.1ZM295.7 709.9L297.0 703.8L298.3 709.9L297.0 715.9ZM299.7 709.9L301.0 704.6L302.3 709.9L301.0 715.2ZM303.7 709.9L305.0 702.7L306.3 709.9L305.0 717.1ZM307.7 709.9L309.0 703.6L310.3 709.9L309.0 716.2ZM311.7 709.9L313.0 703.2L314.3 709.9L313.0 716.6Z" fill="#0a8a0a" opacity="0.23"/>
<path d="M231.5 709.9L232.8 702.8L234.1 709.9L232.8 717.0Z" fill="#0a8a0a" opacity="0.27"/>
<path d="M281.7 747.3L283.0 746.5L284.3 747.3L283.0 748.2ZM289.7 747.3L291.0 746.7L292.3 747.3L291.0 748.0ZM297.7 747.3L299.0 746.6L300.3 747.3L299.0 748.1ZM305.7 747.3L307.0 746.7L308.3 747.3L307.0 748.0Z" fill="#0a8a0a" opacity="0.32"/>
<path d="M197.8 691.2L198.3 689.3L198.7 687.0L199.1 689.3L199.6 691.2L199.1 693.1L198.7 695.4L198.3 693.1ZM232.3 691.2L232.8 688.5L233.2 685.2L233.6 688.5L234.1 691.2L233.6 693.9L233.2 697.2L232.8 693.9ZM197.8 709.9L198.3 709.0L198.7 707.9L199.1 709.0L199.6 709.9L199.1 710.8L198.7 711.9L198.3 710.8ZM209.1 728.6L209.6 727.6L210.0 726.4L210.4 727.6L210.9 728.6L210.4 729.6L210.0 730.8L209.6 729.6Z" fill="#1ee01e" opacity="0.90"/>
<path d="M212.1 691.2L212.6 689.7L213.0 688.0L213.4 689.7L213.9 691.2L213.4 692.6L213.0 694.3L212.6 692.6ZM215.8 691.2L216.3 690.6L216.7 690.0L217.1 690.6L217.6 691.2L217.1 691.7L216.7 692.3L216.3 691.7ZM218.2 691.2L218.7 690.5L219.1 689.6L219.5 690.5L220.0 691.2L219.5 691.9L219.1 692.7L218.7 691.9ZM221.5 691.2L222.0 690.7L222.4 690.2L222.8 690.7L223.3 691.2L222.8 691.6L222.4 692.1L222.0 691.6ZM223.9 691.2L224.4 690.4L224.8 689.5L225.2 690.4L225.7 691.2L225.2 691.9L224.8 692.8L224.4 691.9ZM226.5 691.2L227.0 690.3L227.4 689.2L227.8 690.3L228.3 691.2L227.8 692.1L227.4 693.2L227.0 692.1ZM230.3 691.2L230.8 689.7L231.2 687.8L231.6 689.7L232.1 691.2L231.6 692.7L231.2 694.5L230.8 692.7ZM232.9 691.2L233.4 690.3L233.8 689.2L234.2 690.3L234.7 691.2L234.2 692.0L233.8 693.1L233.4 692.0ZM236.1 691.2L236.6 690.6L237.0 690.0L237.4 690.6L237.9 691.2L237.4 691.7L237.0 692.4L236.6 691.7ZM239.0 691.2L239.5 690.4L239.9 689.6L240.3 690.4L240.8 691.2L240.3 691.9L239.9 692.8L239.5 691.9ZM241.9 691.2L242.4 689.6L242.8 687.6L243.2 689.6L243.7 691.2L243.2 692.8L242.8 694.7L242.4 692.8ZM244.9 691.2L245.4 690.7L245.8 690.1L246.2 690.7L246.7 691.2L246.2 691.6L245.8 692.2L245.4 691.6ZM250.1 728.6L250.6 727.1L251.0 725.2L251.4 727.1L251.9 728.6L251.4 730.2L251.0 732.1L250.6 730.2ZM255.1 728.6L255.6 727.0L256.0 725.0L256.4 727.0L256.9 728.6L256.4 730.2L256.0 732.2L255.6 730.2ZM260.1 728.6L260.6 726.6L261.0 724.2L261.4 726.6L261.9 728.6L261.4 730.6L261.0 733.0L260.6 730.6ZM265.1 728.6L265.6 727.2L266.0 725.4L266.4 727.2L266.9 728.6L266.4 730.1L266.0 731.8L265.6 730.1ZM270.1 728.6L270.6 726.7L271.0 724.4L271.4 726.7L271.9 728.6L271.4 730.5L271.0 732.8L270.6 730.5ZM275.1 728.6L275.6 727.2L276.0 725.5L276.4 727.2L276.9 728.6L276.4 730.0L276.0 731.8L275.6 730.0ZM180.1 747.3L180.6 746.0L181.0 744.3L181.4 746.0L181.9 747.3L181.4 748.7L181.0 750.4L180.6 748.7ZM184.1 747.3L184.6 745.9L185.0 744.2L185.4 745.9L185.9 747.3L185.4 748.7L185.0 750.4L184.6 748.7ZM188.1 747.3L188.6 745.8L189.0 743.9L189.4 745.8L189.9 747.3L189.4 748.9L189.0 750.7L188.6 748.9ZM192.1 747.3L192.6 745.9L193.0 744.1L193.4 745.9L193.9 747.3L193.4 748.8L193.0 750.6L192.6 748.8ZM196.1 747.3L196.6 746.1L197.0 744.5L197.4 746.1L197.9 747.3L197.4 748.6L197.0 750.2L196.6 748.6ZM200.1 747.3L200.6 746.2L201.0 744.9L201.4 746.2L201.9 747.3L201.4 748.5L201.0 749.8L200.6 748.5ZM204.1 747.3L204.6 746.2L205.0 744.9L205.4 746.2L205.9 747.3L205.4 748.4L205.0 749.8L204.6 748.4ZM208.1 747.3L208.6 746.0L209.0 744.5L209.4 746.0L209.9 747.3L209.4 748.6L209.0 750.2L208.6 748.6Z" fill="#1ee01e" opacity="0.72"/>
<path d="M245.1 691.2L245.6 688.3L246.0 684.9L246.4 688.3L246.9 691.2L246.4 694.0L246.0 697.5L245.6 694.0ZM213.1 747.3L213.6 743.5L214.0 738.8L214.4 743.5L214.9 747.3L214.4 751.2L214.0 755.9L213.6 751.2ZM218.1 747.3L218.6 744.2L219.0 740.3L219.4 744.2L219.9 747.3L219.4 750.5L219.0 754.3L218.6 750.5ZM223.1 747.3L223.6 742.8L224.0 737.3L224.4 742.8L224.9 747.3L224.4 751.8L224.0 757.3L223.6 751.8ZM228.1 747.3L228.6 743.5L229.0 738.8L229.4 743.5L229.9 747.3L229.4 751.2L229.0 755.9L228.6 751.2ZM233.1 747.3L233.6 743.2L234.0 738.1L234.4 743.2L234.9 747.3L234.4 751.5L234.0 756.6L233.6 751.5ZM238.1 747.3L238.6 743.9L239.0 739.8L239.4 743.9L239.9 747.3L239.4 750.7L239.0 754.9L238.6 750.7ZM243.1 747.3L243.6 743.9L244.0 739.7L244.4 743.9L244.9 747.3L244.4 750.8L244.0 755.0L243.6 750.8ZM248.1 747.3L248.6 745.6L249.0 743.6L249.4 745.6L249.9 747.3L249.4 749.0L249.0 751.1L248.6 749.0ZM254.1 747.3L254.6 745.3L255.0 742.9L255.4 745.3L255.9 747.3L255.4 749.3L255.0 751.8L254.6 749.3ZM260.1 747.3L260.6 745.4L261.0 743.1L261.4 745.4L261.9 747.3L261.4 749.3L261.0 751.6L260.6 749.3ZM266.1 747.3L266.6 745.3L267.0 742.7L267.4 745.3L267.9 747.3L267.4 749.4L267.0 751.9L266.6 749.4ZM272.1 747.3L272.6 745.3L273.0 742.8L273.4 745.3L273.9 747.3L273.4 749.4L273.0 751.8L272.6 749.4ZM278.1 747.3L278.6 744.9L279.0 741.9L279.4 744.9L279.9 747.3L279.4 749.8L279.0 752.8L278.6 749.8Z" fill="#1ee01e" opacity="0.81"/>
<path d="M219.1 709.9L219.6 707.9L220.0 705.5L220.4 707.9L220.9 709.9L220.4 711.9L220.0 714.3L219.6 711.9ZM225.1 709.9L225.6 707.6L226.0 704.8L226.4 707.6L226.9 709.9L226.4 712.2L226.0 715.0L225.6 712.2ZM237.1 709.9L237.6 707.8L238.0 705.1L238.4 707.8L238.9 709.9L238.4 712.0L238.0 714.6L237.6 712.0ZM242.1 709.9L242.6 707.6L243.0 704.8L243.4 707.6L243.9 709.9L243.4 712.2L243.0 714.9L242.6 712.2ZM280.1 709.9L280.6 706.4L281.0 702.0L281.4 706.4L281.9 709.9L281.4 713.4L281.0 717.7L280.6 713.4ZM284.1 709.9L284.6 707.0L285.0 703.4L285.4 707.0L285.9 709.9L285.4 712.8L285.0 716.3L284.6 712.8ZM288.1 709.9L288.6 707.1L289.0 703.7L289.4 707.1L289.9 709.9L289.4 712.7L289.0 716.1L288.6 712.7ZM292.1 709.9L292.6 705.8L293.0 700.9L293.4 705.8L293.9 709.9L293.4 713.9L293.0 718.9L292.6 713.9ZM296.1 709.9L296.6 706.5L297.0 702.3L297.4 706.5L297.9 709.9L297.4 713.3L297.0 717.5L296.6 713.3ZM300.1 709.9L300.6 706.9L301.0 703.3L301.4 706.9L301.9 709.9L301.4 712.9L301.0 716.5L300.6 712.9ZM304.1 709.9L304.6 705.8L305.0 700.9L305.4 705.8L305.9 709.9L305.4 713.9L305.0 718.9L304.6 713.9ZM308.1 709.9L308.6 706.4L309.0 702.0L309.4 706.4L309.9 709.9L309.4 713.4L309.0 717.7L308.6 713.4ZM312.1 709.9L312.6 706.1L313.0 701.6L313.4 706.1L313.9 709.9L313.4 713.6L313.0 718.2L312.6 713.6Z" fill="#1ee01e" opacity="0.45"/>
<path d="M231.9 709.9L232.4 705.9L232.8 701.0L233.2 705.9L233.7 709.9L233.2 713.9L232.8 718.8L232.4 713.9Z" fill="#1ee01e" opacity="0.54"/>
<path d="M282.1 747.3L282.6 746.8L283.0 746.2L283.4 746.8L283.9 747.3L283.4 747.8L283.0 748.4L282.6 747.8ZM290.1 747.3L290.6 747.0L291.0 746.5L291.4 747.0L291.9 747.3L291.4 747.7L291.0 748.2L290.6 747.7ZM298.1 747.3L298.6 746.9L299.0 746.4L299.4 746.9L299.9 747.3L299.4 747.7L299.0 748.2L298.6 747.7ZM306.1 747.3L306.6 747.0L307.0 746.5L307.4 747.0L307.9 747.3L307.4 747.7L307.0 748.2L306.6 747.7Z" fill="#1ee01e" opacity="0.63"/>
<line x1="179.3" y1="691.2" x2="314.9" y2="691.2" stroke="#10cc10" stroke-width="1.4"/>
<line x1="179.3" y1="709.9" x2="314.9" y2="709.9" stroke="#10cc10" stroke-width="1.4"/>
<line x1="179.3" y1="728.6" x2="314.9" y2="728.6" stroke="#10cc10" stroke-width="1.4"/>
<line x1="179.3" y1="747.3" x2="314.9" y2="747.3" stroke="#10cc10" stroke-width="1.4"/>
<line x1="213.2" y1="681.8" x2="213.2" y2="756.7" stroke="#808080" stroke-width="0.9" stroke-dasharray="0.5,0.5"/>
<line x1="179.3" y1="700.5" x2="314.9" y2="700.5" stroke="#808080" stroke-width="0.9" stroke-dasharray="0.5,0.5"/>
<line x1="247.1" y1="681.8" x2="247.1" y2="756.7" stroke="#808080" stroke-width="0.9" stroke-dasharray="0.5,0.5"/>
<line x1="179.3" y1="719.2" x2="314.9" y2="719.2" stroke="#808080" stroke-width="0.9" stroke-dasharray="0.5,0.5"/>
<line x1="281.0" y1="681.8" x2="281.0" y2="756.7" stroke="#808080" stroke-width="0.9" stroke-dasharray="0.5,0.5"/>
<line x1="179.3" y1="738.0" x2="314.9" y2="738.0" stroke="#808080" stroke-width="0.9" stroke-dasharray="0.5,0.5"/>
<path d="M182.3 683.6h5v1.4h-5zM216.2 683.6h5v1.4h-5zM250.1 683.6h5v1.4h-5zM284.0 683.6h5v1.4h-5zM182.3 702.3h5v1.4h-5zM216.2 702.3h5v1.4h-5zM250.1 702.3h5v1.4h-5zM284.0 702.3h5v1.4h-5zM182.3 721.0h5v1.4h-5zM216.2 721.0h5v1.4h-5zM250.1 721.0h5v1.4h-5zM284.0 721.0h5v1.4h-5zM182.3 739.8h5v1.4h-5zM216.2 739.8h5v1.4h-5zM250.1 739.8h5v1.4h-5zM284.0 739.8h5v1.4h-5z" fill="#0a6a0a" opacity="0.35"/>
<path d="M36.2 148.8h3.4v2.4h-3.4zM46.3 148.8h2.8v2.4h-2.8zM56.7 148.8h3.0v2.4h-3.0zM67.3 148.8h4.1v2.4h-4.1zM78.6 148.8h2.5v2.4h-2.5zM88.7 148.8h3.3v2.4h-3.3zM99.6 148.8h3.3v2.4h-3.3zM134.6 148.8h3.7v2.4h-3.7zM145.3 148.8h3.8v2.4h-3.8zM46.2 151.8h3.5v2.4h-3.5zM67.4 151.8h2.7v2.4h-2.7zM78.0 151.8h3.4v2.4h-3.4zM88.3 151.8h3.6v2.4h-3.6zM111.8 151.8h3.0v2.4h-3.0zM134.9 151.8h3.1v2.4h-3.1zM145.5 151.8h3.5v2.4h-3.5zM155.4 151.8h3.5v2.4h-3.5zM36.1 154.8h3.7v2.4h-3.7zM45.9 154.8h3.5v2.4h-3.5zM56.5 154.8h3.7v2.4h-3.7zM67.8 154.8h2.8v2.4h-2.8zM88.4 154.8h3.2v2.4h-3.2zM99.6 154.8h2.7v2.4h-2.7zM111.2 154.8h3.6v2.4h-3.6zM123.3 154.8h3.7v2.4h-3.7zM145.5 154.8h4.0v2.4h-4.0zM27.4 154.8h1.9v2.4h-1.9zM35.5 157.8h3.5v2.4h-3.5zM45.8 157.8h3.7v2.4h-3.7zM56.2 157.8h3.9v2.4h-3.9zM67.7 157.8h2.9v2.4h-2.9zM77.9 157.8h2.9v2.4h-2.9zM89.3 157.8h2.8v2.4h-2.8zM99.7 157.8h3.0v2.4h-3.0zM111.3 157.8h4.0v2.4h-4.0zM123.4 157.8h2.7v2.4h-2.7zM134.4 157.8h4.1v2.4h-4.1zM145.8 157.8h2.9v2.4h-2.9zM155.2 157.8h3.9v2.4h-3.9zM35.7 160.8h3.4v2.4h-3.4zM46.7 160.8h2.6v2.4h-2.6zM57.0 160.8h3.2v2.4h-3.2zM78.4 160.8h2.8v2.4h-2.8zM88.8 160.8h2.8v2.4h-2.8zM99.5 160.8h3.5v2.4h-3.5zM112.0 160.8h2.7v2.4h-2.7zM122.7 160.8h4.0v2.4h-4.0zM134.5 160.8h4.0v2.4h-4.0zM145.7 160.8h3.6v2.4h-3.6zM36.4 163.8h3.0v2.4h-3.0zM46.1 163.8h3.2v2.4h-3.2zM56.2 163.8h3.8v2.4h-3.8zM67.3 163.8h2.7v2.4h-2.7zM78.3 163.8h3.6v2.4h-3.6zM89.0 163.8h2.9v2.4h-2.9zM99.7 163.8h3.4v2.4h-3.4zM111.4 163.8h3.9v2.4h-3.9zM134.6 163.8h3.4v2.4h-3.4zM146.4 163.8h2.6v2.4h-2.6zM155.1 163.8h3.4v2.4h-3.4zM27.5 163.8h1.9v2.4h-1.9zM36.0 166.8h3.8v2.4h-3.8zM46.3 166.8h3.5v2.4h-3.5zM56.9 166.8h2.8v2.4h-2.8zM66.9 166.8h3.5v2.4h-3.5zM78.4 166.8h2.8v2.4h-2.8zM88.4 166.8h3.4v2.4h-3.4zM99.7 166.8h3.4v2.4h-3.4zM135.3 166.8h2.9v2.4h-2.9zM145.1 166.8h3.8v2.4h-3.8zM27.4 166.8h1.9v2.4h-1.9zM35.9 169.8h2.7v2.4h-2.7zM46.1 169.8h2.8v2.4h-2.8zM78.2 169.8h3.0v2.4h-3.0zM89.3 169.8h2.5v2.4h-2.5zM99.3 169.8h3.2v2.4h-3.2zM111.3 169.8h4.0v2.4h-4.0zM123.3 169.8h3.2v2.4h-3.2zM135.5 169.8h2.9v2.4h-2.9zM146.0 169.8h3.2v2.4h-3.2zM154.8 169.8h3.8v2.4h-3.8zM27.0 169.8h1.9v2.4h-1.9zM35.7 172.8h3.6v2.4h-3.6zM46.5 172.8h3.2v2.4h-3.2zM56.1 172.8h4.1v2.4h-4.1zM67.1 172.8h3.2v2.4h-3.2zM78.7 172.8h2.9v2.4h-2.9zM99.1 172.8h4.1v2.4h-4.1zM112.0 172.8h2.6v2.4h-2.6zM123.2 172.8h3.3v2.4h-3.3zM135.0 172.8h3.4v2.4h-3.4zM145.4 172.8h3.4v2.4h-3.4zM155.0 172.8h2.9v2.4h-2.9zM27.3 172.8h1.9v2.4h-1.9zM35.6 175.8h4.0v2.4h-4.0zM46.4 175.8h3.4v2.4h-3.4zM66.9 175.8h3.5v2.4h-3.5zM78.5 175.8h2.6v2.4h-2.6zM88.6 175.8h3.3v2.4h-3.3zM112.0 175.8h2.7v2.4h-2.7zM123.5 175.8h3.0v2.4h-3.0zM134.5 175.8h3.7v2.4h-3.7zM145.0 175.8h3.9v2.4h-3.9zM154.7 175.8h3.5v2.4h-3.5zM36.0 178.8h3.1v2.4h-3.1zM45.4 178.8h3.9v2.4h-3.9zM56.4 178.8h3.8v2.4h-3.8zM78.3 178.8h3.7v2.4h-3.7zM88.1 178.8h3.9v2.4h-3.9zM99.1 178.8h3.6v2.4h-3.6zM111.5 178.8h2.7v2.4h-2.7zM123.3 178.8h2.8v2.4h-2.8zM145.9 178.8h3.2v2.4h-3.2zM155.1 178.8h4.0v2.4h-4.0zM27.1 178.8h1.9v2.4h-1.9zM35.7 184.0h3.9v2.4h-3.9zM45.8 184.0h3.0v2.4h-3.0zM56.6 184.0h4.1v2.4h-4.1zM67.3 184.0h2.7v2.4h-2.7zM77.7 184.0h3.5v2.4h-3.5zM89.2 184.0h2.9v2.4h-2.9zM99.9 184.0h3.1v2.4h-3.1zM123.3 184.0h3.6v2.4h-3.6zM134.7 184.0h4.1v2.4h-4.1zM145.6 184.0h3.2v2.4h-3.2zM26.9 184.0h1.9v2.4h-1.9zM35.8 187.0h3.0v2.4h-3.0zM46.4 187.0h2.6v2.4h-2.6zM56.9 187.0h2.7v2.4h-2.7zM67.3 187.0h2.9v2.4h-2.9zM78.3 187.0h3.4v2.4h-3.4zM88.3 187.0h4.0v2.4h-4.0zM111.3 187.0h3.4v2.4h-3.4zM123.0 187.0h2.9v2.4h-2.9zM134.8 187.0h3.7v2.4h-3.7zM145.3 187.0h3.9v2.4h-3.9zM154.8 187.0h3.4v2.4h-3.4zM36.3 190.0h3.0v2.4h-3.0zM45.7 190.0h4.1v2.4h-4.1zM57.2 190.0h3.2v2.4h-3.2zM67.3 190.0h3.4v2.4h-3.4zM77.9 190.0h3.0v2.4h-3.0zM89.0 190.0h3.1v2.4h-3.1zM99.3 190.0h4.1v2.4h-4.1zM111.6 190.0h2.9v2.4h-2.9zM123.5 190.0h2.9v2.4h-2.9zM135.0 190.0h3.0v2.4h-3.0zM146.1 190.0h2.8v2.4h-2.8zM154.8 190.0h3.7v2.4h-3.7zM27.3 190.0h1.9v2.4h-1.9zM36.0 193.0h2.7v2.4h-2.7zM45.6 193.0h4.0v2.4h-4.0zM56.5 193.0h3.9v2.4h-3.9zM77.7 193.0h3.5v2.4h-3.5zM89.0 193.0h2.7v2.4h-2.7zM99.1 193.0h3.5v2.4h-3.5zM111.5 193.0h3.1v2.4h-3.1zM135.0 193.0h3.7v2.4h-3.7zM145.5 193.0h2.8v2.4h-2.8zM155.6 193.0h3.1v2.4h-3.1z" fill="#1a1af5"/>
<path d="M76.0 149.1h1.3v1.8h-1.3zM27.1 149.1h1.2v1.8h-1.2zM35.6 151.8h4.0v2.4h-4.0zM43.7 152.1h1.3v1.8h-1.3zM64.1 152.1h1.3v1.8h-1.3zM86.6 152.1h1.3v1.8h-1.3zM122.7 151.8h3.6v2.4h-3.6zM121.0 152.1h1.3v1.8h-1.3zM132.1 152.1h1.3v1.8h-1.3zM151.7 152.1h1.3v1.8h-1.3zM59.9 152.1h1.2v1.8h-1.2zM42.5 155.1h1.3v1.8h-1.3zM64.6 155.1h1.3v1.8h-1.3zM77.9 154.8h3.5v2.4h-3.5zM76.5 155.1h1.3v1.8h-1.3zM109.7 155.1h1.3v1.8h-1.3zM134.6 154.8h3.7v2.4h-3.7zM132.2 155.1h1.3v1.8h-1.3zM155.4 154.8h3.1v2.4h-3.1zM77.5 155.1h1.2v1.8h-1.2zM54.0 158.1h1.3v1.8h-1.3zM153.4 158.1h1.3v1.8h-1.3zM32.5 158.1h1.2v1.8h-1.2zM34.0 161.1h1.3v1.8h-1.3zM44.3 161.1h1.3v1.8h-1.3zM75.6 161.1h1.3v1.8h-1.3zM108.8 161.1h1.3v1.8h-1.3zM131.9 161.1h1.3v1.8h-1.3zM97.9 161.1h1.2v1.8h-1.2zM54.5 164.1h1.3v1.8h-1.3zM152.4 164.1h1.3v1.8h-1.3zM43.8 164.1h1.2v1.8h-1.2zM64.7 167.1h1.3v1.8h-1.3zM111.4 166.8h3.7v2.4h-3.7zM122.6 166.8h4.0v2.4h-4.0zM131.6 167.1h1.3v1.8h-1.3zM155.5 166.8h2.8v2.4h-2.8zM51.9 167.1h1.2v1.8h-1.2zM67.3 169.8h2.7v2.4h-2.7zM86.2 170.1h1.3v1.8h-1.3zM152.8 170.1h1.3v1.8h-1.3zM57.6 170.1h1.2v1.8h-1.2zM96.6 173.1h1.3v1.8h-1.3zM151.7 173.1h1.2v1.8h-1.2zM99.8 175.8h3.4v2.4h-3.4zM153.3 176.1h1.3v1.8h-1.3zM99.7 176.1h1.2v1.8h-1.2zM67.6 178.8h3.1v2.4h-3.1zM97.4 179.1h1.3v1.8h-1.3zM134.8 178.8h3.7v2.4h-3.7zM24.8 179.1h1.3v1.8h-1.3zM132.2 179.1h1.2v1.8h-1.2zM54.1 184.3h1.3v1.8h-1.3zM111.3 184.0h3.7v2.4h-3.7zM155.0 184.3h1.2v1.8h-1.2zM53.8 187.3h1.3v1.8h-1.3zM64.2 187.3h1.3v1.8h-1.3zM99.3 187.0h2.9v2.4h-2.9zM132.7 187.3h1.3v1.8h-1.3zM151.9 187.3h1.3v1.8h-1.3zM135.5 187.3h1.2v1.8h-1.2zM97.0 190.3h1.3v1.8h-1.3zM107.7 190.3h1.3v1.8h-1.3zM153.2 190.3h1.3v1.8h-1.3zM137.5 190.3h1.2v1.8h-1.2zM33.5 193.3h1.3v1.8h-1.3zM67.6 193.0h3.2v2.4h-3.2zM26.9 193.0h1.9v2.4h-1.9zM101.0 193.3h1.2v1.8h-1.2z" fill="#444" opacity="0.7"/>
<line x1="27.0" y1="198.3" x2="159.0" y2="198.6" stroke="#d0d0d0" stroke-width="1.1"/>
<path d="M25.0 200.1h4v1.4h-4zM47.0 200.1h4v1.4h-4zM69.0 200.1h4v1.4h-4zM91.0 200.1h4v1.4h-4zM113.0 200.1h4v1.4h-4zM135.0 200.1h4v1.4h-4zM157.0 200.1h4v1.4h-4z" fill="#bbb" opacity="0.8"/>
<path d="M179.3 149.0h2.6v2.4h-2.6zM182.7 149.0h2.8v2.4h-2.8zM186.4 149.0h2.0v2.4h-2.0zM189.1 149.0h2.8v2.4h-2.8zM192.5 149.0h2.8v2.4h-2.8zM200.2 149.0h2.2v2.4h-2.2zM203.9 149.0h2.0v2.4h-2.0zM206.8 149.0h2.4v2.4h-2.4zM217.2 149.0h2.2v2.4h-2.2zM220.7 149.0h2.1v2.4h-2.1zM224.7 149.0h1.9v2.4h-1.9zM230.6 149.0h2.6v2.4h-2.6zM234.7 149.0h1.9v2.4h-1.9zM248.1 149.0h2.1v2.4h-2.1zM262.3 149.0h2.1v2.4h-2.1zM265.6 149.0h2.9v2.4h-2.9zM272.2 149.0h2.9v2.4h-2.9zM275.8 149.0h2.2v2.4h-2.2zM279.1 149.0h2.9v2.4h-2.9zM293.4 149.0h2.3v2.4h-2.3zM310.1 149.0h2.7v2.4h-2.7zM179.4 151.9h2.5v2.4h-2.5zM182.6 151.9h2.3v2.4h-2.3zM186.1 151.9h2.0v2.4h-2.0zM192.7 151.9h2.9v2.4h-2.9zM196.9 151.9h2.0v2.4h-2.0zM203.4 151.9h2.2v2.4h-2.2zM206.7 151.9h2.9v2.4h-2.9zM209.9 151.9h2.8v2.4h-2.8zM217.4 151.9h2.4v2.4h-2.4zM220.5 151.9h3.0v2.4h-3.0zM227.5 151.9h2.4v2.4h-2.4zM241.6 151.9h2.6v2.4h-2.6zM244.6 151.9h2.5v2.4h-2.5zM248.6 151.9h2.3v2.4h-2.3zM258.4 151.9h2.7v2.4h-2.7zM264.9 151.9h2.8v2.4h-2.8zM268.7 151.9h2.7v2.4h-2.7zM276.3 151.9h1.9v2.4h-1.9zM279.5 151.9h2.6v2.4h-2.6zM282.6 151.9h2.6v2.4h-2.6zM286.7 151.9h2.1v2.4h-2.1zM289.6 151.9h2.9v2.4h-2.9zM293.3 151.9h2.7v2.4h-2.7zM296.5 151.9h1.9v2.4h-1.9zM304.0 151.9h2.1v2.4h-2.1zM306.8 151.9h2.5v2.4h-2.5zM183.2 154.9h2.2v2.4h-2.2zM196.5 154.9h2.6v2.4h-2.6zM206.9 154.9h2.5v2.4h-2.5zM210.8 154.9h2.2v2.4h-2.2zM213.9 154.9h2.0v2.4h-2.0zM217.7 154.9h2.2v2.4h-2.2zM220.8 154.9h2.3v2.4h-2.3zM231.0 154.9h2.6v2.4h-2.6zM234.2 154.9h2.9v2.4h-2.9zM237.6 154.9h2.7v2.4h-2.7zM254.9 154.9h2.8v2.4h-2.8zM258.5 154.9h1.9v2.4h-1.9zM262.6 154.9h2.0v2.4h-2.0zM265.0 154.9h2.9v2.4h-2.9zM279.0 154.9h2.7v2.4h-2.7zM285.9 154.9h2.3v2.4h-2.3zM290.3 154.9h1.9v2.4h-1.9zM300.3 154.9h2.5v2.4h-2.5zM303.3 154.9h2.8v2.4h-2.8zM179.2 157.8h2.2v2.4h-2.2zM203.2 157.8h2.7v2.4h-2.7zM207.1 157.8h1.9v2.4h-1.9zM220.3 157.8h2.6v2.4h-2.6zM234.1 157.8h2.9v2.4h-2.9zM241.2 157.8h2.4v2.4h-2.4zM245.0 157.8h2.9v2.4h-2.9zM251.4 157.8h2.5v2.4h-2.5zM255.3 157.8h2.1v2.4h-2.1zM258.5 157.8h3.0v2.4h-3.0zM265.8 157.8h2.0v2.4h-2.0zM276.5 157.8h1.9v2.4h-1.9zM279.9 157.8h2.0v2.4h-2.0zM283.0 157.8h2.1v2.4h-2.1zM286.2 157.8h1.9v2.4h-1.9zM296.1 157.8h2.8v2.4h-2.8zM299.6 157.8h2.7v2.4h-2.7zM310.4 157.8h1.9v2.4h-1.9zM178.7 160.7h2.9v2.4h-2.9zM185.8 160.7h2.7v2.4h-2.7zM210.3 160.7h1.9v2.4h-1.9zM213.9 160.7h2.8v2.4h-2.8zM220.8 160.7h2.7v2.4h-2.7zM227.2 160.7h2.8v2.4h-2.8zM230.9 160.7h2.0v2.4h-2.0zM237.9 160.7h2.4v2.4h-2.4zM241.3 160.7h2.3v2.4h-2.3zM255.7 160.7h2.1v2.4h-2.1zM261.8 160.7h2.4v2.4h-2.4zM265.5 160.7h2.0v2.4h-2.0zM275.9 160.7h2.3v2.4h-2.3zM293.3 160.7h2.3v2.4h-2.3zM299.7 160.7h2.7v2.4h-2.7zM306.9 160.7h2.0v2.4h-2.0zM179.3 163.7h2.3v2.4h-2.3zM182.5 163.7h3.0v2.4h-3.0zM193.0 163.7h2.7v2.4h-2.7zM196.6 163.7h2.6v2.4h-2.6zM199.8 163.7h2.8v2.4h-2.8zM206.4 163.7h2.9v2.4h-2.9zM210.6 163.7h2.3v2.4h-2.3zM217.3 163.7h2.6v2.4h-2.6zM227.9 163.7h1.9v2.4h-1.9zM234.5 163.7h1.9v2.4h-1.9zM237.6 163.7h2.9v2.4h-2.9zM244.6 163.7h2.6v2.4h-2.6zM251.7 163.7h2.5v2.4h-2.5zM258.4 163.7h2.8v2.4h-2.8zM275.9 163.7h2.7v2.4h-2.7zM279.1 163.7h2.8v2.4h-2.8zM293.6 163.7h2.0v2.4h-2.0zM300.2 163.7h2.4v2.4h-2.4zM303.4 163.7h2.9v2.4h-2.9zM310.0 163.7h2.9v2.4h-2.9zM179.3 166.6h2.9v2.4h-2.9zM182.3 166.6h2.5v2.4h-2.5zM185.8 166.6h2.6v2.4h-2.6zM193.2 166.6h2.8v2.4h-2.8zM196.4 166.6h2.5v2.4h-2.5zM203.4 166.6h2.5v2.4h-2.5zM207.0 166.6h2.2v2.4h-2.2zM214.4 166.6h2.0v2.4h-2.0zM220.4 166.6h2.3v2.4h-2.3zM227.1 166.6h2.9v2.4h-2.9zM231.1 166.6h2.1v2.4h-2.1zM234.5 166.6h2.6v2.4h-2.6zM238.2 166.6h2.5v2.4h-2.5zM241.1 166.6h2.6v2.4h-2.6zM251.9 166.6h2.7v2.4h-2.7zM275.8 166.6h2.4v2.4h-2.4zM279.5 166.6h1.9v2.4h-1.9zM283.2 166.6h2.4v2.4h-2.4zM300.3 166.6h1.9v2.4h-1.9zM303.2 166.6h2.5v2.4h-2.5zM307.5 166.6h2.0v2.4h-2.0zM179.5 169.5h2.6v2.4h-2.6zM183.3 169.5h2.0v2.4h-2.0zM200.1 169.5h2.5v2.4h-2.5zM210.3 169.5h2.6v2.4h-2.6zM213.4 169.5h2.8v2.4h-2.8zM217.5 169.5h2.4v2.4h-2.4zM235.1 169.5h1.9v2.4h-1.9zM241.4 169.5h1.9v2.4h-1.9zM244.9 169.5h1.9v2.4h-1.9zM254.8 169.5h2.6v2.4h-2.6zM261.6 169.5h2.8v2.4h-2.8zM268.5 169.5h3.0v2.4h-3.0zM276.2 169.5h2.4v2.4h-2.4zM279.6 169.5h2.0v2.4h-2.0zM282.8 169.5h2.1v2.4h-2.1zM289.3 169.5h2.6v2.4h-2.6zM293.1 169.5h2.6v2.4h-2.6zM296.6 169.5h2.8v2.4h-2.8zM304.0 169.5h2.0v2.4h-2.0zM306.6 169.5h2.7v2.4h-2.7zM310.4 169.5h2.3v2.4h-2.3zM182.9 172.4h2.1v2.4h-2.1zM193.2 172.4h1.9v2.4h-1.9zM206.7 172.4h2.9v2.4h-2.9zM217.1 172.4h2.0v2.4h-2.0zM224.1 172.4h1.9v2.4h-1.9zM238.3 172.4h2.2v2.4h-2.2zM255.0 172.4h2.6v2.4h-2.6zM258.5 172.4h2.4v2.4h-2.4zM262.2 172.4h2.6v2.4h-2.6zM268.8 172.4h2.7v2.4h-2.7zM276.2 172.4h2.1v2.4h-2.1zM278.9 172.4h2.9v2.4h-2.9zM283.3 172.4h2.2v2.4h-2.2zM285.9 172.4h2.5v2.4h-2.5zM289.6 172.4h2.7v2.4h-2.7zM303.1 172.4h2.7v2.4h-2.7zM307.1 172.4h1.9v2.4h-1.9zM310.7 172.4h2.1v2.4h-2.1zM189.2 175.4h2.6v2.4h-2.6zM196.6 175.4h2.6v2.4h-2.6zM206.6 175.4h2.5v2.4h-2.5zM210.5 175.4h2.1v2.4h-2.1zM213.8 175.4h1.9v2.4h-1.9zM220.3 175.4h2.6v2.4h-2.6zM227.7 175.4h1.9v2.4h-1.9zM234.4 175.4h2.2v2.4h-2.2zM241.9 175.4h2.1v2.4h-2.1zM248.1 175.4h2.2v2.4h-2.2zM279.2 175.4h2.1v2.4h-2.1zM300.2 175.4h2.6v2.4h-2.6zM303.6 175.4h2.0v2.4h-2.0zM310.1 175.4h2.5v2.4h-2.5zM183.0 178.3h2.0v2.4h-2.0zM193.3 178.3h2.0v2.4h-2.0zM200.6 178.3h2.0v2.4h-2.0zM206.6 178.3h2.9v2.4h-2.9zM210.6 178.3h2.3v2.4h-2.3zM213.4 178.3h2.8v2.4h-2.8zM216.9 178.3h2.9v2.4h-2.9zM220.9 178.3h2.8v2.4h-2.8zM227.8 178.3h2.4v2.4h-2.4zM241.7 178.3h2.4v2.4h-2.4zM245.2 178.3h2.2v2.4h-2.2zM248.3 178.3h2.9v2.4h-2.9zM251.7 178.3h2.9v2.4h-2.9zM262.1 178.3h2.6v2.4h-2.6zM290.2 178.3h2.2v2.4h-2.2zM300.4 178.3h2.6v2.4h-2.6zM307.2 178.3h1.9v2.4h-1.9zM179.2 187.1h1.9v2.4h-1.9zM186.0 187.1h2.8v2.4h-2.8zM189.5 187.1h2.7v2.4h-2.7zM193.0 187.1h2.1v2.4h-2.1zM196.2 187.1h2.6v2.4h-2.6zM199.5 187.1h2.8v2.4h-2.8zM203.4 187.1h2.9v2.4h-2.9zM210.8 187.1h1.9v2.4h-1.9zM216.9 187.1h2.9v2.4h-2.9zM220.6 187.1h2.3v2.4h-2.3zM227.2 187.1h2.5v2.4h-2.5zM231.6 187.1h2.0v2.4h-2.0zM234.8 187.1h2.5v2.4h-2.5zM241.5 187.1h2.7v2.4h-2.7zM245.0 187.1h2.7v2.4h-2.7zM269.1 187.1h1.9v2.4h-1.9zM272.3 187.1h2.7v2.4h-2.7zM275.6 187.1h2.6v2.4h-2.6zM278.9 187.1h2.7v2.4h-2.7zM285.9 187.1h2.8v2.4h-2.8zM292.9 187.1h2.4v2.4h-2.4zM296.3 187.1h2.5v2.4h-2.5zM303.2 187.1h2.4v2.4h-2.4zM183.0 189.8h2.2v2.4h-2.2zM189.5 189.8h2.5v2.4h-2.5zM193.2 189.8h2.8v2.4h-2.8zM196.9 189.8h2.3v2.4h-2.3zM203.3 189.8h2.2v2.4h-2.2zM206.6 189.8h2.4v2.4h-2.4zM209.9 189.8h2.8v2.4h-2.8zM217.4 189.8h2.1v2.4h-2.1zM227.6 189.8h2.6v2.4h-2.6zM231.1 189.8h2.0v2.4h-2.0zM234.3 189.8h2.3v2.4h-2.3zM241.3 189.8h2.6v2.4h-2.6zM252.1 189.8h2.0v2.4h-2.0zM258.7 189.8h2.7v2.4h-2.7zM268.6 189.8h2.4v2.4h-2.4zM275.7 189.8h2.1v2.4h-2.1zM279.2 189.8h3.0v2.4h-3.0zM289.4 189.8h2.6v2.4h-2.6zM296.5 189.8h2.1v2.4h-2.1zM300.2 189.8h2.2v2.4h-2.2zM303.8 189.8h2.0v2.4h-2.0zM310.7 189.8h2.4v2.4h-2.4z" fill="#1a1af5"/>
<path d="M177.0 149.3h1.3v1.8h-1.3zM197.2 149.0h1.9v2.4h-1.9zM194.1 149.3h1.3v1.8h-1.3zM227.6 149.0h2.3v2.4h-2.3zM224.9 149.3h1.3v1.8h-1.3zM237.7 149.0h2.9v2.4h-2.9zM234.5 149.3h1.3v1.8h-1.3zM241.8 149.0h2.0v2.4h-2.0zM239.3 149.3h1.3v1.8h-1.3zM258.8 149.0h1.9v2.4h-1.9zM286.5 149.0h2.6v2.4h-2.6zM290.0 149.0h2.5v2.4h-2.5zM290.1 149.3h1.3v1.8h-1.3zM221.8 149.3h1.2v1.8h-1.2zM307.0 149.3h1.2v1.8h-1.2zM194.3 152.2h1.3v1.8h-1.3zM204.4 152.2h1.3v1.8h-1.3zM225.5 152.2h1.3v1.8h-1.3zM230.8 151.9h2.1v2.4h-2.1zM238.3 151.9h2.3v2.4h-2.3zM246.2 152.2h1.3v1.8h-1.3zM255.7 151.9h1.9v2.4h-1.9zM263.6 152.2h1.3v1.8h-1.3zM266.8 152.2h1.3v1.8h-1.3zM291.3 152.2h1.3v1.8h-1.3zM293.6 152.2h1.3v1.8h-1.3zM300.1 151.9h2.9v2.4h-2.9zM300.4 152.2h1.3v1.8h-1.3zM304.1 152.2h1.3v1.8h-1.3zM314.2 152.2h1.2v1.8h-1.2zM283.8 152.2h1.2v1.8h-1.2zM186.3 154.9h2.1v2.4h-2.1zM193.5 154.9h2.3v2.4h-2.3zM194.2 155.2h1.3v1.8h-1.3zM200.2 154.9h2.0v2.4h-2.0zM203.2 154.9h2.3v2.4h-2.3zM217.8 155.2h1.3v1.8h-1.3zM224.5 154.9h2.1v2.4h-2.1zM227.5 154.9h2.3v2.4h-2.3zM225.6 155.2h1.3v1.8h-1.3zM241.4 154.9h2.6v2.4h-2.6zM245.4 154.9h1.9v2.4h-1.9zM275.7 154.9h2.2v2.4h-2.2zM282.5 154.9h2.5v2.4h-2.5zM307.2 154.9h2.3v2.4h-2.3zM271.8 155.2h1.2v1.8h-1.2zM298.1 155.2h1.2v1.8h-1.2zM177.6 158.1h1.3v1.8h-1.3zM185.8 157.8h2.5v2.4h-2.5zM189.7 157.8h2.8v2.4h-2.8zM187.2 158.1h1.3v1.8h-1.3zM193.3 157.8h2.2v2.4h-2.2zM200.6 158.1h1.3v1.8h-1.3zM210.3 157.8h2.5v2.4h-2.5zM213.4 157.8h2.8v2.4h-2.8zM211.6 158.1h1.3v1.8h-1.3zM224.3 157.8h2.0v2.4h-2.0zM239.6 158.1h1.3v1.8h-1.3zM248.3 157.8h2.7v2.4h-2.7zM262.6 157.8h2.1v2.4h-2.1zM269.0 157.8h2.0v2.4h-2.0zM292.8 157.8h2.3v2.4h-2.3zM291.1 158.1h1.3v1.8h-1.3zM297.6 158.1h1.3v1.8h-1.3zM304.5 158.1h1.2v1.8h-1.2zM182.5 158.1h1.2v1.8h-1.2zM183.4 161.0h1.3v1.8h-1.3zM196.2 160.7h3.0v2.4h-3.0zM203.7 160.7h2.1v2.4h-2.1zM206.9 161.0h1.3v1.8h-1.3zM216.8 160.7h2.6v2.4h-2.6zM214.8 161.0h1.3v1.8h-1.3zM228.2 161.0h1.3v1.8h-1.3zM237.9 161.0h1.3v1.8h-1.3zM244.8 160.7h3.0v2.4h-3.0zM243.0 161.0h1.3v1.8h-1.3zM251.3 160.7h2.7v2.4h-2.7zM253.4 161.0h1.3v1.8h-1.3zM263.8 161.0h1.3v1.8h-1.3zM269.4 160.7h1.9v2.4h-1.9zM279.2 160.7h3.0v2.4h-3.0zM276.0 161.0h1.3v1.8h-1.3zM289.6 160.7h2.6v2.4h-2.6zM304.2 161.0h1.3v1.8h-1.3zM237.6 161.0h1.2v1.8h-1.2zM209.6 161.0h1.2v1.8h-1.2zM189.1 163.7h2.9v2.4h-2.9zM198.0 163.9h1.3v1.8h-1.3zM208.6 163.9h1.3v1.8h-1.3zM220.7 163.7h2.1v2.4h-2.1zM218.1 163.9h1.3v1.8h-1.3zM224.3 163.7h2.7v2.4h-2.7zM231.2 163.7h2.0v2.4h-2.0zM235.3 163.9h1.3v1.8h-1.3zM240.9 163.7h2.8v2.4h-2.8zM241.3 163.9h1.3v1.8h-1.3zM248.6 163.9h1.3v1.8h-1.3zM255.2 163.7h2.5v2.4h-2.5zM265.4 163.7h2.4v2.4h-2.4zM285.9 163.7h2.6v2.4h-2.6zM214.2 163.9h1.2v1.8h-1.2zM196.4 163.9h1.2v1.8h-1.2zM189.6 166.6h2.7v2.4h-2.7zM200.6 166.9h1.3v1.8h-1.3zM217.0 166.6h2.5v2.4h-2.5zM229.2 166.9h1.3v1.8h-1.3zM238.7 166.9h1.3v1.8h-1.3zM244.9 166.6h2.9v2.4h-2.9zM258.4 166.6h2.2v2.4h-2.2zM257.0 166.9h1.3v1.8h-1.3zM262.2 166.6h2.4v2.4h-2.4zM265.6 166.6h2.9v2.4h-2.9zM271.9 166.6h2.7v2.4h-2.7zM270.0 166.9h1.3v1.8h-1.3zM286.0 166.6h3.0v2.4h-3.0zM293.3 166.6h2.9v2.4h-2.9zM297.0 166.6h2.2v2.4h-2.2zM310.5 166.6h2.5v2.4h-2.5zM307.8 166.9h1.3v1.8h-1.3zM213.5 166.9h1.2v1.8h-1.2zM261.1 166.9h1.2v1.8h-1.2zM196.5 169.5h2.4v2.4h-2.4zM228.0 169.5h2.3v2.4h-2.3zM237.7 169.5h2.8v2.4h-2.8zM239.7 169.8h1.3v1.8h-1.3zM241.7 169.8h1.3v1.8h-1.3zM248.3 169.5h2.2v2.4h-2.2zM245.1 169.8h1.3v1.8h-1.3zM251.5 169.5h3.0v2.4h-3.0zM258.4 169.5h2.1v2.4h-2.1zM265.6 169.5h2.2v2.4h-2.2zM286.5 169.5h2.0v2.4h-2.0zM300.3 169.5h2.5v2.4h-2.5zM300.7 169.8h1.3v1.8h-1.3zM308.2 169.8h1.3v1.8h-1.3zM254.2 169.8h1.2v1.8h-1.2zM197.8 169.8h1.2v1.8h-1.2zM179.2 172.4h2.3v2.4h-2.3zM186.2 172.4h1.9v2.4h-1.9zM190.1 172.4h2.0v2.4h-2.0zM196.6 172.4h1.9v2.4h-1.9zM203.8 172.4h2.2v2.4h-2.2zM214.1 172.4h2.3v2.4h-2.3zM210.6 172.7h1.3v1.8h-1.3zM220.3 172.4h2.7v2.4h-2.7zM230.9 172.4h2.1v2.4h-2.1zM234.6 172.4h2.1v2.4h-2.1zM241.4 172.4h2.4v2.4h-2.4zM265.7 172.7h1.3v1.8h-1.3zM277.7 172.7h1.3v1.8h-1.3zM293.2 172.4h2.0v2.4h-2.0zM296.9 172.4h2.6v2.4h-2.6zM300.0 172.4h1.9v2.4h-1.9zM301.8 172.7h1.3v1.8h-1.3zM305.4 172.7h1.2v1.8h-1.2zM314.8 172.7h1.2v1.8h-1.2zM179.2 175.4h2.0v2.4h-2.0zM183.0 175.4h2.1v2.4h-2.1zM187.7 175.7h1.3v1.8h-1.3zM193.2 175.4h2.8v2.4h-2.8zM189.6 175.7h1.3v1.8h-1.3zM200.3 175.4h2.2v2.4h-2.2zM203.5 175.4h2.8v2.4h-2.8zM200.0 175.7h1.3v1.8h-1.3zM207.5 175.7h1.3v1.8h-1.3zM216.7 175.4h2.9v2.4h-2.9zM215.0 175.7h1.3v1.8h-1.3zM231.2 175.7h1.3v1.8h-1.3zM262.1 175.4h2.7v2.4h-2.7zM269.3 175.4h2.5v2.4h-2.5zM272.6 175.4h2.3v2.4h-2.3zM269.8 175.7h1.3v1.8h-1.3zM276.6 175.7h1.3v1.8h-1.3zM283.4 175.4h1.9v2.4h-1.9zM280.7 175.7h1.3v1.8h-1.3zM289.8 175.4h2.0v2.4h-2.0zM287.0 175.7h1.3v1.8h-1.3zM296.8 175.4h2.3v2.4h-2.3zM307.3 175.4h2.3v2.4h-2.3zM307.2 175.7h1.3v1.8h-1.3zM295.7 175.7h1.2v1.8h-1.2zM203.9 175.7h1.2v1.8h-1.2zM186.3 178.3h2.7v2.4h-2.7zM184.1 178.6h1.3v1.8h-1.3zM196.9 178.3h2.0v2.4h-2.0zM194.5 178.6h1.3v1.8h-1.3zM198.0 178.6h1.3v1.8h-1.3zM203.7 178.3h2.1v2.4h-2.1zM208.3 178.6h1.3v1.8h-1.3zM210.6 178.6h1.3v1.8h-1.3zM214.1 178.6h1.3v1.8h-1.3zM217.4 178.6h1.3v1.8h-1.3zM224.1 178.6h1.3v1.8h-1.3zM231.4 178.3h2.2v2.4h-2.2zM258.6 178.3h2.0v2.4h-2.0zM258.9 178.6h1.3v1.8h-1.3zM265.9 178.3h1.9v2.4h-1.9zM276.0 178.3h2.9v2.4h-2.9zM273.7 178.6h1.3v1.8h-1.3zM279.3 178.3h2.5v2.4h-2.5zM293.0 178.3h2.6v2.4h-2.6zM303.6 178.6h1.3v1.8h-1.3zM234.1 178.6h1.2v1.8h-1.2zM307.1 178.6h1.2v1.8h-1.2zM182.5 187.1h3.0v2.4h-3.0zM179.7 187.4h1.3v1.8h-1.3zM198.1 187.4h1.3v1.8h-1.3zM206.7 187.1h2.1v2.4h-2.1zM206.8 187.4h1.3v1.8h-1.3zM214.1 187.1h2.1v2.4h-2.1zM223.9 187.1h3.0v2.4h-3.0zM225.6 187.4h1.3v1.8h-1.3zM239.2 187.4h1.3v1.8h-1.3zM248.1 187.1h2.3v2.4h-2.3zM277.3 187.4h1.3v1.8h-1.3zM282.6 187.1h2.8v2.4h-2.8zM299.8 187.1h2.8v2.4h-2.8zM307.1 187.1h2.8v2.4h-2.8zM310.3 187.1h2.8v2.4h-2.8zM308.4 187.4h1.3v1.8h-1.3zM191.8 187.4h1.2v1.8h-1.2zM233.0 187.4h1.2v1.8h-1.2zM187.8 190.1h1.3v1.8h-1.3zM204.0 190.1h1.3v1.8h-1.3zM213.7 189.8h2.9v2.4h-2.9zM220.5 189.8h2.9v2.4h-2.9zM217.1 190.1h1.3v1.8h-1.3zM227.7 190.1h1.3v1.8h-1.3zM232.5 190.1h1.3v1.8h-1.3zM239.7 190.1h1.3v1.8h-1.3zM244.6 189.8h2.1v2.4h-2.1zM256.5 190.1h1.3v1.8h-1.3zM272.3 189.8h2.1v2.4h-2.1zM273.5 190.1h1.3v1.8h-1.3zM282.7 189.8h2.7v2.4h-2.7zM298.3 190.1h1.3v1.8h-1.3zM306.5 189.8h2.8v2.4h-2.8zM306.9 190.1h1.3v1.8h-1.3zM206.1 190.1h1.2v1.8h-1.2zM289.2 190.1h1.2v1.8h-1.2z" fill="#444" opacity="0.7"/>
<line x1="179.0" y1="197.5" x2="316.0" y2="197.8" stroke="#d0d0d0" stroke-width="1.1"/>
<path d="M177.0 199.3h4v1.4h-4zM199.8 199.3h4v1.4h-4zM222.7 199.3h4v1.4h-4zM245.5 199.3h4v1.4h-4zM268.3 199.3h4v1.4h-4zM291.2 199.3h4v1.4h-4zM314.0 199.3h4v1.4h-4z" fill="#bbb" opacity="0.8"/>
<path d="M36.1 354.8h2.6v2.4h-2.6zM62.9 354.8h2.1v2.4h-2.1zM78.5 354.8h2.2v2.4h-2.2zM95.3 354.8h2.1v2.4h-2.1zM131.6 354.8h2.8v2.4h-2.8zM157.0 354.8h2.2v2.4h-2.2zM36.0 357.7h3.0v2.4h-3.0zM62.4 357.7h2.6v2.4h-2.6zM78.5 357.7h2.4v2.4h-2.4zM95.4 357.7h2.1v2.4h-2.1zM132.0 357.7h2.7v2.4h-2.7zM156.6 357.7h2.6v2.4h-2.6zM35.7 360.5h2.8v2.4h-2.8zM63.2 360.5h2.0v2.4h-2.0zM78.4 360.5h2.5v2.4h-2.5zM95.4 360.5h2.2v2.4h-2.2zM116.6 360.5h2.1v2.4h-2.1zM132.0 360.5h1.9v2.4h-1.9zM36.0 363.4h2.2v2.4h-2.2zM62.0 363.4h2.8v2.4h-2.8zM95.6 363.4h2.4v2.4h-2.4zM116.5 363.4h2.7v2.4h-2.7zM131.6 363.4h2.5v2.4h-2.5zM156.7 363.4h2.2v2.4h-2.2zM36.6 366.2h1.9v2.4h-1.9zM62.5 366.2h2.2v2.4h-2.2zM78.0 366.2h2.8v2.4h-2.8zM95.6 366.2h2.0v2.4h-2.0zM131.5 366.2h2.4v2.4h-2.4zM156.7 366.2h2.5v2.4h-2.5zM36.0 369.1h2.4v2.4h-2.4zM78.5 369.1h2.3v2.4h-2.3zM95.4 369.1h2.0v2.4h-2.0zM117.3 369.1h2.2v2.4h-2.2zM131.4 369.1h2.7v2.4h-2.7zM36.2 371.9h2.3v2.4h-2.3zM62.1 371.9h2.7v2.4h-2.7zM78.8 371.9h2.1v2.4h-2.1zM95.9 371.9h2.2v2.4h-2.2zM117.2 371.9h2.3v2.4h-2.3zM132.1 371.9h2.4v2.4h-2.4zM157.2 371.9h2.0v2.4h-2.0zM36.4 374.8h1.9v2.4h-1.9zM62.9 374.8h2.4v2.4h-2.4zM78.8 374.8h2.3v2.4h-2.3zM95.0 374.8h2.8v2.4h-2.8zM116.9 374.8h2.1v2.4h-2.1zM132.0 374.8h2.3v2.4h-2.3zM157.4 374.8h2.3v2.4h-2.3zM36.2 377.6h2.8v2.4h-2.8zM62.4 377.6h2.5v2.4h-2.5zM78.8 377.6h1.9v2.4h-1.9zM95.2 377.6h2.8v2.4h-2.8zM117.2 377.6h2.3v2.4h-2.3zM132.0 377.6h2.6v2.4h-2.6zM156.9 377.6h2.4v2.4h-2.4zM62.7 380.4h2.3v2.4h-2.3zM96.1 380.4h2.1v2.4h-2.1zM116.6 380.4h2.3v2.4h-2.3zM132.0 380.4h2.1v2.4h-2.1zM157.1 380.4h2.6v2.4h-2.6zM36.1 383.3h2.4v2.4h-2.4zM62.4 383.3h2.3v2.4h-2.3zM78.0 383.3h2.9v2.4h-2.9zM95.7 383.3h2.8v2.4h-2.8zM116.6 383.3h2.2v2.4h-2.2zM132.0 383.3h2.3v2.4h-2.3zM157.6 383.3h1.9v2.4h-1.9zM36.1 386.2h2.3v2.4h-2.3zM63.1 386.2h2.0v2.4h-2.0zM77.9 386.2h2.7v2.4h-2.7zM95.5 386.2h2.9v2.4h-2.9zM117.0 386.2h2.5v2.4h-2.5zM131.5 386.2h2.7v2.4h-2.7zM157.3 386.2h2.3v2.4h-2.3zM36.2 391.8h2.3v2.4h-2.3zM62.4 391.8h2.9v2.4h-2.9zM78.7 391.8h2.4v2.4h-2.4zM95.8 391.8h2.4v2.4h-2.4zM116.4 391.8h2.5v2.4h-2.5zM131.7 391.8h2.5v2.4h-2.5zM157.0 391.8h2.7v2.4h-2.7zM62.4 394.6h2.9v2.4h-2.9zM78.2 394.6h2.1v2.4h-2.1zM95.1 394.6h2.4v2.4h-2.4zM116.2 394.6h2.9v2.4h-2.9zM131.6 394.6h2.5v2.4h-2.5zM157.1 394.6h2.4v2.4h-2.4zM35.6 397.4h2.7v2.4h-2.7zM62.9 397.4h1.9v2.4h-1.9zM77.8 397.4h3.0v2.4h-3.0zM95.5 397.4h2.0v2.4h-2.0zM116.4 397.4h2.5v2.4h-2.5zM131.5 397.4h2.5v2.4h-2.5zM157.2 397.4h1.9v2.4h-1.9z" fill="#1a1af5"/>
<path d="M34.0 355.1h1.3v1.8h-1.3zM116.8 354.8h2.8v2.4h-2.8zM153.8 355.1h1.3v1.8h-1.3zM60.0 358.0h1.3v1.8h-1.3zM75.8 358.0h1.3v1.8h-1.3zM92.6 358.0h1.3v1.8h-1.3zM128.6 358.0h1.3v1.8h-1.3zM130.2 360.8h1.3v1.8h-1.3zM33.6 363.7h1.3v1.8h-1.3zM92.9 363.7h1.3v1.8h-1.3zM153.9 363.7h1.3v1.8h-1.3zM59.3 366.5h1.3v1.8h-1.3zM153.7 366.5h1.3v1.8h-1.3zM62.6 369.1h2.7v2.4h-2.7zM115.1 369.4h1.3v1.8h-1.3zM76.7 372.2h1.3v1.8h-1.3zM129.4 372.2h1.3v1.8h-1.3zM114.1 375.1h1.3v1.8h-1.3zM130.1 375.1h1.3v1.8h-1.3zM153.6 375.1h1.3v1.8h-1.3zM60.6 380.8h1.3v1.8h-1.3zM78.3 380.4h2.2v2.4h-2.2zM74.9 380.8h1.3v1.8h-1.3zM93.6 380.8h1.3v1.8h-1.3zM113.8 380.8h1.3v1.8h-1.3zM155.3 380.8h1.3v1.8h-1.3zM33.1 383.6h1.3v1.8h-1.3zM75.5 383.6h1.3v1.8h-1.3zM113.8 383.6h1.3v1.8h-1.3zM153.8 383.6h1.3v1.8h-1.3zM33.5 386.5h1.3v1.8h-1.3zM60.5 392.1h1.3v1.8h-1.3zM35.5 394.6h2.9v2.4h-2.9zM59.4 394.9h1.3v1.8h-1.3zM92.4 394.9h1.3v1.8h-1.3zM33.4 397.7h1.3v1.8h-1.3z" fill="#444" opacity="0.7"/>
<line x1="17.0" y1="403.3" x2="162.0" y2="403.6" stroke="#d0d0d0" stroke-width="1.1"/>
<path d="M15.0 405.1h4v1.4h-4zM39.2 405.1h4v1.4h-4zM63.3 405.1h4v1.4h-4zM87.5 405.1h4v1.4h-4zM111.7 405.1h4v1.4h-4zM135.8 405.1h4v1.4h-4zM160.0 405.1h4v1.4h-4z" fill="#bbb" opacity="0.8"/>
<path d="M34.8 372.5h5.5v2.4h-5.5zM61.3 372.5h5.5v2.4h-5.5zM77.1 372.5h5.5v2.4h-5.5zM94.2 372.5h5.5v2.4h-5.5zM115.5 372.5h5.5v2.4h-5.5zM130.5 372.5h5.5v2.4h-5.5zM155.7 372.5h5.5v2.4h-5.5z" fill="#1a1af5"/>
<path d="M202.8 354.8h1.9v2.4h-1.9zM218.3 354.8h1.9v2.4h-1.9zM270.9 354.8h1.9v2.4h-1.9zM285.4 354.8h1.9v2.4h-1.9zM218.3 357.7h1.9v2.4h-1.9zM237.6 357.7h1.9v2.4h-1.9zM270.7 357.7h1.9v2.4h-1.9zM218.8 360.5h1.9v2.4h-1.9zM270.6 360.5h1.9v2.4h-1.9zM285.3 360.5h1.9v2.4h-1.9zM218.9 363.4h1.9v2.4h-1.9zM285.0 363.4h1.9v2.4h-1.9zM300.8 363.4h1.9v2.4h-1.9zM202.4 366.2h1.9v2.4h-1.9zM300.9 366.2h1.9v2.4h-1.9zM218.7 369.1h1.9v2.4h-1.9zM238.0 369.1h1.9v2.4h-1.9zM270.9 369.1h1.9v2.4h-1.9zM218.3 371.9h1.9v2.4h-1.9zM271.0 371.9h1.9v2.4h-1.9zM284.8 371.9h1.9v2.4h-1.9zM202.9 374.8h1.9v2.4h-1.9zM218.4 374.8h1.9v2.4h-1.9zM270.6 374.8h1.9v2.4h-1.9zM300.8 374.8h1.9v2.4h-1.9zM218.7 377.6h1.9v2.4h-1.9zM285.4 377.6h1.9v2.4h-1.9zM300.4 377.6h1.9v2.4h-1.9zM202.9 380.4h1.9v2.4h-1.9zM218.9 380.4h1.9v2.4h-1.9zM300.5 380.4h1.9v2.4h-1.9zM202.3 383.3h1.9v2.4h-1.9zM285.4 383.3h1.9v2.4h-1.9zM218.4 386.2h1.9v2.4h-1.9zM202.5 391.8h1.9v2.4h-1.9zM218.5 391.8h1.9v2.4h-1.9zM238.2 391.8h1.9v2.4h-1.9zM270.7 391.8h1.9v2.4h-1.9zM285.0 391.8h1.9v2.4h-1.9zM202.9 394.6h1.9v2.4h-1.9zM270.4 394.6h1.9v2.4h-1.9zM285.3 394.6h1.9v2.4h-1.9zM188.4 397.4h1.9v2.4h-1.9zM203.0 397.4h1.9v2.4h-1.9z" fill="#1a1af5"/>
<path d="M188.5 354.8h1.9v2.4h-1.9zM238.2 354.8h1.9v2.4h-1.9zM235.6 355.1h1.3v1.8h-1.3zM300.9 354.8h1.9v2.4h-1.9zM298.3 355.1h1.3v1.8h-1.3zM188.0 357.7h1.9v2.4h-1.9zM202.4 357.7h1.9v2.4h-1.9zM216.0 358.0h1.3v1.8h-1.3zM284.8 357.7h1.9v2.4h-1.9zM300.8 357.7h1.9v2.4h-1.9zM298.0 358.0h1.3v1.8h-1.3zM202.7 360.5h1.9v2.4h-1.9zM237.8 360.5h1.9v2.4h-1.9zM269.3 360.8h1.3v1.8h-1.3zM282.6 360.8h1.3v1.8h-1.3zM188.2 363.4h1.9v2.4h-1.9zM270.6 363.4h1.9v2.4h-1.9zM188.3 366.2h1.9v2.4h-1.9zM200.0 366.5h1.3v1.8h-1.3zM218.4 366.2h1.9v2.4h-1.9zM238.1 366.2h1.9v2.4h-1.9zM235.9 366.5h1.3v1.8h-1.3zM271.1 366.2h1.9v2.4h-1.9zM268.2 366.5h1.3v1.8h-1.3zM202.3 369.1h1.9v2.4h-1.9zM285.4 369.1h1.9v2.4h-1.9zM300.5 369.1h1.9v2.4h-1.9zM299.2 369.4h1.3v1.8h-1.3zM203.0 371.9h1.9v2.4h-1.9zM238.1 371.9h1.9v2.4h-1.9zM188.6 374.8h1.9v2.4h-1.9zM185.8 375.1h1.3v1.8h-1.3zM200.0 375.1h1.3v1.8h-1.3zM237.9 374.8h1.9v2.4h-1.9zM284.9 374.8h1.9v2.4h-1.9zM188.1 377.6h1.9v2.4h-1.9zM186.1 377.9h1.3v1.8h-1.3zM202.7 377.6h1.9v2.4h-1.9zM271.0 377.6h1.9v2.4h-1.9zM282.3 377.9h1.3v1.8h-1.3zM188.3 380.4h1.9v2.4h-1.9zM238.1 380.4h1.9v2.4h-1.9zM235.3 380.8h1.3v1.8h-1.3zM270.5 380.4h1.9v2.4h-1.9zM268.6 380.8h1.3v1.8h-1.3zM284.7 380.4h1.9v2.4h-1.9zM201.3 383.6h1.3v1.8h-1.3zM218.3 383.3h1.9v2.4h-1.9zM301.0 383.3h1.9v2.4h-1.9zM188.4 386.2h1.9v2.4h-1.9zM202.4 386.2h1.9v2.4h-1.9zM201.0 386.5h1.3v1.8h-1.3zM217.4 386.5h1.3v1.8h-1.3zM237.8 386.2h1.9v2.4h-1.9zM270.5 386.2h1.9v2.4h-1.9zM285.0 386.2h1.9v2.4h-1.9zM300.3 386.2h1.9v2.4h-1.9zM188.7 391.8h1.9v2.4h-1.9zM300.7 391.8h1.9v2.4h-1.9zM188.7 394.6h1.9v2.4h-1.9zM218.3 394.6h1.9v2.4h-1.9zM238.2 394.6h1.9v2.4h-1.9zM283.3 394.9h1.3v1.8h-1.3zM200.6 397.7h1.3v1.8h-1.3zM238.2 397.4h1.9v2.4h-1.9zM270.4 397.4h1.9v2.4h-1.9zM269.4 397.7h1.3v1.8h-1.3zM284.7 397.4h1.9v2.4h-1.9zM283.2 397.7h1.3v1.8h-1.3zM300.9 397.4h1.9v2.4h-1.9z" fill="#444" opacity="0.7"/>
<line x1="177.6" y1="403.0" x2="318.7" y2="403.3" stroke="#d0d0d0" stroke-width="1.1"/>
<path d="M175.6 404.8h4v1.4h-4zM199.1 404.8h4v1.4h-4zM222.6 404.8h4v1.4h-4zM246.1 404.8h4v1.4h-4zM269.7 404.8h4v1.4h-4zM293.2 404.8h4v1.4h-4zM316.7 404.8h4v1.4h-4z" fill="#bbb" opacity="0.8"/>
<path d="M234.7 361.2h1.3v1.8h-1.3zM206.6 361.2h1.3v1.8h-1.3zM203.7 361.2h1.3v1.8h-1.3zM213.3 361.2h1.3v1.8h-1.3zM283.9 361.2h1.3v1.8h-1.3zM213.7 361.2h1.3v1.8h-1.3zM231.9 361.2h1.3v1.8h-1.3zM273.4 361.2h1.3v1.8h-1.3zM253.3 361.2h1.3v1.8h-1.3zM308.5 361.2h1.3v1.8h-1.3zM246.5 361.2h1.3v1.8h-1.3zM237.2 361.2h1.3v1.8h-1.3zM263.6 361.2h1.3v1.8h-1.3zM208.9 361.2h1.3v1.8h-1.3zM303.5 361.2h1.3v1.8h-1.3zM230.6 361.2h1.3v1.8h-1.3zM232.6 361.2h1.3v1.8h-1.3zM273.2 361.2h1.3v1.8h-1.3zM200.0 361.2h1.3v1.8h-1.3zM270.2 361.2h1.3v1.8h-1.3zM296.3 361.2h1.3v1.8h-1.3zM225.8 361.2h1.3v1.8h-1.3zM309.7 361.2h1.3v1.8h-1.3zM252.0 361.2h1.3v1.8h-1.3zM285.9 361.2h1.3v1.8h-1.3zM243.7 361.2h1.3v1.8h-1.3zM234.6 361.2h1.3v1.8h-1.3zM216.2 361.2h1.3v1.8h-1.3zM180.1 361.2h1.3v1.8h-1.3zM207.1 361.2h1.3v1.8h-1.3zM315.6 361.2h1.3v1.8h-1.3zM252.7 361.2h1.3v1.8h-1.3zM242.8 361.2h1.3v1.8h-1.3zM303.2 361.2h1.3v1.8h-1.3z" fill="#444" opacity="0.6"/>
<rect x="218" y="367.5" width="3" height="2.4" fill="#222"/>
<path d="M67.9 559.8h3.5v2.4h-3.5zM84.7 559.8h2.6v2.4h-2.6zM119.0 559.8h2.9v2.4h-2.9zM136.7 559.8h3.1v2.4h-3.1zM32.0 562.7h3.2v2.4h-3.2zM49.2 562.7h2.4v2.4h-2.4zM67.6 562.7h3.0v2.4h-3.0zM84.8 562.7h2.6v2.4h-2.6zM100.2 562.7h2.7v2.4h-2.7zM118.7 562.7h2.9v2.4h-2.9zM136.3 562.7h3.6v2.4h-3.6zM154.0 562.7h2.5v2.4h-2.5zM31.7 565.6h3.5v2.4h-3.5zM48.9 565.6h3.2v2.4h-3.2zM67.7 565.6h2.8v2.4h-2.8zM85.1 565.6h2.7v2.4h-2.7zM100.6 565.6h2.3v2.4h-2.3zM136.1 565.6h3.2v2.4h-3.2zM153.5 565.6h2.7v2.4h-2.7zM31.7 568.6h3.4v2.4h-3.4zM49.4 568.6h2.4v2.4h-2.4zM67.3 568.6h3.5v2.4h-3.5zM84.9 568.6h3.2v2.4h-3.2zM99.8 568.6h3.3v2.4h-3.3zM119.3 568.6h2.4v2.4h-2.4zM153.6 568.6h2.6v2.4h-2.6zM32.0 571.5h3.2v2.4h-3.2zM49.3 571.5h3.2v2.4h-3.2zM67.6 571.5h2.6v2.4h-2.6zM84.3 571.5h3.5v2.4h-3.5zM100.1 571.5h2.9v2.4h-2.9zM119.1 571.5h3.6v2.4h-3.6zM136.9 571.5h2.7v2.4h-2.7zM32.2 574.4h2.3v2.4h-2.3zM48.9 574.4h3.4v2.4h-3.4zM67.4 574.4h3.6v2.4h-3.6zM84.5 574.4h3.0v2.4h-3.0zM100.2 574.4h3.2v2.4h-3.2zM118.8 574.4h2.9v2.4h-2.9zM136.3 574.4h3.5v2.4h-3.5zM154.1 574.4h2.5v2.4h-2.5zM31.6 577.3h3.4v2.4h-3.4zM49.1 577.3h3.2v2.4h-3.2zM67.7 577.3h3.5v2.4h-3.5zM99.7 577.3h3.2v2.4h-3.2zM118.6 577.3h3.2v2.4h-3.2zM136.4 577.3h2.6v2.4h-2.6zM153.1 577.3h3.6v2.4h-3.6zM32.1 580.2h3.0v2.4h-3.0zM48.6 580.2h3.4v2.4h-3.4zM67.8 580.2h3.0v2.4h-3.0zM85.0 580.2h3.2v2.4h-3.2zM100.0 580.2h3.5v2.4h-3.5zM119.4 580.2h2.4v2.4h-2.4zM136.1 580.2h3.4v2.4h-3.4zM153.7 580.2h2.4v2.4h-2.4zM48.9 583.2h3.0v2.4h-3.0zM67.7 583.2h3.2v2.4h-3.2zM100.0 583.2h3.2v2.4h-3.2zM119.0 583.2h3.6v2.4h-3.6zM135.9 583.2h3.4v2.4h-3.4zM154.0 583.2h2.9v2.4h-2.9zM31.7 586.1h3.6v2.4h-3.6zM68.0 586.1h2.4v2.4h-2.4zM85.1 586.1h2.4v2.4h-2.4zM118.8 586.1h2.8v2.4h-2.8zM136.6 586.1h3.0v2.4h-3.0zM153.4 586.1h3.1v2.4h-3.1zM31.8 589.0h3.5v2.4h-3.5zM49.7 589.0h2.6v2.4h-2.6zM84.9 589.0h2.4v2.4h-2.4zM100.4 589.0h2.8v2.4h-2.8zM136.6 589.0h2.7v2.4h-2.7zM153.6 589.0h3.6v2.4h-3.6zM31.8 591.9h3.0v2.4h-3.0zM48.9 591.9h3.1v2.4h-3.1zM67.7 591.9h3.0v2.4h-3.0zM100.3 591.9h2.8v2.4h-2.8zM136.6 591.9h2.7v2.4h-2.7zM154.3 591.9h2.3v2.4h-2.3zM32.1 594.8h3.1v2.4h-3.1zM49.9 594.8h2.4v2.4h-2.4zM84.7 594.8h2.3v2.4h-2.3zM100.5 594.8h2.9v2.4h-2.9zM118.9 594.8h3.7v2.4h-3.7zM153.8 594.8h2.4v2.4h-2.4zM32.1 597.8h3.1v2.4h-3.1zM67.1 597.8h3.5v2.4h-3.5zM85.2 597.8h2.8v2.4h-2.8zM99.9 597.8h3.1v2.4h-3.1zM119.1 597.8h2.4v2.4h-2.4zM136.4 597.8h3.5v2.4h-3.5zM153.8 597.8h2.9v2.4h-2.9zM32.0 600.7h2.5v2.4h-2.5zM49.5 600.7h2.3v2.4h-2.3zM84.7 600.7h3.6v2.4h-3.6zM100.4 600.7h2.6v2.4h-2.6zM118.6 600.7h3.5v2.4h-3.5zM136.5 600.7h3.2v2.4h-3.2zM154.3 600.7h2.5v2.4h-2.5zM31.9 603.6h3.5v2.4h-3.5zM49.8 603.6h2.6v2.4h-2.6zM67.9 603.6h3.1v2.4h-3.1zM84.1 603.6h3.5v2.4h-3.5zM119.5 603.6h2.3v2.4h-2.3zM153.7 603.6h2.4v2.4h-2.4z" fill="#1a1af5"/>
<path d="M48.8 559.8h3.3v2.4h-3.3zM45.8 560.1h1.3v1.8h-1.3zM99.7 559.8h3.4v2.4h-3.4zM153.4 559.8h3.7v2.4h-3.7zM151.8 560.1h1.3v1.8h-1.3zM49.9 560.1h1.2v1.8h-1.2zM64.2 563.0h1.3v1.8h-1.3zM133.0 563.0h1.3v1.8h-1.3zM32.7 563.0h1.2v1.8h-1.2zM46.9 565.9h1.3v1.8h-1.3zM119.1 565.6h2.4v2.4h-2.4zM123.9 565.9h1.2v1.8h-1.2zM64.5 568.9h1.3v1.8h-1.3zM116.0 568.9h1.3v1.8h-1.3zM136.8 568.6h2.7v2.4h-2.7zM35.0 568.9h1.2v1.8h-1.2zM65.3 571.8h1.3v1.8h-1.3zM108.4 571.8h1.2v1.8h-1.2zM150.2 574.7h1.3v1.8h-1.3zM159.4 574.7h1.2v1.8h-1.2zM97.2 577.6h1.3v1.8h-1.3zM134.3 577.6h1.3v1.8h-1.3zM153.3 577.6h1.2v1.8h-1.2zM46.9 580.5h1.3v1.8h-1.3zM81.4 580.5h1.3v1.8h-1.3zM96.7 580.5h1.3v1.8h-1.3zM144.5 580.5h1.2v1.8h-1.2zM84.9 583.2h3.3v2.4h-3.3zM132.9 583.5h1.3v1.8h-1.3zM110.1 583.5h1.2v1.8h-1.2zM49.8 586.1h2.5v2.4h-2.5zM46.9 586.4h1.3v1.8h-1.3zM65.1 586.4h1.3v1.8h-1.3zM115.7 586.4h1.3v1.8h-1.3zM85.5 586.4h1.2v1.8h-1.2zM47.5 589.3h1.3v1.8h-1.3zM118.6 589.0h3.3v2.4h-3.3zM131.8 589.3h1.2v1.8h-1.2zM46.8 592.2h1.3v1.8h-1.3zM118.8 591.9h2.6v2.4h-2.6zM115.9 592.2h1.3v1.8h-1.3zM44.7 592.2h1.2v1.8h-1.2zM68.0 594.8h3.0v2.4h-3.0zM96.6 595.1h1.3v1.8h-1.3zM136.6 594.8h2.3v2.4h-2.3zM133.3 595.1h1.3v1.8h-1.3zM144.0 595.1h1.2v1.8h-1.2zM49.6 597.8h2.5v2.4h-2.5zM115.2 598.1h1.2v1.8h-1.2zM67.6 600.7h3.2v2.4h-3.2zM65.3 601.0h1.3v1.8h-1.3zM69.2 601.0h1.2v1.8h-1.2zM45.9 603.9h1.3v1.8h-1.3zM65.8 603.9h1.3v1.8h-1.3zM100.4 603.6h2.9v2.4h-2.9zM136.0 603.6h3.4v2.4h-3.4zM111.6 603.9h1.2v1.8h-1.2z" fill="#444" opacity="0.7"/>
<line x1="24.7" y1="608.6" x2="166.5" y2="608.9" stroke="#d0d0d0" stroke-width="1.1"/>
<path d="M22.7 610.4h4v1.4h-4zM46.3 610.4h4v1.4h-4zM70.0 610.4h4v1.4h-4zM93.6 610.4h4v1.4h-4zM117.2 610.4h4v1.4h-4zM140.9 610.4h4v1.4h-4zM164.5 610.4h4v1.4h-4z" fill="#bbb" opacity="0.8"/>
<path d="M187.1 559.8h2.0v2.4h-2.0zM192.8 559.8h1.9v2.4h-1.9zM200.0 559.8h1.9v2.4h-1.9zM214.9 559.8h2.4v2.4h-2.4zM222.3 559.8h1.9v2.4h-1.9zM230.0 559.8h1.9v2.4h-1.9zM243.3 559.8h1.9v2.4h-1.9zM252.0 559.8h2.2v2.4h-2.2zM258.3 559.8h2.4v2.4h-2.4zM265.1 559.8h2.0v2.4h-2.0zM273.6 559.8h2.1v2.4h-2.1zM282.3 559.8h2.5v2.4h-2.5zM289.7 559.8h1.9v2.4h-1.9zM305.7 559.8h2.2v2.4h-2.2zM312.2 559.8h1.9v2.4h-1.9zM318.5 559.8h1.9v2.4h-1.9zM187.0 562.7h1.9v2.4h-1.9zM192.4 562.7h1.9v2.4h-1.9zM206.7 562.7h1.9v2.4h-1.9zM222.1 562.7h2.0v2.4h-2.0zM230.4 562.7h1.9v2.4h-1.9zM237.3 562.7h2.0v2.4h-2.0zM243.6 562.7h2.2v2.4h-2.2zM251.9 562.7h2.3v2.4h-2.3zM258.3 562.7h2.2v2.4h-2.2zM265.2 562.7h2.2v2.4h-2.2zM272.9 562.7h2.4v2.4h-2.4zM297.8 562.7h2.3v2.4h-2.3zM186.7 565.6h2.5v2.4h-2.5zM192.3 565.6h1.9v2.4h-1.9zM199.6 565.6h2.3v2.4h-2.3zM206.9 565.6h1.9v2.4h-1.9zM214.7 565.6h1.9v2.4h-1.9zM222.4 565.6h2.3v2.4h-2.3zM230.4 565.6h1.9v2.4h-1.9zM236.7 565.6h2.5v2.4h-2.5zM273.3 565.6h2.4v2.4h-2.4zM282.3 565.6h2.1v2.4h-2.1zM289.9 565.6h2.1v2.4h-2.1zM318.8 565.6h2.2v2.4h-2.2zM199.5 568.6h1.9v2.4h-1.9zM237.0 568.6h1.9v2.4h-1.9zM243.3 568.6h1.9v2.4h-1.9zM251.6 568.6h1.9v2.4h-1.9zM258.4 568.6h2.0v2.4h-2.0zM265.5 568.6h1.9v2.4h-1.9zM273.3 568.6h1.9v2.4h-1.9zM318.6 568.6h2.3v2.4h-2.3zM187.6 571.5h1.9v2.4h-1.9zM192.7 571.5h2.1v2.4h-2.1zM200.2 571.5h1.9v2.4h-1.9zM207.0 571.5h2.0v2.4h-2.0zM243.8 571.5h2.0v2.4h-2.0zM251.6 571.5h1.9v2.4h-1.9zM265.2 571.5h1.9v2.4h-1.9zM273.7 571.5h2.3v2.4h-2.3zM282.5 571.5h1.9v2.4h-1.9zM312.8 571.5h2.1v2.4h-2.1zM318.5 571.5h2.1v2.4h-2.1zM199.8 574.4h2.5v2.4h-2.5zM206.7 574.4h1.9v2.4h-1.9zM214.6 574.4h2.1v2.4h-2.1zM222.3 574.4h2.5v2.4h-2.5zM229.7 574.4h1.9v2.4h-1.9zM243.2 574.4h2.2v2.4h-2.2zM252.0 574.4h1.9v2.4h-1.9zM289.8 574.4h2.3v2.4h-2.3zM298.3 574.4h1.9v2.4h-1.9zM318.6 574.4h1.9v2.4h-1.9zM192.8 577.3h2.2v2.4h-2.2zM200.0 577.3h1.9v2.4h-1.9zM215.2 577.3h1.9v2.4h-1.9zM230.3 577.3h2.1v2.4h-2.1zM237.5 577.3h2.0v2.4h-2.0zM243.8 577.3h1.9v2.4h-1.9zM258.1 577.3h2.5v2.4h-2.5zM265.9 577.3h2.0v2.4h-2.0zM273.8 577.3h1.9v2.4h-1.9zM282.4 577.3h1.9v2.4h-1.9zM289.9 577.3h1.9v2.4h-1.9zM305.6 577.3h1.9v2.4h-1.9zM318.2 577.3h2.2v2.4h-2.2zM187.6 580.2h1.9v2.4h-1.9zM192.5 580.2h1.9v2.4h-1.9zM199.3 580.2h2.3v2.4h-2.3zM214.8 580.2h1.9v2.4h-1.9zM222.8 580.2h1.9v2.4h-1.9zM230.3 580.2h1.9v2.4h-1.9zM236.9 580.2h1.9v2.4h-1.9zM243.2 580.2h1.9v2.4h-1.9zM251.9 580.2h2.5v2.4h-2.5zM258.2 580.2h1.9v2.4h-1.9zM265.7 580.2h2.1v2.4h-2.1zM273.4 580.2h1.9v2.4h-1.9zM281.8 580.2h2.3v2.4h-2.3zM289.7 580.2h2.2v2.4h-2.2zM298.1 580.2h2.2v2.4h-2.2zM312.6 580.2h1.9v2.4h-1.9zM318.4 580.2h2.4v2.4h-2.4zM187.0 583.2h1.9v2.4h-1.9zM199.8 583.2h2.1v2.4h-2.1zM207.3 583.2h1.9v2.4h-1.9zM230.3 583.2h2.0v2.4h-2.0zM243.6 583.2h1.9v2.4h-1.9zM251.8 583.2h2.3v2.4h-2.3zM265.9 583.2h1.9v2.4h-1.9zM273.3 583.2h2.0v2.4h-2.0zM297.9 583.2h2.2v2.4h-2.2zM312.6 583.2h1.9v2.4h-1.9zM192.8 586.1h1.9v2.4h-1.9zM207.2 586.1h2.1v2.4h-2.1zM214.7 586.1h2.5v2.4h-2.5zM222.3 586.1h2.4v2.4h-2.4zM237.5 586.1h2.1v2.4h-2.1zM258.6 586.1h1.9v2.4h-1.9zM265.9 586.1h1.9v2.4h-1.9zM273.4 586.1h1.9v2.4h-1.9zM281.7 586.1h2.5v2.4h-2.5zM289.7 586.1h2.3v2.4h-2.3zM297.9 586.1h2.2v2.4h-2.2zM305.4 586.1h1.9v2.4h-1.9zM312.0 586.1h2.5v2.4h-2.5zM187.1 589.0h2.1v2.4h-2.1zM192.8 589.0h2.3v2.4h-2.3zM199.9 589.0h2.0v2.4h-2.0zM214.7 589.0h1.9v2.4h-1.9zM229.7 589.0h1.9v2.4h-1.9zM237.1 589.0h2.5v2.4h-2.5zM243.0 589.0h2.5v2.4h-2.5zM251.9 589.0h1.9v2.4h-1.9zM258.0 589.0h2.4v2.4h-2.4zM265.9 589.0h1.9v2.4h-1.9zM273.7 589.0h2.1v2.4h-2.1zM282.2 589.0h1.9v2.4h-1.9zM290.0 589.0h2.0v2.4h-2.0zM187.4 591.9h1.9v2.4h-1.9zM192.4 591.9h1.9v2.4h-1.9zM206.8 591.9h2.1v2.4h-2.1zM222.5 591.9h2.5v2.4h-2.5zM230.4 591.9h1.9v2.4h-1.9zM237.0 591.9h1.9v2.4h-1.9zM243.8 591.9h1.9v2.4h-1.9zM252.2 591.9h2.1v2.4h-2.1zM265.6 591.9h1.9v2.4h-1.9zM273.8 591.9h1.9v2.4h-1.9zM282.3 591.9h1.9v2.4h-1.9zM290.1 591.9h2.0v2.4h-2.0zM297.6 591.9h2.2v2.4h-2.2zM192.8 594.8h2.2v2.4h-2.2zM199.5 594.8h1.9v2.4h-1.9zM206.6 594.8h1.9v2.4h-1.9zM215.0 594.8h1.9v2.4h-1.9zM251.8 594.8h1.9v2.4h-1.9zM265.3 594.8h2.3v2.4h-2.3zM272.9 594.8h2.5v2.4h-2.5zM297.8 594.8h2.5v2.4h-2.5zM186.8 597.8h2.2v2.4h-2.2zM199.9 597.8h2.5v2.4h-2.5zM207.0 597.8h2.5v2.4h-2.5zM215.3 597.8h1.9v2.4h-1.9zM229.9 597.8h2.5v2.4h-2.5zM251.8 597.8h2.4v2.4h-2.4zM258.2 597.8h2.4v2.4h-2.4zM265.9 597.8h1.9v2.4h-1.9zM273.6 597.8h2.0v2.4h-2.0zM290.0 597.8h1.9v2.4h-1.9zM305.2 597.8h2.5v2.4h-2.5zM187.5 600.7h2.0v2.4h-2.0zM192.8 600.7h2.2v2.4h-2.2zM199.9 600.7h2.5v2.4h-2.5zM214.6 600.7h1.9v2.4h-1.9zM222.6 600.7h2.1v2.4h-2.1zM230.2 600.7h1.9v2.4h-1.9zM252.0 600.7h2.0v2.4h-2.0zM258.8 600.7h1.9v2.4h-1.9zM265.8 600.7h1.9v2.4h-1.9zM273.2 600.7h1.9v2.4h-1.9zM282.6 600.7h2.2v2.4h-2.2zM305.4 600.7h1.9v2.4h-1.9zM187.2 603.6h2.3v2.4h-2.3zM192.6 603.6h2.1v2.4h-2.1zM200.2 603.6h1.9v2.4h-1.9zM207.0 603.6h2.2v2.4h-2.2zM215.1 603.6h1.9v2.4h-1.9zM222.2 603.6h1.9v2.4h-1.9zM237.3 603.6h2.3v2.4h-2.3zM273.7 603.6h1.9v2.4h-1.9zM305.2 603.6h2.5v2.4h-2.5zM312.0 603.6h2.5v2.4h-2.5zM318.9 603.6h1.9v2.4h-1.9z" fill="#1a1af5"/>
<path d="M212.4 560.1h1.3v1.8h-1.3zM237.6 559.8h1.9v2.4h-1.9zM263.1 560.1h1.3v1.8h-1.3zM287.1 560.1h1.3v1.8h-1.3zM302.6 560.1h1.3v1.8h-1.3zM283.8 560.1h1.2v1.8h-1.2zM246.6 560.1h1.2v1.8h-1.2zM190.8 563.0h1.3v1.8h-1.3zM199.4 562.7h2.4v2.4h-2.4zM256.0 563.0h1.3v1.8h-1.3zM270.0 563.0h1.3v1.8h-1.3zM282.4 562.7h1.9v2.4h-1.9zM290.1 562.7h2.2v2.4h-2.2zM305.6 562.7h2.2v2.4h-2.2zM303.9 563.0h1.3v1.8h-1.3zM318.5 562.7h2.5v2.4h-2.5zM316.5 563.0h1.3v1.8h-1.3zM267.6 563.0h1.2v1.8h-1.2zM287.6 563.0h1.2v1.8h-1.2zM189.6 565.9h1.3v1.8h-1.3zM196.5 565.9h1.3v1.8h-1.3zM234.8 565.9h1.3v1.8h-1.3zM251.4 565.6h2.5v2.4h-2.5zM248.5 565.9h1.3v1.8h-1.3zM258.5 565.6h2.1v2.4h-2.1zM279.8 565.9h1.3v1.8h-1.3zM305.4 565.6h1.9v2.4h-1.9zM312.8 565.6h1.9v2.4h-1.9zM316.7 565.9h1.3v1.8h-1.3zM305.6 565.9h1.2v1.8h-1.2zM238.5 565.9h1.2v1.8h-1.2zM192.2 568.6h2.4v2.4h-2.4zM222.5 568.6h2.3v2.4h-2.3zM241.7 568.9h1.3v1.8h-1.3zM256.4 568.9h1.3v1.8h-1.3zM298.1 568.6h2.2v2.4h-2.2zM305.4 568.6h1.9v2.4h-1.9zM246.4 568.9h1.2v1.8h-1.2zM257.3 568.9h1.2v1.8h-1.2zM190.9 571.8h1.3v1.8h-1.3zM196.5 571.8h1.3v1.8h-1.3zM204.5 571.8h1.3v1.8h-1.3zM215.0 571.5h2.5v2.4h-2.5zM212.0 571.8h1.3v1.8h-1.3zM222.3 571.5h1.9v2.4h-1.9zM230.1 571.5h1.9v2.4h-1.9zM227.9 571.8h1.3v1.8h-1.3zM249.8 571.8h1.3v1.8h-1.3zM263.4 571.8h1.3v1.8h-1.3zM290.0 571.5h2.5v2.4h-2.5zM305.3 571.5h1.9v2.4h-1.9zM310.5 571.8h1.3v1.8h-1.3zM222.8 571.8h1.2v1.8h-1.2zM196.3 571.8h1.2v1.8h-1.2zM192.3 574.4h2.3v2.4h-2.3zM198.0 574.7h1.3v1.8h-1.3zM220.3 574.7h1.3v1.8h-1.3zM237.6 574.4h1.9v2.4h-1.9zM240.7 574.7h1.3v1.8h-1.3zM273.5 574.4h2.1v2.4h-2.1zM282.2 574.4h1.9v2.4h-1.9zM295.4 574.7h1.3v1.8h-1.3zM312.6 574.4h1.9v2.4h-1.9zM255.6 574.7h1.2v1.8h-1.2zM204.9 574.7h1.2v1.8h-1.2zM254.9 577.6h1.3v1.8h-1.3zM263.2 577.6h1.3v1.8h-1.3zM286.6 577.6h1.3v1.8h-1.3zM312.3 577.3h1.9v2.4h-1.9zM260.9 577.6h1.2v1.8h-1.2zM225.1 577.6h1.2v1.8h-1.2zM196.7 580.5h1.3v1.8h-1.3zM220.6 580.5h1.3v1.8h-1.3zM228.1 580.5h1.3v1.8h-1.3zM262.3 580.5h1.3v1.8h-1.3zM271.9 580.5h1.3v1.8h-1.3zM279.1 580.5h1.3v1.8h-1.3zM198.0 580.5h1.2v1.8h-1.2zM247.2 580.5h1.2v1.8h-1.2zM192.6 583.2h1.9v2.4h-1.9zM222.8 583.2h1.9v2.4h-1.9zM289.6 583.2h2.2v2.4h-2.2zM287.9 583.5h1.3v1.8h-1.3zM217.3 583.5h1.2v1.8h-1.2zM304.7 583.5h1.2v1.8h-1.2zM187.5 586.1h2.3v2.4h-2.3zM199.8 586.1h2.4v2.4h-2.4zM233.9 586.4h1.3v1.8h-1.3zM255.9 586.4h1.3v1.8h-1.3zM318.5 586.1h2.3v2.4h-2.3zM225.1 586.4h1.2v1.8h-1.2zM284.6 586.4h1.2v1.8h-1.2zM207.3 589.0h1.9v2.4h-1.9zM204.2 589.3h1.3v1.8h-1.3zM211.5 589.3h1.3v1.8h-1.3zM241.1 589.3h1.3v1.8h-1.3zM262.3 589.3h1.3v1.8h-1.3zM312.7 589.0h2.0v2.4h-2.0zM310.1 589.3h1.3v1.8h-1.3zM287.0 589.3h1.2v1.8h-1.2zM273.1 589.3h1.2v1.8h-1.2zM185.3 592.2h1.3v1.8h-1.3zM215.1 591.9h2.3v2.4h-2.3zM288.1 592.2h1.3v1.8h-1.3zM294.7 592.2h1.3v1.8h-1.3zM196.3 592.2h1.2v1.8h-1.2zM244.4 592.2h1.2v1.8h-1.2zM187.3 594.8h1.9v2.4h-1.9zM189.5 595.1h1.3v1.8h-1.3zM203.8 595.1h1.3v1.8h-1.3zM222.6 594.8h2.5v2.4h-2.5zM220.4 595.1h1.3v1.8h-1.3zM258.5 594.8h2.1v2.4h-2.1zM289.8 594.8h1.9v2.4h-1.9zM305.1 594.8h2.4v2.4h-2.4zM312.2 594.8h1.9v2.4h-1.9zM268.0 595.1h1.2v1.8h-1.2zM188.4 595.1h1.2v1.8h-1.2zM222.8 597.8h2.2v2.4h-2.2zM219.5 598.1h1.3v1.8h-1.3zM237.3 597.8h2.0v2.4h-2.0zM255.0 598.1h1.3v1.8h-1.3zM282.3 597.8h2.0v2.4h-2.0zM312.7 597.8h1.9v2.4h-1.9zM281.5 598.1h1.2v1.8h-1.2zM221.1 598.1h1.2v1.8h-1.2zM207.3 600.7h1.9v2.4h-1.9zM226.5 601.0h1.3v1.8h-1.3zM280.6 601.0h1.3v1.8h-1.3zM289.8 600.7h1.9v2.4h-1.9zM298.0 600.7h1.9v2.4h-1.9zM302.4 601.0h1.3v1.8h-1.3zM312.3 600.7h1.9v2.4h-1.9zM318.9 600.7h1.9v2.4h-1.9zM295.0 601.0h1.2v1.8h-1.2zM292.4 601.0h1.2v1.8h-1.2zM211.9 603.9h1.3v1.8h-1.3zM230.3 603.6h1.9v2.4h-1.9zM243.1 603.6h2.4v2.4h-2.4zM252.0 603.6h2.4v2.4h-2.4zM298.4 603.6h1.9v2.4h-1.9zM210.7 603.9h1.2v1.8h-1.2zM312.9 603.9h1.2v1.8h-1.2z" fill="#444" opacity="0.7"/>
<line x1="182.6" y1="608.0" x2="322.0" y2="608.3" stroke="#d0d0d0" stroke-width="1.1"/>
<path d="M180.6 609.8h4v1.4h-4zM203.8 609.8h4v1.4h-4zM227.1 609.8h4v1.4h-4zM250.3 609.8h4v1.4h-4zM273.5 609.8h4v1.4h-4zM296.8 609.8h4v1.4h-4zM320.0 609.8h4v1.4h-4z" fill="#bbb" opacity="0.8"/>
<path d="M231.5 583.5h3.1v2h-2zM230.9 583.5h1.1v2h-2zM247.4 583.5h2.8v2h-2zM275.3 583.5h1.2v2h-2zM250.6 583.5h1.5v2h-2zM187.7 583.5h3.4v2h-2zM278.9 583.5h1.9v2h-2zM288.5 583.5h3.0v2h-2zM184.0 583.5h2.0v2h-2zM224.4 583.5h1.1v2h-2zM284.4 583.5h3.2v2h-2zM249.0 583.5h3.1v2h-2zM256.5 583.5h2.0v2h-2zM260.5 583.5h3.0v2h-2zM219.5 583.5h2.3v2h-2zM200.0 583.5h2.4v2h-2zM277.0 583.5h2.0v2h-2zM197.0 583.5h3.2v2h-2zM288.0 583.5h3.1v2h-2zM204.5 583.5h3.5v2h-2zM250.2 583.5h1.4v2h-2zM223.2 583.5h1.2v2h-2zM292.9 583.5h3.4v2h-2zM306.8 583.5h2.8v2h-2zM254.9 583.5h1.9v2h-2zM273.3 583.5h1.0v2h-2zM191.3 583.5h2.3v2h-2zM227.6 583.5h3.5v2h-2zM276.5 583.5h1.1v2h-2zM265.6 583.5h1.1v2h-2zM313.5 583.5h2.7v2h-2zM289.4 583.5h1.9v2h-2zM187.4 583.5h2.8v2h-2zM276.0 583.5h1.8v2h-2zM211.0 583.5h3.1v2h-2zM227.9 583.5h2.7v2h-2zM303.8 583.5h2.7v2h-2zM199.7 583.5h3.1v2h-2zM315.4 583.5h3.2v2h-2zM275.2 583.5h1.2v2h-2zM195.0 583.5h2.9v2h-2zM198.6 583.5h3.2v2h-2zM213.2 583.5h2.1v2h-2zM212.9 583.5h2.7v2h-2zM273.4 583.5h1.7v2h-2zM249.0 583.5h2.2v2h-2zM270.3 583.5h3.3v2h-2zM240.8 583.5h1.1v2h-2zM307.9 583.5h2.8v2h-2zM206.6 583.5h2.7v2h-2zM189.5 583.5h3.5v2h-2zM218.0 583.5h2.9v2h-2zM231.7 583.5h2.5v2h-2zM258.1 583.5h3.4v2h-2zM247.5 583.5h3.1v2h-2zM251.4 583.5h1.9v2h-2zM294.2 583.5h1.3v2h-2zM207.3 583.5h1.8v2h-2zM252.8 583.5h2.4v2h-2zM209.3 583.5h1.0v2h-2z" fill="#222" opacity="0.7"/>
<path d="M293.3 560h1.6v2.3h-2zM297.0 560h3.4v2.3h-2zM310.9 560h1.7v2.3h-2zM301.1 560h2.2v2.3h-2zM309.7 560h2.7v2.3h-2zM289.8 560h2.1v2.3h-2zM277.5 560h2.8v2.3h-2zM281.8 560h2.8v2.3h-2zM317.7 560h2.2v2.3h-2zM303.2 560h2.9v2.3h-2zM296.5 560h3.5v2.3h-2zM271.0 560h2.4v2.3h-2zM277.7 560h3.2v2.3h-2zM305.1 560h3.0v2.3h-2zM296.6 560h1.5v2.3h-2zM273.6 560h2.3v2.3h-2zM316.8 560h1.7v2.3h-2zM279.0 560h3.4v2.3h-2zM292.8 560h2.8v2.3h-2zM304.9 560h3.3v2.3h-2zM309.4 560h3.3v2.3h-2zM287.8 560h3.5v2.3h-2zM313.8 560h2.3v2.3h-2zM280.5 560h1.8v2.3h-2zM277.4 560h2.1v2.3h-2zM278.9 560h2.4v2.3h-2zM289.8 560h2.9v2.3h-2zM305.5 560h1.7v2.3h-2zM273.5 560h2.7v2.3h-2zM303.3 560h3.2v2.3h-2z" fill="#1a1af5"/>
<path d="M25.0 761.8h140.0v1.8h-140.0zM36.7 761.6h2.0v2.2h-2.0zM83.5 761.6h2.1v2.2h-2.1zM87.4 761.6h3.2v2.2h-3.2zM98.3 761.6h4.6v2.2h-4.6zM118.2 761.6h4.8v2.2h-4.8zM130.2 761.6h4.7v2.2h-4.7zM152.0 761.6h3.9v2.2h-3.9zM26.0 765.5h1.1v1.6h-1.1zM26.0 767.2h1.1v1.6h-1.1zM26.0 768.9h1.1v1.6h-1.1zM25.5 781.4h2v1.8h-2zM25.5 785.4h2v1.8h-2zM25.5 787.3h2v1.8h-2zM27.5 781.6h5.0v1.6h-5.0zM31.2 765.5h1.1v1.6h-1.1zM31.2 767.2h1.1v1.6h-1.1zM30.7 778.1h2v1.8h-2zM30.7 781.4h2v1.8h-2zM35.8 765.5h1.1v1.6h-1.1zM35.8 767.2h1.1v1.6h-1.1zM35.3 781.4h2v1.8h-2zM41.5 765.5h1.1v1.6h-1.1zM41.5 772.7h1.1v1.6h-1.1zM41.0 787.3h2v1.8h-2zM43.0 781.6h3.6v1.6h-3.6zM45.7 765.5h1.1v1.6h-1.1zM45.7 774.4h1.1v1.6h-1.1zM45.2 781.4h2v1.8h-2zM45.2 787.3h2v1.8h-2zM47.2 781.6h3.0v1.6h-3.0zM50.1 767.2h1.1v1.6h-1.1zM50.1 772.7h1.1v1.6h-1.1zM50.1 774.4h1.1v1.6h-1.1zM54.2 765.5h1.1v1.6h-1.1zM54.2 767.2h1.1v1.6h-1.1zM54.2 772.7h1.1v1.6h-1.1zM53.7 781.4h2v1.8h-2zM58.7 767.2h1.1v1.6h-1.1zM58.7 774.4h1.1v1.6h-1.1zM58.2 778.1h2v1.8h-2zM60.2 781.6h2.0v1.6h-2.0zM62.7 767.2h1.1v1.6h-1.1zM62.7 772.7h1.1v1.6h-1.1zM62.7 774.4h1.1v1.6h-1.1zM62.2 778.1h2v1.8h-2zM62.2 785.4h2v1.8h-2zM68.2 767.2h1.1v1.6h-1.1zM68.2 768.9h1.1v1.6h-1.1zM69.7 781.6h2.8v1.6h-2.8zM72.1 765.5h1.1v1.6h-1.1zM72.1 768.9h1.1v1.6h-1.1zM72.1 772.7h1.1v1.6h-1.1zM72.1 774.4h1.1v1.6h-1.1zM77.2 765.5h1.1v1.6h-1.1zM77.2 767.2h1.1v1.6h-1.1zM77.2 768.9h1.1v1.6h-1.1zM76.7 785.4h2v1.8h-2zM81.9 765.5h1.1v1.6h-1.1zM81.9 768.9h1.1v1.6h-1.1zM81.4 783.5h2v1.8h-2zM87.3 768.9h1.1v1.6h-1.1zM88.8 781.6h2.3v1.6h-2.3zM91.6 767.2h1.1v1.6h-1.1zM91.6 768.9h1.1v1.6h-1.1zM91.6 772.7h1.1v1.6h-1.1zM91.6 774.4h1.1v1.6h-1.1zM91.1 781.4h2v1.8h-2zM91.1 783.5h2v1.8h-2zM91.1 787.3h2v1.8h-2zM93.1 781.6h3.8v1.6h-3.8zM97.1 768.9h1.1v1.6h-1.1zM97.1 772.7h1.1v1.6h-1.1zM101.1 765.5h1.1v1.6h-1.1zM101.1 772.7h1.1v1.6h-1.1zM101.1 774.4h1.1v1.6h-1.1zM102.6 781.6h5.0v1.6h-5.0zM105.1 765.5h1.1v1.6h-1.1zM105.1 768.9h1.1v1.6h-1.1zM105.1 774.4h1.1v1.6h-1.1zM104.6 785.4h2v1.8h-2zM106.6 781.6h4.3v1.6h-4.3zM110.5 765.5h1.1v1.6h-1.1zM110.5 768.9h1.1v1.6h-1.1zM110.0 778.1h2v1.8h-2zM115.3 765.5h1.1v1.6h-1.1zM115.3 767.2h1.1v1.6h-1.1zM115.3 768.9h1.1v1.6h-1.1zM115.3 772.7h1.1v1.6h-1.1zM114.8 781.4h2v1.8h-2zM116.8 781.6h2.4v1.6h-2.4zM119.9 778.1h2v1.8h-2zM119.9 787.3h2v1.8h-2zM121.9 781.6h2.4v1.6h-2.4zM124.2 765.5h1.1v1.6h-1.1zM124.2 767.2h1.1v1.6h-1.1zM124.2 774.4h1.1v1.6h-1.1zM123.7 783.5h2v1.8h-2zM129.5 767.2h1.1v1.6h-1.1zM129.0 778.1h2v1.8h-2zM134.6 767.2h1.1v1.6h-1.1zM134.6 768.9h1.1v1.6h-1.1zM134.6 772.7h1.1v1.6h-1.1zM134.1 778.1h2v1.8h-2zM134.1 781.4h2v1.8h-2zM139.7 765.5h1.1v1.6h-1.1zM139.7 768.9h1.1v1.6h-1.1zM139.7 772.7h1.1v1.6h-1.1zM139.7 774.4h1.1v1.6h-1.1zM139.2 781.4h2v1.8h-2zM141.2 781.6h4.4v1.6h-4.4zM143.9 765.5h1.1v1.6h-1.1zM143.9 768.9h1.1v1.6h-1.1zM143.9 772.7h1.1v1.6h-1.1zM143.9 774.4h1.1v1.6h-1.1zM143.4 787.3h2v1.8h-2zM147.7 767.2h1.1v1.6h-1.1zM147.7 774.4h1.1v1.6h-1.1zM147.2 778.1h2v1.8h-2zM147.2 787.3h2v1.8h-2zM149.2 781.6h3.7v1.6h-3.7zM152.2 765.5h1.1v1.6h-1.1zM152.2 768.9h1.1v1.6h-1.1zM152.2 772.7h1.1v1.6h-1.1zM157.1 767.2h1.1v1.6h-1.1zM157.1 772.7h1.1v1.6h-1.1zM156.6 778.1h2v1.8h-2zM156.6 781.4h2v1.8h-2zM156.6 785.4h2v1.8h-2zM161.0 767.2h1.1v1.6h-1.1zM161.0 768.9h1.1v1.6h-1.1zM161.0 772.7h1.1v1.6h-1.1zM161.0 774.4h1.1v1.6h-1.1zM160.5 785.4h2v1.8h-2zM162.5 781.6h3.3v1.6h-3.3z" fill="#555" opacity="0.55"/>
<path d="M33.4 761.6h1.1v2.2h-1.1zM41.2 761.6h4.8v2.2h-4.8zM67.9 761.6h1.1v2.2h-1.1zM69.1 761.6h4.0v2.2h-4.0zM92.6 761.6h4.7v2.2h-4.7zM102.9 761.6h4.0v2.2h-4.0zM123.6 761.6h2.0v2.2h-2.0zM141.0 761.6h2.6v2.2h-2.6zM143.9 761.6h3.5v2.2h-3.5zM149.0 761.6h2.1v2.2h-2.1zM163.5 761.6h4.0v2.2h-4.0zM25.3 772.4h2.4v2.2h-2.4zM25.2 778.0h2.6v2h-2.6zM30.5 772.4h2.4v2.2h-2.4zM30.4 783.4h2.6v2h-2.6zM30.4 785.3h2.6v2h-2.6zM30.4 787.2h2.6v2h-2.6zM35.3 767.8h2v2h-2zM35.0 778.0h2.6v2h-2.6zM35.0 783.4h2.6v2h-2.6zM35.0 785.3h2.6v2h-2.6zM41.0 768.9h2v2h-2zM40.7 783.4h2.6v2h-2.6zM40.7 785.3h2.6v2h-2.6zM45.0 772.4h2.4v2.2h-2.4zM44.9 778.0h2.6v2h-2.6zM44.9 785.3h2.6v2h-2.6zM49.4 772.4h2.4v2.2h-2.4zM49.3 778.0h2.6v2h-2.6zM49.3 781.3h2.6v2h-2.6zM49.3 783.4h2.6v2h-2.6zM49.3 785.3h2.6v2h-2.6zM53.7 768.7h2v2h-2zM53.4 778.0h2.6v2h-2.6zM53.4 783.4h2.6v2h-2.6zM58.0 772.4h2.4v2.2h-2.4zM57.9 783.4h2.6v2h-2.6zM57.9 785.3h2.6v2h-2.6zM57.9 787.2h2.6v2h-2.6zM62.2 768.0h2v2h-2zM61.9 781.3h2.6v2h-2.6zM61.9 787.2h2.6v2h-2.6zM67.4 781.3h2.6v2h-2.6zM67.4 783.4h2.6v2h-2.6zM71.6 769.0h2v2h-2zM71.3 778.0h2.6v2h-2.6zM71.3 781.3h2.6v2h-2.6zM71.3 783.4h2.6v2h-2.6zM71.3 785.3h2.6v2h-2.6zM76.5 772.4h2.4v2.2h-2.4zM76.4 778.0h2.6v2h-2.6zM76.4 781.3h2.6v2h-2.6zM76.4 783.4h2.6v2h-2.6zM81.2 772.4h2.4v2.2h-2.4zM81.1 778.0h2.6v2h-2.6zM81.1 785.3h2.6v2h-2.6zM86.8 767.1h2v2h-2zM86.5 778.0h2.6v2h-2.6zM86.5 781.3h2.6v2h-2.6zM86.5 783.4h2.6v2h-2.6zM86.5 785.3h2.6v2h-2.6zM86.5 787.2h2.6v2h-2.6zM90.8 778.0h2.6v2h-2.6zM96.4 772.4h2.4v2.2h-2.4zM96.3 778.0h2.6v2h-2.6zM96.3 783.4h2.6v2h-2.6zM96.3 787.2h2.6v2h-2.6zM100.4 772.4h2.4v2.2h-2.4zM100.3 778.0h2.6v2h-2.6zM100.3 781.3h2.6v2h-2.6zM100.3 785.3h2.6v2h-2.6zM104.4 772.4h2.4v2.2h-2.4zM104.6 767.3h2v2h-2zM104.3 778.0h2.6v2h-2.6zM104.3 781.3h2.6v2h-2.6zM104.3 787.2h2.6v2h-2.6zM109.7 781.3h2.6v2h-2.6zM109.7 783.4h2.6v2h-2.6zM109.7 785.3h2.6v2h-2.6zM109.7 787.2h2.6v2h-2.6zM114.6 772.4h2.4v2.2h-2.4zM114.8 768.5h2v2h-2zM114.5 778.0h2.6v2h-2.6zM114.5 783.4h2.6v2h-2.6zM114.5 785.3h2.6v2h-2.6zM114.5 787.2h2.6v2h-2.6zM119.7 772.4h2.4v2.2h-2.4zM119.9 767.6h2v2h-2zM119.6 781.3h2.6v2h-2.6zM119.6 783.4h2.6v2h-2.6zM123.5 772.4h2.4v2.2h-2.4zM123.4 781.3h2.6v2h-2.6zM123.4 787.2h2.6v2h-2.6zM128.7 783.4h2.6v2h-2.6zM128.7 785.3h2.6v2h-2.6zM128.7 787.2h2.6v2h-2.6zM133.9 772.4h2.4v2.2h-2.4zM134.1 767.6h2v2h-2zM133.8 785.3h2.6v2h-2.6zM133.8 787.2h2.6v2h-2.6zM139.0 772.4h2.4v2.2h-2.4zM138.9 778.0h2.6v2h-2.6zM138.9 783.4h2.6v2h-2.6zM138.9 785.3h2.6v2h-2.6zM138.9 787.2h2.6v2h-2.6zM143.2 772.4h2.4v2.2h-2.4zM143.1 778.0h2.6v2h-2.6zM143.1 781.3h2.6v2h-2.6zM143.1 783.4h2.6v2h-2.6zM147.0 772.4h2.4v2.2h-2.4zM146.9 783.4h2.6v2h-2.6zM146.9 785.3h2.6v2h-2.6zM151.4 781.3h2.6v2h-2.6zM151.4 783.4h2.6v2h-2.6zM151.4 785.3h2.6v2h-2.6zM156.4 772.4h2.4v2.2h-2.4zM156.3 787.2h2.6v2h-2.6zM160.3 772.4h2.4v2.2h-2.4zM160.2 781.3h2.6v2h-2.6zM160.2 783.4h2.6v2h-2.6zM160.2 787.2h2.6v2h-2.6z" fill="#2a2af0" opacity="0.9"/>
<line x1="24.7" y1="790.6" x2="165.0" y2="790.9" stroke="#d0d0d0" stroke-width="1.1"/>
<path d="M176.0 761.8h142.0v1.8h-142.0zM176.0 761.6h1.7v2.2h-1.7zM197.2 761.6h3.9v2.2h-3.9zM203.1 761.6h4.5v2.2h-4.5zM208.5 761.6h1.0v2.2h-1.0zM217.4 761.6h3.4v2.2h-3.4zM266.4 761.6h1.7v2.2h-1.7zM274.2 761.6h4.4v2.2h-4.4zM316.1 761.6h4.8v2.2h-4.8zM178.5 781.6h2.9v1.6h-2.9zM181.9 765.5h1.1v1.6h-1.1zM181.9 767.2h1.1v1.6h-1.1zM181.4 778.1h2v1.8h-2zM185.7 765.5h1.1v1.6h-1.1zM185.7 767.2h1.1v1.6h-1.1zM185.7 768.9h1.1v1.6h-1.1zM185.7 772.7h1.1v1.6h-1.1zM185.7 774.4h1.1v1.6h-1.1zM190.5 765.5h1.1v1.6h-1.1zM190.0 781.4h2v1.8h-2zM190.0 783.5h2v1.8h-2zM190.0 787.3h2v1.8h-2zM195.7 772.7h1.1v1.6h-1.1zM195.2 783.5h2v1.8h-2zM200.0 765.5h1.1v1.6h-1.1zM200.0 767.2h1.1v1.6h-1.1zM200.0 772.7h1.1v1.6h-1.1zM200.0 774.4h1.1v1.6h-1.1zM199.5 781.4h2v1.8h-2zM199.5 785.4h2v1.8h-2zM201.5 781.6h3.5v1.6h-3.5zM204.2 765.5h1.1v1.6h-1.1zM204.2 767.2h1.1v1.6h-1.1zM209.0 765.5h1.1v1.6h-1.1zM209.0 767.2h1.1v1.6h-1.1zM209.0 774.4h1.1v1.6h-1.1zM208.5 783.5h2v1.8h-2zM213.7 765.5h1.1v1.6h-1.1zM213.7 768.9h1.1v1.6h-1.1zM213.7 772.7h1.1v1.6h-1.1zM213.7 774.4h1.1v1.6h-1.1zM213.2 785.4h2v1.8h-2zM215.2 781.6h2.1v1.6h-2.1zM218.7 765.5h1.1v1.6h-1.1zM218.7 772.7h1.1v1.6h-1.1zM218.7 774.4h1.1v1.6h-1.1zM218.2 781.4h2v1.8h-2zM220.2 781.6h3.3v1.6h-3.3zM222.8 767.2h1.1v1.6h-1.1zM222.8 768.9h1.1v1.6h-1.1zM222.8 772.7h1.1v1.6h-1.1zM222.8 774.4h1.1v1.6h-1.1zM224.3 781.6h4.0v1.6h-4.0zM227.9 765.5h1.1v1.6h-1.1zM227.9 768.9h1.1v1.6h-1.1zM227.4 785.4h2v1.8h-2zM227.4 787.3h2v1.8h-2zM229.4 781.6h3.6v1.6h-3.6zM231.9 774.4h1.1v1.6h-1.1zM231.4 783.5h2v1.8h-2zM236.6 765.5h1.1v1.6h-1.1zM236.6 774.4h1.1v1.6h-1.1zM236.1 778.1h2v1.8h-2zM236.1 781.4h2v1.8h-2zM241.8 768.9h1.1v1.6h-1.1zM241.3 778.1h2v1.8h-2zM246.6 767.2h1.1v1.6h-1.1zM246.6 774.4h1.1v1.6h-1.1zM246.1 778.1h2v1.8h-2zM246.1 783.5h2v1.8h-2zM246.1 787.3h2v1.8h-2zM248.1 781.6h3.1v1.6h-3.1zM251.4 765.5h1.1v1.6h-1.1zM251.4 767.2h1.1v1.6h-1.1zM251.4 768.9h1.1v1.6h-1.1zM251.4 774.4h1.1v1.6h-1.1zM255.8 767.2h1.1v1.6h-1.1zM255.8 772.7h1.1v1.6h-1.1zM255.8 774.4h1.1v1.6h-1.1zM261.3 767.2h1.1v1.6h-1.1zM261.3 774.4h1.1v1.6h-1.1zM260.8 778.1h2v1.8h-2zM260.8 781.4h2v1.8h-2zM262.8 781.6h3.0v1.6h-3.0zM266.3 767.2h1.1v1.6h-1.1zM266.3 768.9h1.1v1.6h-1.1zM266.3 772.7h1.1v1.6h-1.1zM266.3 774.4h1.1v1.6h-1.1zM265.8 778.1h2v1.8h-2zM265.8 787.3h2v1.8h-2zM267.8 781.6h2.2v1.6h-2.2zM271.4 768.9h1.1v1.6h-1.1zM270.9 787.3h2v1.8h-2zM276.9 765.5h1.1v1.6h-1.1zM276.9 767.2h1.1v1.6h-1.1zM276.9 768.9h1.1v1.6h-1.1zM276.9 772.7h1.1v1.6h-1.1zM276.4 785.4h2v1.8h-2zM282.1 768.9h1.1v1.6h-1.1zM283.6 781.6h2.6v1.6h-2.6zM286.1 774.4h1.1v1.6h-1.1zM285.6 785.4h2v1.8h-2zM285.6 787.3h2v1.8h-2zM287.6 781.6h2.7v1.6h-2.7zM290.5 767.2h1.1v1.6h-1.1zM290.5 772.7h1.1v1.6h-1.1zM290.0 778.1h2v1.8h-2zM290.0 785.4h2v1.8h-2zM294.5 767.2h1.1v1.6h-1.1zM294.5 772.7h1.1v1.6h-1.1zM294.0 781.4h2v1.8h-2zM294.0 783.5h2v1.8h-2zM294.0 785.4h2v1.8h-2zM298.8 765.5h1.1v1.6h-1.1zM298.8 767.2h1.1v1.6h-1.1zM304.1 767.2h1.1v1.6h-1.1zM304.1 768.9h1.1v1.6h-1.1zM304.1 774.4h1.1v1.6h-1.1zM309.1 765.5h1.1v1.6h-1.1zM309.1 767.2h1.1v1.6h-1.1zM309.1 774.4h1.1v1.6h-1.1zM308.6 778.1h2v1.8h-2zM308.6 783.5h2v1.8h-2zM308.6 787.3h2v1.8h-2zM313.7 778.1h2v1.8h-2zM315.7 781.6h2.7v1.6h-2.7z" fill="#555" opacity="0.55"/>
<path d="M182.7 761.6h2.1v2.2h-2.1zM191.7 761.6h4.8v2.2h-4.8zM222.2 761.6h4.7v2.2h-4.7zM228.9 761.6h3.5v2.2h-3.5zM245.3 761.6h1.4v2.2h-1.4zM269.4 761.6h3.8v2.2h-3.8zM281.5 761.6h3.2v2.2h-3.2zM286.4 761.6h1.6v2.2h-1.6zM295.5 761.6h2.8v2.2h-2.8zM312.2 761.6h1.6v2.2h-1.6zM176.2 778.0h2.6v2h-2.6zM176.2 781.3h2.6v2h-2.6zM181.1 785.3h2.6v2h-2.6zM184.9 778.0h2.6v2h-2.6zM184.9 785.3h2.6v2h-2.6zM189.8 772.4h2.4v2.2h-2.4zM189.7 778.0h2.6v2h-2.6zM194.9 781.3h2.6v2h-2.6zM199.2 778.0h2.6v2h-2.6zM199.2 787.2h2.6v2h-2.6zM203.4 781.3h2.6v2h-2.6zM203.4 785.3h2.6v2h-2.6zM208.2 781.3h2.6v2h-2.6zM208.2 785.3h2.6v2h-2.6zM208.2 787.2h2.6v2h-2.6zM213.0 772.4h2.4v2.2h-2.4zM212.9 778.0h2.6v2h-2.6zM217.9 787.2h2.6v2h-2.6zM222.0 781.3h2.6v2h-2.6zM227.1 778.0h2.6v2h-2.6zM227.1 783.4h2.6v2h-2.6zM231.2 772.4h2.4v2.2h-2.4zM231.1 778.0h2.6v2h-2.6zM231.1 781.3h2.6v2h-2.6zM235.8 783.4h2.6v2h-2.6zM235.8 787.2h2.6v2h-2.6zM241.0 783.4h2.6v2h-2.6zM250.6 781.3h2.6v2h-2.6zM255.0 781.3h2.6v2h-2.6zM255.0 785.3h2.6v2h-2.6zM255.0 787.2h2.6v2h-2.6zM260.6 772.4h2.4v2.2h-2.4zM265.5 783.4h2.6v2h-2.6zM265.5 785.3h2.6v2h-2.6zM270.7 772.4h2.4v2.2h-2.4zM270.6 778.0h2.6v2h-2.6zM270.6 781.3h2.6v2h-2.6zM270.6 783.4h2.6v2h-2.6zM276.1 778.0h2.6v2h-2.6zM276.1 783.4h2.6v2h-2.6zM276.1 787.2h2.6v2h-2.6zM281.3 778.0h2.6v2h-2.6zM281.3 783.4h2.6v2h-2.6zM281.3 785.3h2.6v2h-2.6zM281.3 787.2h2.6v2h-2.6zM285.3 778.0h2.6v2h-2.6zM285.3 783.4h2.6v2h-2.6zM289.7 787.2h2.6v2h-2.6zM293.7 778.0h2.6v2h-2.6zM298.0 783.4h2.6v2h-2.6zM298.0 787.2h2.6v2h-2.6zM303.6 767.3h2v2h-2zM313.4 787.2h2.6v2h-2.6z" fill="#2a2af0" opacity="0.9"/>
<line x1="175.0" y1="791.0" x2="317.9" y2="791.3" stroke="#d0d0d0" stroke-width="1.1"/>
<text x="79.6" y="212.5" font-size="10.5" fill="#7a7a7a" text-anchor="start" textLength="31.4" lengthAdjust="spacingAndGlyphs" stroke="#7a7a7a" stroke-width="0.3">Time (s)</text>
<text x="233.8" y="212.8" font-size="10.5" fill="#7a7a7a" text-anchor="start" textLength="32.2" lengthAdjust="spacingAndGlyphs" stroke="#7a7a7a" stroke-width="0.3">Time (s)</text>
<text x="73.6" y="417.2" font-size="10.5" fill="#7a7a7a" text-anchor="start" textLength="31.8" lengthAdjust="spacingAndGlyphs" stroke="#7a7a7a" stroke-width="0.3">Time (s)</text>
<text x="233.0" y="416.4" font-size="10.5" fill="#7a7a7a" text-anchor="start" textLength="32.0" lengthAdjust="spacingAndGlyphs" stroke="#7a7a7a" stroke-width="0.3">Time (s)</text>
<text x="81.1" y="622.5" font-size="10.5" fill="#7a7a7a" text-anchor="start" textLength="31.9" lengthAdjust="spacingAndGlyphs" stroke="#7a7a7a" stroke-width="0.3">Time (s)</text>
<text x="238.6" y="622.6" font-size="10.5" fill="#7a7a7a" text-anchor="start" textLength="31.9" lengthAdjust="spacingAndGlyphs" stroke="#7a7a7a" stroke-width="0.3">Time (s)</text>
<text x="80.2" y="806.7" font-size="10.5" fill="#7a7a7a" text-anchor="start" textLength="32.0" lengthAdjust="spacingAndGlyphs" stroke="#7a7a7a" stroke-width="0.3">Time (s)</text>
<text x="231.8" y="807.1" font-size="10.5" fill="#7a7a7a" text-anchor="start" textLength="32.3" lengthAdjust="spacingAndGlyphs" stroke="#7a7a7a" stroke-width="0.3">Time (s)</text>
<text x="413.0" y="45.6" font-size="9.9" fill="#111" text-anchor="start" textLength="63.7" lengthAdjust="spacingAndGlyphs" stroke="#111" stroke-width="0.2">Mean Firing Rate</text>
<line x1="365.8" y1="51.6" x2="365.8" y2="180.4" stroke="#6b6b6b" stroke-width="1.2"/>
<line x1="365.8" y1="179.8" x2="534.0" y2="179.8" stroke="#6b6b6b" stroke-width="1.3"/>
<line x1="363.3" y1="179.8" x2="365.8" y2="179.8" stroke="#6b6b6b" stroke-width="1"/>
<text x="363.0" y="183.0" font-size="8.8" fill="#4a4a4a" text-anchor="end" textLength="4.3" lengthAdjust="spacingAndGlyphs">0</text>
<line x1="363.3" y1="137.2" x2="365.8" y2="137.2" stroke="#6b6b6b" stroke-width="1"/>
<text x="363.0" y="140.4" font-size="8.8" fill="#4a4a4a" text-anchor="end" textLength="12.9" lengthAdjust="spacingAndGlyphs">200</text>
<line x1="363.3" y1="94.7" x2="365.8" y2="94.7" stroke="#6b6b6b" stroke-width="1"/>
<text x="363.0" y="97.9" font-size="8.8" fill="#4a4a4a" text-anchor="end" textLength="12.9" lengthAdjust="spacingAndGlyphs">400</text>
<line x1="363.3" y1="52.1" x2="365.8" y2="52.1" stroke="#6b6b6b" stroke-width="1"/>
<text x="363.0" y="55.3" font-size="8.8" fill="#4a4a4a" text-anchor="end" textLength="12.9" lengthAdjust="spacingAndGlyphs">600</text>
<line x1="387.0" y1="179.8" x2="387.0" y2="182.3" stroke="#6b6b6b" stroke-width="1"/>
<line x1="429.6" y1="179.8" x2="429.6" y2="182.3" stroke="#6b6b6b" stroke-width="1"/>
<line x1="471.6" y1="179.8" x2="471.6" y2="182.3" stroke="#6b6b6b" stroke-width="1"/>
<line x1="513.2" y1="179.8" x2="513.2" y2="182.3" stroke="#6b6b6b" stroke-width="1"/>
<text x="387.0" y="191.5" font-size="8.8" fill="#4a4a4a" text-anchor="middle" textLength="13.3" lengthAdjust="spacingAndGlyphs">PTX</text>
<text x="387.0" y="203.7" font-size="8.8" fill="#4a4a4a" text-anchor="middle" textLength="16.7" lengthAdjust="spacingAndGlyphs">1µM</text>
<text x="429.6" y="191.5" font-size="8.8" fill="#4a4a4a" text-anchor="middle" textLength="15.5" lengthAdjust="spacingAndGlyphs">0.35</text>
<text x="471.6" y="191.5" font-size="8.8" fill="#4a4a4a" text-anchor="middle" textLength="4.2" lengthAdjust="spacingAndGlyphs">1</text>
<text x="513.2" y="191.5" font-size="8.8" fill="#4a4a4a" text-anchor="middle" textLength="4.6" lengthAdjust="spacingAndGlyphs">2</text>
<line x1="424.0" y1="197.5" x2="518.7" y2="197.5" stroke="#222" stroke-width="1"/>
<text x="442.8" y="209.2" font-size="8.6" fill="#333" text-anchor="start" textLength="56.4" lengthAdjust="spacingAndGlyphs">VPA Conc. (mM)</text>
<text transform="translate(342.7,113.3) rotate(-90) scale(0.9560,1)" font-size="9.7" fill="#222" stroke="#222" stroke-width="0.1" text-anchor="middle">% of Baseline</text>
<line x1="375.2" y1="64.5" x2="381.6" y2="64.5" stroke="#12143f" stroke-width="1.3"/>
<path d="M375.8 64.5 L378.4 62.6 L381.0 64.5 L378.4 66.4Z" fill="#12143f"/>
<text x="385.2" y="67.9" font-size="9.2" fill="#484848" text-anchor="start" textLength="84.6" lengthAdjust="spacingAndGlyphs" stroke="#484848" stroke-width="0.12">PTX 1µM + VPA (n = 4)</text>
<polyline points="387.0,148.3 429.6,144.7 471.6,145.5 513.2,153.2" fill="none" stroke="#12143f" stroke-width="1.9" stroke-linejoin="round"/>
<line x1="387.0" y1="144.7" x2="387.0" y2="151.9" stroke="#12143f" stroke-width="1.1"/>
<line x1="385.2" y1="144.7" x2="388.8" y2="144.7" stroke="#12143f" stroke-width="1.1"/>
<line x1="385.2" y1="151.9" x2="388.8" y2="151.9" stroke="#12143f" stroke-width="1.1"/>
<circle cx="387.0" cy="148.3" r="2" fill="#12143f"/>
<line x1="429.6" y1="140.2" x2="429.6" y2="149.2" stroke="#12143f" stroke-width="1.1"/>
<line x1="427.8" y1="140.2" x2="431.4" y2="140.2" stroke="#12143f" stroke-width="1.1"/>
<line x1="427.8" y1="149.2" x2="431.4" y2="149.2" stroke="#12143f" stroke-width="1.1"/>
<circle cx="429.6" cy="144.7" r="2" fill="#12143f"/>
<line x1="471.6" y1="140.9" x2="471.6" y2="150.2" stroke="#12143f" stroke-width="1.1"/>
<line x1="469.8" y1="140.9" x2="473.4" y2="140.9" stroke="#12143f" stroke-width="1.1"/>
<line x1="469.8" y1="150.2" x2="473.4" y2="150.2" stroke="#12143f" stroke-width="1.1"/>
<circle cx="471.6" cy="145.5" r="2" fill="#12143f"/>
<line x1="513.2" y1="151.9" x2="513.2" y2="154.5" stroke="#12143f" stroke-width="1.1"/>
<line x1="511.4" y1="151.9" x2="515.0" y2="151.9" stroke="#12143f" stroke-width="1.1"/>
<line x1="511.4" y1="154.5" x2="515.0" y2="154.5" stroke="#12143f" stroke-width="1.1"/>
<circle cx="513.2" cy="153.2" r="2" fill="#12143f"/>
<text x="624.0" y="45.1" font-size="9.9" fill="#111" text-anchor="start" textLength="53.8" lengthAdjust="spacingAndGlyphs" stroke="#111" stroke-width="0.2">Burst Duration</text>
<line x1="575.4" y1="55.6" x2="575.4" y2="182.1" stroke="#6b6b6b" stroke-width="1.2"/>
<line x1="575.4" y1="181.5" x2="743.3" y2="181.5" stroke="#6b6b6b" stroke-width="1.3"/>
<line x1="572.9" y1="181.5" x2="575.4" y2="181.5" stroke="#6b6b6b" stroke-width="1"/>
<text x="572.6" y="184.7" font-size="8.8" fill="#4a4a4a" text-anchor="end" textLength="4.3" lengthAdjust="spacingAndGlyphs">0</text>
<line x1="572.9" y1="160.6" x2="575.4" y2="160.6" stroke="#6b6b6b" stroke-width="1"/>
<text x="572.6" y="163.8" font-size="8.8" fill="#4a4a4a" text-anchor="end" textLength="8.6" lengthAdjust="spacingAndGlyphs">50</text>
<line x1="572.9" y1="139.7" x2="575.4" y2="139.7" stroke="#6b6b6b" stroke-width="1"/>
<text x="572.6" y="142.9" font-size="8.8" fill="#4a4a4a" text-anchor="end" textLength="12.9" lengthAdjust="spacingAndGlyphs">100</text>
<line x1="572.9" y1="118.8" x2="575.4" y2="118.8" stroke="#6b6b6b" stroke-width="1"/>
<text x="572.6" y="122.0" font-size="8.8" fill="#4a4a4a" text-anchor="end" textLength="12.9" lengthAdjust="spacingAndGlyphs">150</text>
<line x1="572.9" y1="97.9" x2="575.4" y2="97.9" stroke="#6b6b6b" stroke-width="1"/>
<text x="572.6" y="101.1" font-size="8.8" fill="#4a4a4a" text-anchor="end" textLength="12.9" lengthAdjust="spacingAndGlyphs">200</text>
<line x1="572.9" y1="77.0" x2="575.4" y2="77.0" stroke="#6b6b6b" stroke-width="1"/>
<text x="572.6" y="80.2" font-size="8.8" fill="#4a4a4a" text-anchor="end" textLength="12.9" lengthAdjust="spacingAndGlyphs">250</text>
<line x1="572.9" y1="56.1" x2="575.4" y2="56.1" stroke="#6b6b6b" stroke-width="1"/>
<text x="572.6" y="59.3" font-size="8.8" fill="#4a4a4a" text-anchor="end" textLength="12.9" lengthAdjust="spacingAndGlyphs">300</text>
<line x1="596.4" y1="181.5" x2="596.4" y2="184.0" stroke="#6b6b6b" stroke-width="1"/>
<line x1="638.4" y1="181.5" x2="638.4" y2="184.0" stroke="#6b6b6b" stroke-width="1"/>
<line x1="680.0" y1="181.5" x2="680.0" y2="184.0" stroke="#6b6b6b" stroke-width="1"/>
<line x1="722.5" y1="181.5" x2="722.5" y2="184.0" stroke="#6b6b6b" stroke-width="1"/>
<text x="596.4" y="192.6" font-size="8.8" fill="#4a4a4a" text-anchor="middle" textLength="13.3" lengthAdjust="spacingAndGlyphs">PTX</text>
<text x="596.4" y="204.8" font-size="8.8" fill="#4a4a4a" text-anchor="middle" textLength="16.7" lengthAdjust="spacingAndGlyphs">1µM</text>
<text x="638.4" y="192.6" font-size="8.8" fill="#4a4a4a" text-anchor="middle" textLength="15.5" lengthAdjust="spacingAndGlyphs">0.35</text>
<text x="680.0" y="192.6" font-size="8.8" fill="#4a4a4a" text-anchor="middle" textLength="4.2" lengthAdjust="spacingAndGlyphs">1</text>
<text x="722.5" y="192.6" font-size="8.8" fill="#4a4a4a" text-anchor="middle" textLength="4.6" lengthAdjust="spacingAndGlyphs">2</text>
<line x1="632.9" y1="197.5" x2="727.6" y2="197.5" stroke="#222" stroke-width="1"/>
<text x="652.4" y="210.3" font-size="8.6" fill="#333" text-anchor="start" textLength="55.7" lengthAdjust="spacingAndGlyphs">VPA Conc. (mM)</text>
<text transform="translate(551.5,114.9) rotate(-90) scale(0.9408,1)" font-size="9.7" fill="#222" stroke="#222" stroke-width="0.1" text-anchor="middle">% of Baseline</text>
<line x1="583.2" y1="65.4" x2="589.6" y2="65.4" stroke="#12143f" stroke-width="1.3"/>
<path d="M583.8 65.4 L586.4 63.5 L589.0 65.4 L586.4 67.3Z" fill="#12143f"/>
<text x="592.6" y="68.8" font-size="9.2" fill="#3c4170" text-anchor="start" textLength="84.4" lengthAdjust="spacingAndGlyphs" stroke="#3c4170" stroke-width="0.12">PTX 1µM + VPA (n = 4)</text>
<polyline points="596.4,133.4 638.4,133.4 680.0,141.8 722.5,153.1" fill="none" stroke="#12143f" stroke-width="1.9" stroke-linejoin="round"/>
<line x1="596.4" y1="128.4" x2="596.4" y2="138.4" stroke="#12143f" stroke-width="1.1"/>
<line x1="594.6" y1="128.4" x2="598.2" y2="128.4" stroke="#12143f" stroke-width="1.1"/>
<line x1="594.6" y1="138.4" x2="598.2" y2="138.4" stroke="#12143f" stroke-width="1.1"/>
<circle cx="596.4" cy="133.4" r="2" fill="#12143f"/>
<line x1="638.4" y1="128.4" x2="638.4" y2="138.4" stroke="#12143f" stroke-width="1.1"/>
<line x1="636.6" y1="128.4" x2="640.2" y2="128.4" stroke="#12143f" stroke-width="1.1"/>
<line x1="636.6" y1="138.4" x2="640.2" y2="138.4" stroke="#12143f" stroke-width="1.1"/>
<circle cx="638.4" cy="133.4" r="2" fill="#12143f"/>
<line x1="680.0" y1="137.2" x2="680.0" y2="146.4" stroke="#12143f" stroke-width="1.1"/>
<line x1="678.2" y1="137.2" x2="681.8" y2="137.2" stroke="#12143f" stroke-width="1.1"/>
<line x1="678.2" y1="146.4" x2="681.8" y2="146.4" stroke="#12143f" stroke-width="1.1"/>
<circle cx="680.0" cy="141.8" r="2" fill="#12143f"/>
<line x1="722.5" y1="150.6" x2="722.5" y2="155.6" stroke="#12143f" stroke-width="1.1"/>
<line x1="720.7" y1="150.6" x2="724.3" y2="150.6" stroke="#12143f" stroke-width="1.1"/>
<line x1="720.7" y1="155.6" x2="724.3" y2="155.6" stroke="#12143f" stroke-width="1.1"/>
<circle cx="722.5" cy="153.1" r="2" fill="#12143f"/>
<path d="M723.40 142.80L723.40 147.40M721.41 143.95L725.39 146.25M725.39 143.95L721.41 146.25" stroke="#111" stroke-width="1.25" fill="none"/>
<text x="830.9" y="45.2" font-size="9.9" fill="#111" text-anchor="start" textLength="57.1" lengthAdjust="spacingAndGlyphs" stroke="#111" stroke-width="0.2">Netwotk IBI CV</text>
<line x1="784.5" y1="57.8" x2="784.5" y2="181.4" stroke="#6b6b6b" stroke-width="1.2"/>
<line x1="784.5" y1="180.8" x2="952.0" y2="180.8" stroke="#6b6b6b" stroke-width="1.3"/>
<line x1="782.0" y1="180.8" x2="784.5" y2="180.8" stroke="#6b6b6b" stroke-width="1"/>
<text x="781.7" y="184.0" font-size="8.8" fill="#4a4a4a" text-anchor="end" textLength="4.3" lengthAdjust="spacingAndGlyphs">0</text>
<line x1="782.0" y1="156.3" x2="784.5" y2="156.3" stroke="#6b6b6b" stroke-width="1"/>
<text x="781.7" y="159.5" font-size="8.8" fill="#4a4a4a" text-anchor="end" textLength="8.6" lengthAdjust="spacingAndGlyphs">50</text>
<line x1="782.0" y1="131.8" x2="784.5" y2="131.8" stroke="#6b6b6b" stroke-width="1"/>
<text x="781.7" y="135.0" font-size="8.8" fill="#4a4a4a" text-anchor="end" textLength="12.9" lengthAdjust="spacingAndGlyphs">100</text>
<line x1="782.0" y1="107.3" x2="784.5" y2="107.3" stroke="#6b6b6b" stroke-width="1"/>
<text x="781.7" y="110.5" font-size="8.8" fill="#4a4a4a" text-anchor="end" textLength="12.9" lengthAdjust="spacingAndGlyphs">150</text>
<line x1="782.0" y1="82.8" x2="784.5" y2="82.8" stroke="#6b6b6b" stroke-width="1"/>
<text x="781.7" y="86.0" font-size="8.8" fill="#4a4a4a" text-anchor="end" textLength="12.9" lengthAdjust="spacingAndGlyphs">200</text>
<line x1="782.0" y1="58.3" x2="784.5" y2="58.3" stroke="#6b6b6b" stroke-width="1"/>
<text x="781.7" y="61.5" font-size="8.8" fill="#4a4a4a" text-anchor="end" textLength="12.9" lengthAdjust="spacingAndGlyphs">250</text>
<line x1="805.7" y1="180.8" x2="805.7" y2="183.3" stroke="#6b6b6b" stroke-width="1"/>
<line x1="848.5" y1="180.8" x2="848.5" y2="183.3" stroke="#6b6b6b" stroke-width="1"/>
<line x1="891.0" y1="180.8" x2="891.0" y2="183.3" stroke="#6b6b6b" stroke-width="1"/>
<line x1="933.8" y1="180.8" x2="933.8" y2="183.3" stroke="#6b6b6b" stroke-width="1"/>
<text x="805.7" y="192.3" font-size="8.8" fill="#4a4a4a" text-anchor="middle" textLength="13.3" lengthAdjust="spacingAndGlyphs">PTX</text>
<text x="805.7" y="204.5" font-size="8.8" fill="#4a4a4a" text-anchor="middle" textLength="16.7" lengthAdjust="spacingAndGlyphs">1µM</text>
<text x="848.5" y="192.3" font-size="8.8" fill="#4a4a4a" text-anchor="middle" textLength="15.5" lengthAdjust="spacingAndGlyphs">0.35</text>
<text x="891.0" y="192.3" font-size="8.8" fill="#4a4a4a" text-anchor="middle" textLength="4.2" lengthAdjust="spacingAndGlyphs">1</text>
<text x="933.8" y="192.3" font-size="8.8" fill="#4a4a4a" text-anchor="middle" textLength="4.6" lengthAdjust="spacingAndGlyphs">2</text>
<line x1="843.6" y1="197.5" x2="939.8" y2="197.5" stroke="#222" stroke-width="1"/>
<text x="863.2" y="209.3" font-size="8.6" fill="#333" text-anchor="start" textLength="56.1" lengthAdjust="spacingAndGlyphs">VPA Conc. (mM)</text>
<text transform="translate(763.9,115.7) rotate(-90) scale(0.9206,1)" font-size="9.7" fill="#222" stroke="#222" stroke-width="0.1" text-anchor="middle">% of Baseline</text>
<line x1="791.4" y1="67.9" x2="797.8" y2="67.9" stroke="#12143f" stroke-width="1.3"/>
<path d="M792.0 67.9 L794.6 66.0 L797.2 67.9 L794.6 69.8Z" fill="#12143f"/>
<text x="801.0" y="71.3" font-size="9.2" fill="#484848" text-anchor="start" textLength="86.0" lengthAdjust="spacingAndGlyphs" stroke="#484848" stroke-width="0.12">PTX 1µM + VPA (n = 4)</text>
<polyline points="805.7,172.0 848.5,166.1 891.0,148.0 933.8,150.4" fill="none" stroke="#12143f" stroke-width="1.9" stroke-linejoin="round"/>
<line x1="805.7" y1="170.0" x2="805.7" y2="173.9" stroke="#12143f" stroke-width="1.1"/>
<line x1="803.9" y1="170.0" x2="807.5" y2="170.0" stroke="#12143f" stroke-width="1.1"/>
<line x1="803.9" y1="173.9" x2="807.5" y2="173.9" stroke="#12143f" stroke-width="1.1"/>
<circle cx="805.7" cy="172.0" r="2" fill="#12143f"/>
<line x1="848.5" y1="161.7" x2="848.5" y2="170.5" stroke="#12143f" stroke-width="1.1"/>
<line x1="846.7" y1="161.7" x2="850.3" y2="161.7" stroke="#12143f" stroke-width="1.1"/>
<line x1="846.7" y1="170.5" x2="850.3" y2="170.5" stroke="#12143f" stroke-width="1.1"/>
<circle cx="848.5" cy="166.1" r="2" fill="#12143f"/>
<line x1="891.0" y1="138.7" x2="891.0" y2="157.3" stroke="#12143f" stroke-width="1.1"/>
<line x1="889.2" y1="138.7" x2="892.8" y2="138.7" stroke="#12143f" stroke-width="1.1"/>
<line x1="889.2" y1="157.3" x2="892.8" y2="157.3" stroke="#12143f" stroke-width="1.1"/>
<circle cx="891.0" cy="148.0" r="2" fill="#12143f"/>
<line x1="933.8" y1="143.6" x2="933.8" y2="157.3" stroke="#12143f" stroke-width="1.1"/>
<line x1="932.0" y1="143.6" x2="935.6" y2="143.6" stroke="#12143f" stroke-width="1.1"/>
<line x1="932.0" y1="157.3" x2="935.6" y2="157.3" stroke="#12143f" stroke-width="1.1"/>
<circle cx="933.8" cy="150.4" r="2" fill="#12143f"/>
<text x="413.0" y="250.6" font-size="9.9" fill="#111" text-anchor="start" textLength="63.7" lengthAdjust="spacingAndGlyphs" stroke="#111" stroke-width="0.2">Mean Firing Rate</text>
<line x1="366.1" y1="259.9" x2="366.1" y2="385.4" stroke="#6b6b6b" stroke-width="1.2"/>
<line x1="366.1" y1="384.8" x2="533.6" y2="384.8" stroke="#6b6b6b" stroke-width="1.3"/>
<line x1="363.6" y1="384.8" x2="366.1" y2="384.8" stroke="#6b6b6b" stroke-width="1"/>
<text x="363.3" y="388.0" font-size="8.8" fill="#4a4a4a" text-anchor="end" textLength="4.3" lengthAdjust="spacingAndGlyphs">0</text>
<line x1="363.6" y1="343.3" x2="366.1" y2="343.3" stroke="#6b6b6b" stroke-width="1"/>
<text x="363.3" y="346.5" font-size="8.8" fill="#4a4a4a" text-anchor="end" textLength="12.9" lengthAdjust="spacingAndGlyphs">200</text>
<line x1="363.6" y1="301.9" x2="366.1" y2="301.9" stroke="#6b6b6b" stroke-width="1"/>
<text x="363.3" y="305.1" font-size="8.8" fill="#4a4a4a" text-anchor="end" textLength="12.9" lengthAdjust="spacingAndGlyphs">400</text>
<line x1="363.6" y1="260.4" x2="366.1" y2="260.4" stroke="#6b6b6b" stroke-width="1"/>
<text x="363.3" y="263.6" font-size="8.8" fill="#4a4a4a" text-anchor="end" textLength="12.9" lengthAdjust="spacingAndGlyphs">600</text>
<line x1="394.2" y1="384.8" x2="394.2" y2="387.3" stroke="#6b6b6b" stroke-width="1"/>
<line x1="450.6" y1="384.8" x2="450.6" y2="387.3" stroke="#6b6b6b" stroke-width="1"/>
<line x1="506.4" y1="384.8" x2="506.4" y2="387.3" stroke="#6b6b6b" stroke-width="1"/>
<text x="394.2" y="396.5" font-size="8.8" fill="#4a4a4a" text-anchor="middle" textLength="13.5" lengthAdjust="spacingAndGlyphs">PTZ</text>
<text x="394.2" y="407.6" font-size="8.8" fill="#4a4a4a" text-anchor="middle" textLength="23.5" lengthAdjust="spacingAndGlyphs">300µM</text>
<text x="450.6" y="396.5" font-size="8.8" fill="#4a4a4a" text-anchor="middle" textLength="4.2" lengthAdjust="spacingAndGlyphs">1</text>
<text x="506.4" y="396.5" font-size="8.8" fill="#4a4a4a" text-anchor="middle" textLength="4.6" lengthAdjust="spacingAndGlyphs">2</text>
<line x1="450.2" y1="401.5" x2="506.4" y2="401.5" stroke="#222" stroke-width="1"/>
<text x="446.0" y="415.3" font-size="8.6" fill="#333" text-anchor="start" textLength="56.0" lengthAdjust="spacingAndGlyphs">VPA Conc. (mM)</text>
<text transform="translate(342.7,319.6) rotate(-90) scale(0.9307,1)" font-size="9.7" fill="#222" stroke="#222" stroke-width="0.1" text-anchor="middle">% of Baseline</text>
<line x1="371.1" y1="267.8" x2="377.5" y2="267.8" stroke="#e2197c" stroke-width="1.3"/>
<path d="M371.7 267.8 L374.3 265.9 L376.9 267.8 L374.3 269.7Z" fill="#e2197c"/>
<text x="380.5" y="271.2" font-size="9.2" fill="#484848" text-anchor="start" textLength="93.3" lengthAdjust="spacingAndGlyphs" stroke="#484848" stroke-width="0.12">PTZ 300µM + VPA (n = 5)</text>
<polyline points="394.2,309.1 450.6,308.1 506.4,370.3" fill="none" stroke="#e2197c" stroke-width="1.9" stroke-linejoin="round"/>
<line x1="394.2" y1="299.8" x2="394.2" y2="318.5" stroke="#e2197c" stroke-width="1.1"/>
<line x1="392.4" y1="299.8" x2="396.0" y2="299.8" stroke="#e2197c" stroke-width="1.1"/>
<line x1="392.4" y1="318.5" x2="396.0" y2="318.5" stroke="#e2197c" stroke-width="1.1"/>
<circle cx="394.2" cy="309.1" r="2" fill="#e2197c"/>
<line x1="450.6" y1="301.0" x2="450.6" y2="315.1" stroke="#e2197c" stroke-width="1.1"/>
<line x1="448.8" y1="301.0" x2="452.4" y2="301.0" stroke="#e2197c" stroke-width="1.1"/>
<line x1="448.8" y1="315.1" x2="452.4" y2="315.1" stroke="#e2197c" stroke-width="1.1"/>
<circle cx="450.6" cy="308.1" r="2" fill="#e2197c"/>
<line x1="506.4" y1="368.2" x2="506.4" y2="372.4" stroke="#e2197c" stroke-width="1.1"/>
<line x1="504.6" y1="368.2" x2="508.2" y2="368.2" stroke="#e2197c" stroke-width="1.1"/>
<line x1="504.6" y1="372.4" x2="508.2" y2="372.4" stroke="#e2197c" stroke-width="1.1"/>
<circle cx="506.4" cy="370.3" r="2" fill="#e2197c"/>
<path d="M503.40 358.20L503.40 362.80M501.41 359.35L505.39 361.65M505.39 359.35L501.41 361.65M509.00 358.20L509.00 362.80M507.01 359.35L510.99 361.65M510.99 359.35L507.01 361.65M514.40 358.20L514.40 362.80M512.41 359.35L516.39 361.65M516.39 359.35L512.41 361.65" stroke="#111" stroke-width="1.25" fill="none"/>
<text x="627.5" y="251.7" font-size="9.9" fill="#111" text-anchor="start" textLength="54.7" lengthAdjust="spacingAndGlyphs" stroke="#111" stroke-width="0.2">Burst Duration</text>
<line x1="575.3" y1="261.1" x2="575.3" y2="388.3" stroke="#6b6b6b" stroke-width="1.2"/>
<line x1="575.3" y1="387.7" x2="745.3" y2="387.7" stroke="#6b6b6b" stroke-width="1.3"/>
<line x1="572.8" y1="387.7" x2="575.3" y2="387.7" stroke="#6b6b6b" stroke-width="1"/>
<text x="572.5" y="390.9" font-size="8.8" fill="#4a4a4a" text-anchor="end" textLength="4.3" lengthAdjust="spacingAndGlyphs">0</text>
<line x1="572.8" y1="366.7" x2="575.3" y2="366.7" stroke="#6b6b6b" stroke-width="1"/>
<text x="572.5" y="369.9" font-size="8.8" fill="#4a4a4a" text-anchor="end" textLength="8.6" lengthAdjust="spacingAndGlyphs">50</text>
<line x1="572.8" y1="345.7" x2="575.3" y2="345.7" stroke="#6b6b6b" stroke-width="1"/>
<text x="572.5" y="348.9" font-size="8.8" fill="#4a4a4a" text-anchor="end" textLength="12.9" lengthAdjust="spacingAndGlyphs">100</text>
<line x1="572.8" y1="324.6" x2="575.3" y2="324.6" stroke="#6b6b6b" stroke-width="1"/>
<text x="572.5" y="327.8" font-size="8.8" fill="#4a4a4a" text-anchor="end" textLength="12.9" lengthAdjust="spacingAndGlyphs">150</text>
<line x1="572.8" y1="303.6" x2="575.3" y2="303.6" stroke="#6b6b6b" stroke-width="1"/>
<text x="572.5" y="306.8" font-size="8.8" fill="#4a4a4a" text-anchor="end" textLength="12.9" lengthAdjust="spacingAndGlyphs">200</text>
<line x1="572.8" y1="282.6" x2="575.3" y2="282.6" stroke="#6b6b6b" stroke-width="1"/>
<text x="572.5" y="285.8" font-size="8.8" fill="#4a4a4a" text-anchor="end" textLength="12.9" lengthAdjust="spacingAndGlyphs">250</text>
<line x1="572.8" y1="261.6" x2="575.3" y2="261.6" stroke="#6b6b6b" stroke-width="1"/>
<text x="572.5" y="264.8" font-size="8.8" fill="#4a4a4a" text-anchor="end" textLength="12.9" lengthAdjust="spacingAndGlyphs">300</text>
<line x1="603.6" y1="387.7" x2="603.6" y2="390.2" stroke="#6b6b6b" stroke-width="1"/>
<line x1="660.0" y1="387.7" x2="660.0" y2="390.2" stroke="#6b6b6b" stroke-width="1"/>
<line x1="716.5" y1="387.7" x2="716.5" y2="390.2" stroke="#6b6b6b" stroke-width="1"/>
<text x="603.6" y="399.2" font-size="8.8" fill="#4a4a4a" text-anchor="middle" textLength="13.5" lengthAdjust="spacingAndGlyphs">PTZ</text>
<text x="603.6" y="411.0" font-size="8.8" fill="#4a4a4a" text-anchor="middle" textLength="23.5" lengthAdjust="spacingAndGlyphs">300µM</text>
<text x="660.0" y="399.2" font-size="8.8" fill="#4a4a4a" text-anchor="middle" textLength="4.2" lengthAdjust="spacingAndGlyphs">1</text>
<text x="716.5" y="399.2" font-size="8.8" fill="#4a4a4a" text-anchor="middle" textLength="4.6" lengthAdjust="spacingAndGlyphs">2</text>
<line x1="658.5" y1="403.5" x2="718.2" y2="403.5" stroke="#222" stroke-width="1"/>
<text x="655.2" y="415.3" font-size="8.6" fill="#333" text-anchor="start" textLength="56.4" lengthAdjust="spacingAndGlyphs">VPA Conc. (mM)</text>
<text transform="translate(551.4,321.0) rotate(-90) scale(0.9442,1)" font-size="9.7" fill="#222" stroke="#222" stroke-width="0.1" text-anchor="middle">% of Baseline</text>
<line x1="579.4" y1="269.7" x2="585.8" y2="269.7" stroke="#e2197c" stroke-width="1.3"/>
<path d="M580.0 269.7 L582.6 267.8 L585.2 269.7 L582.6 271.6Z" fill="#e2197c"/>
<text x="589.2" y="273.1" font-size="9.2" fill="#484848" text-anchor="start" textLength="94.7" lengthAdjust="spacingAndGlyphs" stroke="#484848" stroke-width="0.12">PTZ 300µM + VPA (n = 5)</text>
<polyline points="603.6,302.8 660.0,327.2 716.5,370.0" fill="none" stroke="#e2197c" stroke-width="1.9" stroke-linejoin="round"/>
<line x1="603.6" y1="296.5" x2="603.6" y2="309.1" stroke="#e2197c" stroke-width="1.1"/>
<line x1="601.8" y1="296.5" x2="605.4" y2="296.5" stroke="#e2197c" stroke-width="1.1"/>
<line x1="601.8" y1="309.1" x2="605.4" y2="309.1" stroke="#e2197c" stroke-width="1.1"/>
<circle cx="603.6" cy="302.8" r="2" fill="#e2197c"/>
<line x1="660.0" y1="315.0" x2="660.0" y2="339.4" stroke="#e2197c" stroke-width="1.1"/>
<line x1="658.2" y1="315.0" x2="661.8" y2="315.0" stroke="#e2197c" stroke-width="1.1"/>
<line x1="658.2" y1="339.4" x2="661.8" y2="339.4" stroke="#e2197c" stroke-width="1.1"/>
<circle cx="660.0" cy="327.2" r="2" fill="#e2197c"/>
<line x1="716.5" y1="367.9" x2="716.5" y2="372.1" stroke="#e2197c" stroke-width="1.1"/>
<line x1="714.7" y1="367.9" x2="718.3" y2="367.9" stroke="#e2197c" stroke-width="1.1"/>
<line x1="714.7" y1="372.1" x2="718.3" y2="372.1" stroke="#e2197c" stroke-width="1.1"/>
<circle cx="716.5" cy="370.0" r="2" fill="#e2197c"/>
<path d="M713.70 359.00L713.70 363.60M711.71 360.15L715.69 362.45M715.69 360.15L711.71 362.45M719.30 359.00L719.30 363.60M717.31 360.15L721.29 362.45M721.29 360.15L717.31 362.45M724.80 359.00L724.80 363.60M722.81 360.15L726.79 362.45M726.79 360.15L722.81 362.45" stroke="#111" stroke-width="1.25" fill="none"/>
<text x="838.7" y="250.1" font-size="9.9" fill="#111" text-anchor="start" textLength="56.7" lengthAdjust="spacingAndGlyphs" stroke="#111" stroke-width="0.2">Network IBI CV</text>
<line x1="787.4" y1="259.9" x2="787.4" y2="386.1" stroke="#6b6b6b" stroke-width="1.2"/>
<line x1="787.4" y1="385.5" x2="952.0" y2="385.5" stroke="#6b6b6b" stroke-width="1.3"/>
<line x1="784.9" y1="385.5" x2="787.4" y2="385.5" stroke="#6b6b6b" stroke-width="1"/>
<text x="784.6" y="388.7" font-size="8.8" fill="#4a4a4a" text-anchor="end" textLength="4.3" lengthAdjust="spacingAndGlyphs">0</text>
<line x1="784.9" y1="360.5" x2="787.4" y2="360.5" stroke="#6b6b6b" stroke-width="1"/>
<text x="784.6" y="363.7" font-size="8.8" fill="#4a4a4a" text-anchor="end" textLength="8.6" lengthAdjust="spacingAndGlyphs">50</text>
<line x1="784.9" y1="335.5" x2="787.4" y2="335.5" stroke="#6b6b6b" stroke-width="1"/>
<text x="784.6" y="338.7" font-size="8.8" fill="#4a4a4a" text-anchor="end" textLength="12.9" lengthAdjust="spacingAndGlyphs">100</text>
<line x1="784.9" y1="310.4" x2="787.4" y2="310.4" stroke="#6b6b6b" stroke-width="1"/>
<text x="784.6" y="313.6" font-size="8.8" fill="#4a4a4a" text-anchor="end" textLength="12.9" lengthAdjust="spacingAndGlyphs">150</text>
<line x1="784.9" y1="285.4" x2="787.4" y2="285.4" stroke="#6b6b6b" stroke-width="1"/>
<text x="784.6" y="288.6" font-size="8.8" fill="#4a4a4a" text-anchor="end" textLength="12.9" lengthAdjust="spacingAndGlyphs">200</text>
<line x1="784.9" y1="260.4" x2="787.4" y2="260.4" stroke="#6b6b6b" stroke-width="1"/>
<text x="784.6" y="263.6" font-size="8.8" fill="#4a4a4a" text-anchor="end" textLength="12.9" lengthAdjust="spacingAndGlyphs">250</text>
<line x1="815.5" y1="385.5" x2="815.5" y2="388.0" stroke="#6b6b6b" stroke-width="1"/>
<line x1="871.5" y1="385.5" x2="871.5" y2="388.0" stroke="#6b6b6b" stroke-width="1"/>
<line x1="927.4" y1="385.5" x2="927.4" y2="388.0" stroke="#6b6b6b" stroke-width="1"/>
<text x="815.5" y="396.5" font-size="8.8" fill="#4a4a4a" text-anchor="middle" textLength="13.5" lengthAdjust="spacingAndGlyphs">PTZ</text>
<text x="815.5" y="408.3" font-size="8.8" fill="#4a4a4a" text-anchor="middle" textLength="23.5" lengthAdjust="spacingAndGlyphs">300µM</text>
<text x="871.5" y="396.5" font-size="8.8" fill="#4a4a4a" text-anchor="middle" textLength="4.2" lengthAdjust="spacingAndGlyphs">1</text>
<text x="927.4" y="396.5" font-size="8.8" fill="#4a4a4a" text-anchor="middle" textLength="4.6" lengthAdjust="spacingAndGlyphs">2</text>
<line x1="869.9" y1="401.5" x2="936.3" y2="401.5" stroke="#222" stroke-width="1"/>
<text x="871.5" y="414.7" font-size="8.6" fill="#333" text-anchor="start" textLength="56.4" lengthAdjust="spacingAndGlyphs">VPA Conc. (mM)</text>
<text transform="translate(764.2,319.4) rotate(-90) scale(0.9442,1)" font-size="9.7" fill="#222" stroke="#222" stroke-width="0.1" text-anchor="middle">% of Baseline</text>
<line x1="791.5" y1="268.6" x2="797.9" y2="268.6" stroke="#e2197c" stroke-width="1.3"/>
<path d="M792.1 268.6 L794.7 266.7 L797.3 268.6 L794.7 270.5Z" fill="#e2197c"/>
<text x="801.7" y="272.0" font-size="9.2" fill="#484848" text-anchor="start" textLength="93.4" lengthAdjust="spacingAndGlyphs" stroke="#484848" stroke-width="0.12">PTZ 300µM + VPA (n = 5)</text>
<polyline points="815.5,365.5 871.5,344.0 927.4,343.0" fill="none" stroke="#e2197c" stroke-width="1.9" stroke-linejoin="round"/>
<line x1="815.5" y1="359.5" x2="815.5" y2="371.5" stroke="#e2197c" stroke-width="1.1"/>
<line x1="813.7" y1="359.5" x2="817.3" y2="359.5" stroke="#e2197c" stroke-width="1.1"/>
<line x1="813.7" y1="371.5" x2="817.3" y2="371.5" stroke="#e2197c" stroke-width="1.1"/>
<circle cx="815.5" cy="365.5" r="2" fill="#e2197c"/>
<line x1="871.5" y1="338.5" x2="871.5" y2="349.5" stroke="#e2197c" stroke-width="1.1"/>
<line x1="869.7" y1="338.5" x2="873.3" y2="338.5" stroke="#e2197c" stroke-width="1.1"/>
<line x1="869.7" y1="349.5" x2="873.3" y2="349.5" stroke="#e2197c" stroke-width="1.1"/>
<circle cx="871.5" cy="344.0" r="2" fill="#e2197c"/>
<line x1="927.4" y1="331.5" x2="927.4" y2="354.5" stroke="#e2197c" stroke-width="1.1"/>
<line x1="925.6" y1="331.5" x2="929.2" y2="331.5" stroke="#e2197c" stroke-width="1.1"/>
<line x1="925.6" y1="354.5" x2="929.2" y2="354.5" stroke="#e2197c" stroke-width="1.1"/>
<circle cx="927.4" cy="343.0" r="2" fill="#e2197c"/>
<text x="406.8" y="456.1" font-size="9.9" fill="#111" text-anchor="start" textLength="64.2" lengthAdjust="spacingAndGlyphs" stroke="#111" stroke-width="0.2">Mean Firing Rate</text>
<line x1="364.3" y1="464.3" x2="364.3" y2="592.2" stroke="#6b6b6b" stroke-width="1.2"/>
<line x1="364.3" y1="591.6" x2="533.6" y2="591.6" stroke="#6b6b6b" stroke-width="1.3"/>
<line x1="361.8" y1="591.6" x2="364.3" y2="591.6" stroke="#6b6b6b" stroke-width="1"/>
<text x="361.5" y="594.8" font-size="8.8" fill="#4a4a4a" text-anchor="end" textLength="4.3" lengthAdjust="spacingAndGlyphs">0</text>
<line x1="361.8" y1="549.3" x2="364.3" y2="549.3" stroke="#6b6b6b" stroke-width="1"/>
<text x="361.5" y="552.5" font-size="8.8" fill="#4a4a4a" text-anchor="end" textLength="12.9" lengthAdjust="spacingAndGlyphs">200</text>
<line x1="361.8" y1="507.1" x2="364.3" y2="507.1" stroke="#6b6b6b" stroke-width="1"/>
<text x="361.5" y="510.3" font-size="8.8" fill="#4a4a4a" text-anchor="end" textLength="12.9" lengthAdjust="spacingAndGlyphs">400</text>
<line x1="361.8" y1="464.8" x2="364.3" y2="464.8" stroke="#6b6b6b" stroke-width="1"/>
<text x="361.5" y="468.0" font-size="8.8" fill="#4a4a4a" text-anchor="end" textLength="12.9" lengthAdjust="spacingAndGlyphs">600</text>
<line x1="385.8" y1="591.6" x2="385.8" y2="594.1" stroke="#6b6b6b" stroke-width="1"/>
<line x1="427.8" y1="591.6" x2="427.8" y2="594.1" stroke="#6b6b6b" stroke-width="1"/>
<line x1="470.1" y1="591.6" x2="470.1" y2="594.1" stroke="#6b6b6b" stroke-width="1"/>
<line x1="512.1" y1="591.6" x2="512.1" y2="594.1" stroke="#6b6b6b" stroke-width="1"/>
<text x="385.8" y="602.6" font-size="8.8" fill="#4a4a4a" text-anchor="middle" textLength="17.5" lengthAdjust="spacingAndGlyphs">4-AP</text>
<text x="385.8" y="614.8" font-size="8.8" fill="#4a4a4a" text-anchor="middle" textLength="19.5" lengthAdjust="spacingAndGlyphs">30µM</text>
<text x="427.8" y="602.6" font-size="8.8" fill="#4a4a4a" text-anchor="middle" textLength="15.5" lengthAdjust="spacingAndGlyphs">0.35</text>
<text x="470.1" y="602.6" font-size="8.8" fill="#4a4a4a" text-anchor="middle" textLength="4.2" lengthAdjust="spacingAndGlyphs">1</text>
<text x="512.1" y="602.6" font-size="8.8" fill="#4a4a4a" text-anchor="middle" textLength="4.6" lengthAdjust="spacingAndGlyphs">2</text>
<line x1="427.4" y1="608.5" x2="513.0" y2="608.5" stroke="#222" stroke-width="1"/>
<text x="444.0" y="619.7" font-size="8.6" fill="#333" text-anchor="start" textLength="55.3" lengthAdjust="spacingAndGlyphs">VPA Conc. (mM)</text>
<text transform="translate(342.7,524.7) rotate(-90) scale(0.9341,1)" font-size="9.7" fill="#222" stroke="#222" stroke-width="0.1" text-anchor="middle">% of Baseline</text>
<line x1="367.1" y1="476.5" x2="373.5" y2="476.5" stroke="#7cc5f2" stroke-width="1.3"/>
<path d="M367.7 476.5 L370.3 474.6 L372.9 476.5 L370.3 478.4Z" fill="#7cc5f2"/>
<text x="376.5" y="479.9" font-size="9.2" fill="#484848" text-anchor="start" textLength="94.0" lengthAdjust="spacingAndGlyphs" stroke="#484848" stroke-width="0.12">4-AP 30µM + VPA (n = 4)</text>
<polyline points="385.8,554.0 427.8,550.8 470.1,550.8 512.1,556.7" fill="none" stroke="#7cc5f2" stroke-width="1.9" stroke-linejoin="round"/>
<line x1="385.8" y1="553.1" x2="385.8" y2="554.8" stroke="#7cc5f2" stroke-width="1.1"/>
<line x1="384.0" y1="553.1" x2="387.6" y2="553.1" stroke="#7cc5f2" stroke-width="1.1"/>
<line x1="384.0" y1="554.8" x2="387.6" y2="554.8" stroke="#7cc5f2" stroke-width="1.1"/>
<circle cx="385.8" cy="554.0" r="2" fill="#7cc5f2"/>
<line x1="427.8" y1="549.3" x2="427.8" y2="552.3" stroke="#7cc5f2" stroke-width="1.1"/>
<line x1="426.0" y1="549.3" x2="429.6" y2="549.3" stroke="#7cc5f2" stroke-width="1.1"/>
<line x1="426.0" y1="552.3" x2="429.6" y2="552.3" stroke="#7cc5f2" stroke-width="1.1"/>
<circle cx="427.8" cy="550.8" r="2" fill="#7cc5f2"/>
<line x1="470.1" y1="549.5" x2="470.1" y2="552.1" stroke="#7cc5f2" stroke-width="1.1"/>
<line x1="468.3" y1="549.5" x2="471.9" y2="549.5" stroke="#7cc5f2" stroke-width="1.1"/>
<line x1="468.3" y1="552.1" x2="471.9" y2="552.1" stroke="#7cc5f2" stroke-width="1.1"/>
<circle cx="470.1" cy="550.8" r="2" fill="#7cc5f2"/>
<line x1="512.1" y1="555.9" x2="512.1" y2="557.6" stroke="#7cc5f2" stroke-width="1.1"/>
<line x1="510.3" y1="555.9" x2="513.9" y2="555.9" stroke="#7cc5f2" stroke-width="1.1"/>
<line x1="510.3" y1="557.6" x2="513.9" y2="557.6" stroke="#7cc5f2" stroke-width="1.1"/>
<circle cx="512.1" cy="556.7" r="2" fill="#7cc5f2"/>
<text x="629.7" y="456.7" font-size="9.9" fill="#111" text-anchor="start" textLength="54.2" lengthAdjust="spacingAndGlyphs" stroke="#111" stroke-width="0.2">Burst Duration</text>
<line x1="574.2" y1="462.7" x2="574.2" y2="592.2" stroke="#6b6b6b" stroke-width="1.2"/>
<line x1="574.2" y1="591.6" x2="745.3" y2="591.6" stroke="#6b6b6b" stroke-width="1.3"/>
<line x1="571.7" y1="591.6" x2="574.2" y2="591.6" stroke="#6b6b6b" stroke-width="1"/>
<text x="571.4" y="594.8" font-size="8.8" fill="#4a4a4a" text-anchor="end" textLength="4.3" lengthAdjust="spacingAndGlyphs">0</text>
<line x1="571.7" y1="570.2" x2="574.2" y2="570.2" stroke="#6b6b6b" stroke-width="1"/>
<text x="571.4" y="573.4" font-size="8.8" fill="#4a4a4a" text-anchor="end" textLength="8.6" lengthAdjust="spacingAndGlyphs">50</text>
<line x1="571.7" y1="548.8" x2="574.2" y2="548.8" stroke="#6b6b6b" stroke-width="1"/>
<text x="571.4" y="552.0" font-size="8.8" fill="#4a4a4a" text-anchor="end" textLength="12.9" lengthAdjust="spacingAndGlyphs">100</text>
<line x1="571.7" y1="527.4" x2="574.2" y2="527.4" stroke="#6b6b6b" stroke-width="1"/>
<text x="571.4" y="530.6" font-size="8.8" fill="#4a4a4a" text-anchor="end" textLength="12.9" lengthAdjust="spacingAndGlyphs">150</text>
<line x1="571.7" y1="506.0" x2="574.2" y2="506.0" stroke="#6b6b6b" stroke-width="1"/>
<text x="571.4" y="509.2" font-size="8.8" fill="#4a4a4a" text-anchor="end" textLength="12.9" lengthAdjust="spacingAndGlyphs">200</text>
<line x1="571.7" y1="484.6" x2="574.2" y2="484.6" stroke="#6b6b6b" stroke-width="1"/>
<text x="571.4" y="487.8" font-size="8.8" fill="#4a4a4a" text-anchor="end" textLength="12.9" lengthAdjust="spacingAndGlyphs">250</text>
<line x1="571.7" y1="463.2" x2="574.2" y2="463.2" stroke="#6b6b6b" stroke-width="1"/>
<text x="571.4" y="466.4" font-size="8.8" fill="#4a4a4a" text-anchor="end" textLength="12.9" lengthAdjust="spacingAndGlyphs">300</text>
<line x1="595.9" y1="591.6" x2="595.9" y2="594.1" stroke="#6b6b6b" stroke-width="1"/>
<line x1="637.9" y1="591.6" x2="637.9" y2="594.1" stroke="#6b6b6b" stroke-width="1"/>
<line x1="680.4" y1="591.6" x2="680.4" y2="594.1" stroke="#6b6b6b" stroke-width="1"/>
<line x1="723.1" y1="591.6" x2="723.1" y2="594.1" stroke="#6b6b6b" stroke-width="1"/>
<text x="595.9" y="602.6" font-size="8.8" fill="#4a4a4a" text-anchor="middle" textLength="17.5" lengthAdjust="spacingAndGlyphs">4-AP</text>
<text x="595.9" y="615.3" font-size="8.8" fill="#4a4a4a" text-anchor="middle" textLength="19.5" lengthAdjust="spacingAndGlyphs">30µM</text>
<text x="637.9" y="602.6" font-size="8.8" fill="#4a4a4a" text-anchor="middle" textLength="15.5" lengthAdjust="spacingAndGlyphs">0.35</text>
<text x="680.4" y="602.6" font-size="8.8" fill="#4a4a4a" text-anchor="middle" textLength="4.2" lengthAdjust="spacingAndGlyphs">1</text>
<text x="723.1" y="602.6" font-size="8.8" fill="#4a4a4a" text-anchor="middle" textLength="4.6" lengthAdjust="spacingAndGlyphs">2</text>
<line x1="637.9" y1="607.5" x2="723.5" y2="607.5" stroke="#222" stroke-width="1"/>
<text x="649.6" y="619.2" font-size="8.6" fill="#333" text-anchor="start" textLength="56.4" lengthAdjust="spacingAndGlyphs">VPA Conc. (mM)</text>
<text transform="translate(553.2,524.6) rotate(-90) scale(0.9526,1)" font-size="9.7" fill="#222" stroke="#222" stroke-width="0.1" text-anchor="middle">% of Baseline</text>
<line x1="578.3" y1="475.8" x2="584.7" y2="475.8" stroke="#7cc5f2" stroke-width="1.3"/>
<path d="M578.9 475.8 L581.5 473.9 L584.1 475.8 L581.5 477.7Z" fill="#7cc5f2"/>
<text x="587.7" y="479.2" font-size="9.2" fill="#484848" text-anchor="start" textLength="96.7" lengthAdjust="spacingAndGlyphs" stroke="#484848" stroke-width="0.12">4-AP  30µM + VPA (n = 4)</text>
<polyline points="595.9,524.0 637.9,534.7 680.4,541.1 723.1,541.1" fill="none" stroke="#7cc5f2" stroke-width="1.9" stroke-linejoin="round"/>
<line x1="595.9" y1="522.3" x2="595.9" y2="525.7" stroke="#7cc5f2" stroke-width="1.1"/>
<line x1="594.1" y1="522.3" x2="597.7" y2="522.3" stroke="#7cc5f2" stroke-width="1.1"/>
<line x1="594.1" y1="525.7" x2="597.7" y2="525.7" stroke="#7cc5f2" stroke-width="1.1"/>
<circle cx="595.9" cy="524.0" r="2" fill="#7cc5f2"/>
<line x1="637.9" y1="533.0" x2="637.9" y2="536.4" stroke="#7cc5f2" stroke-width="1.1"/>
<line x1="636.1" y1="533.0" x2="639.7" y2="533.0" stroke="#7cc5f2" stroke-width="1.1"/>
<line x1="636.1" y1="536.4" x2="639.7" y2="536.4" stroke="#7cc5f2" stroke-width="1.1"/>
<circle cx="637.9" cy="534.7" r="2" fill="#7cc5f2"/>
<line x1="680.4" y1="536.8" x2="680.4" y2="545.4" stroke="#7cc5f2" stroke-width="1.1"/>
<line x1="678.6" y1="536.8" x2="682.2" y2="536.8" stroke="#7cc5f2" stroke-width="1.1"/>
<line x1="678.6" y1="545.4" x2="682.2" y2="545.4" stroke="#7cc5f2" stroke-width="1.1"/>
<circle cx="680.4" cy="541.1" r="2" fill="#7cc5f2"/>
<line x1="723.1" y1="536.8" x2="723.1" y2="545.4" stroke="#7cc5f2" stroke-width="1.1"/>
<line x1="721.3" y1="536.8" x2="724.9" y2="536.8" stroke="#7cc5f2" stroke-width="1.1"/>
<line x1="721.3" y1="545.4" x2="724.9" y2="545.4" stroke="#7cc5f2" stroke-width="1.1"/>
<circle cx="723.1" cy="541.1" r="2" fill="#7cc5f2"/>
<path d="M679.90 531.20L679.90 535.80M677.91 532.35L681.89 534.65M681.89 532.35L677.91 534.65M685.10 531.20L685.10 535.80M683.11 532.35L687.09 534.65M687.09 532.35L683.11 534.65M722.20 531.50L722.20 536.10M720.21 532.65L724.19 534.95M724.19 532.65L720.21 534.95M727.70 531.50L727.70 536.10M725.71 532.65L729.69 534.95M729.69 532.65L725.71 534.95" stroke="#111" stroke-width="1.25" fill="none"/>
<text x="840.0" y="456.7" font-size="9.9" fill="#111" text-anchor="start" textLength="56.9" lengthAdjust="spacingAndGlyphs" stroke="#111" stroke-width="0.2">Network IBI CV</text>
<line x1="786.7" y1="464.9" x2="786.7" y2="592.6" stroke="#6b6b6b" stroke-width="1.2"/>
<line x1="786.7" y1="592.0" x2="952.0" y2="592.0" stroke="#6b6b6b" stroke-width="1.3"/>
<line x1="784.2" y1="592.0" x2="786.7" y2="592.0" stroke="#6b6b6b" stroke-width="1"/>
<text x="783.9" y="595.2" font-size="8.8" fill="#4a4a4a" text-anchor="end" textLength="4.3" lengthAdjust="spacingAndGlyphs">0</text>
<line x1="784.2" y1="566.7" x2="786.7" y2="566.7" stroke="#6b6b6b" stroke-width="1"/>
<text x="783.9" y="569.9" font-size="8.8" fill="#4a4a4a" text-anchor="end" textLength="8.6" lengthAdjust="spacingAndGlyphs">50</text>
<line x1="784.2" y1="541.4" x2="786.7" y2="541.4" stroke="#6b6b6b" stroke-width="1"/>
<text x="783.9" y="544.6" font-size="8.8" fill="#4a4a4a" text-anchor="end" textLength="12.9" lengthAdjust="spacingAndGlyphs">100</text>
<line x1="784.2" y1="516.0" x2="786.7" y2="516.0" stroke="#6b6b6b" stroke-width="1"/>
<text x="783.9" y="519.2" font-size="8.8" fill="#4a4a4a" text-anchor="end" textLength="12.9" lengthAdjust="spacingAndGlyphs">150</text>
<line x1="784.2" y1="490.7" x2="786.7" y2="490.7" stroke="#6b6b6b" stroke-width="1"/>
<text x="783.9" y="493.9" font-size="8.8" fill="#4a4a4a" text-anchor="end" textLength="12.9" lengthAdjust="spacingAndGlyphs">200</text>
<line x1="784.2" y1="465.4" x2="786.7" y2="465.4" stroke="#6b6b6b" stroke-width="1"/>
<text x="783.9" y="468.6" font-size="8.8" fill="#4a4a4a" text-anchor="end" textLength="12.9" lengthAdjust="spacingAndGlyphs">250</text>
<line x1="807.7" y1="592.0" x2="807.7" y2="594.5" stroke="#6b6b6b" stroke-width="1"/>
<line x1="849.8" y1="592.0" x2="849.8" y2="594.5" stroke="#6b6b6b" stroke-width="1"/>
<line x1="892.0" y1="592.0" x2="892.0" y2="594.5" stroke="#6b6b6b" stroke-width="1"/>
<line x1="934.1" y1="592.0" x2="934.1" y2="594.5" stroke="#6b6b6b" stroke-width="1"/>
<text x="807.7" y="603.8" font-size="8.8" fill="#4a4a4a" text-anchor="middle" textLength="17.5" lengthAdjust="spacingAndGlyphs">4-AP</text>
<text x="807.7" y="615.9" font-size="8.8" fill="#4a4a4a" text-anchor="middle" textLength="19.5" lengthAdjust="spacingAndGlyphs">30µM</text>
<text x="849.8" y="603.8" font-size="8.8" fill="#4a4a4a" text-anchor="middle" textLength="15.5" lengthAdjust="spacingAndGlyphs">0.35</text>
<text x="892.0" y="603.8" font-size="8.8" fill="#4a4a4a" text-anchor="middle" textLength="4.2" lengthAdjust="spacingAndGlyphs">1</text>
<text x="934.1" y="603.8" font-size="8.8" fill="#4a4a4a" text-anchor="middle" textLength="4.6" lengthAdjust="spacingAndGlyphs">2</text>
<line x1="849.8" y1="607.5" x2="933.4" y2="607.5" stroke="#222" stroke-width="1"/>
<text x="861.5" y="619.2" font-size="8.6" fill="#333" text-anchor="start" textLength="54.2" lengthAdjust="spacingAndGlyphs">VPA conc. (mM)</text>
<text transform="translate(764.6,525.0) rotate(-90) scale(0.9408,1)" font-size="9.7" fill="#222" stroke="#222" stroke-width="0.1" text-anchor="middle">% of Baseline</text>
<line x1="790.8" y1="481.0" x2="797.2" y2="481.0" stroke="#7cc5f2" stroke-width="1.3"/>
<path d="M791.4 481.0 L794.0 479.1 L796.6 481.0 L794.0 482.9Z" fill="#7cc5f2"/>
<text x="800.6" y="484.4" font-size="9.2" fill="#484848" text-anchor="start" textLength="95.6" lengthAdjust="spacingAndGlyphs" stroke="#484848" stroke-width="0.12">4-AP  30µM + VPA (n = 4)</text>
<polyline points="807.7,581.4 849.8,582.4 892.0,582.9 934.1,560.1" fill="none" stroke="#7cc5f2" stroke-width="1.9" stroke-linejoin="round"/>
<line x1="807.7" y1="580.4" x2="807.7" y2="582.4" stroke="#7cc5f2" stroke-width="1.1"/>
<line x1="805.9" y1="580.4" x2="809.5" y2="580.4" stroke="#7cc5f2" stroke-width="1.1"/>
<line x1="805.9" y1="582.4" x2="809.5" y2="582.4" stroke="#7cc5f2" stroke-width="1.1"/>
<circle cx="807.7" cy="581.4" r="2" fill="#7cc5f2"/>
<line x1="849.8" y1="580.9" x2="849.8" y2="583.9" stroke="#7cc5f2" stroke-width="1.1"/>
<line x1="848.0" y1="580.9" x2="851.6" y2="580.9" stroke="#7cc5f2" stroke-width="1.1"/>
<line x1="848.0" y1="583.9" x2="851.6" y2="583.9" stroke="#7cc5f2" stroke-width="1.1"/>
<circle cx="849.8" cy="582.4" r="2" fill="#7cc5f2"/>
<line x1="892.0" y1="581.9" x2="892.0" y2="583.9" stroke="#7cc5f2" stroke-width="1.1"/>
<line x1="890.2" y1="581.9" x2="893.8" y2="581.9" stroke="#7cc5f2" stroke-width="1.1"/>
<line x1="890.2" y1="583.9" x2="893.8" y2="583.9" stroke="#7cc5f2" stroke-width="1.1"/>
<circle cx="892.0" cy="582.9" r="2" fill="#7cc5f2"/>
<line x1="934.1" y1="556.6" x2="934.1" y2="563.6" stroke="#7cc5f2" stroke-width="1.1"/>
<line x1="932.3" y1="556.6" x2="935.9" y2="556.6" stroke="#7cc5f2" stroke-width="1.1"/>
<line x1="932.3" y1="563.6" x2="935.9" y2="563.6" stroke="#7cc5f2" stroke-width="1.1"/>
<circle cx="934.1" cy="560.1" r="2" fill="#7cc5f2"/>
<path d="M931.50 549.00L931.50 553.60M929.51 550.15L933.49 552.45M933.49 550.15L929.51 552.45M937.00 549.00L937.00 553.60M935.01 550.15L938.99 552.45M938.99 550.15L935.01 552.45M942.40 549.00L942.40 553.60M940.41 550.15L944.39 552.45M944.39 550.15L940.41 552.45" stroke="#111" stroke-width="1.25" fill="none"/>
<text x="410.1" y="661.1" font-size="9.9" fill="#111" text-anchor="start" textLength="63.7" lengthAdjust="spacingAndGlyphs" stroke="#111" stroke-width="0.2">Mean Firing Rate</text>
<line x1="365.4" y1="673.8" x2="365.4" y2="798.8" stroke="#6b6b6b" stroke-width="1.2"/>
<line x1="365.4" y1="798.2" x2="533.6" y2="798.2" stroke="#6b6b6b" stroke-width="1.3"/>
<line x1="362.9" y1="798.2" x2="365.4" y2="798.2" stroke="#6b6b6b" stroke-width="1"/>
<text x="362.6" y="801.4" font-size="8.8" fill="#4a4a4a" text-anchor="end" textLength="4.3" lengthAdjust="spacingAndGlyphs">0</text>
<line x1="362.9" y1="756.9" x2="365.4" y2="756.9" stroke="#6b6b6b" stroke-width="1"/>
<text x="362.6" y="760.1" font-size="8.8" fill="#4a4a4a" text-anchor="end" textLength="12.9" lengthAdjust="spacingAndGlyphs">200</text>
<line x1="362.9" y1="715.6" x2="365.4" y2="715.6" stroke="#6b6b6b" stroke-width="1"/>
<text x="362.6" y="718.8" font-size="8.8" fill="#4a4a4a" text-anchor="end" textLength="12.9" lengthAdjust="spacingAndGlyphs">400</text>
<line x1="362.9" y1="674.3" x2="365.4" y2="674.3" stroke="#6b6b6b" stroke-width="1"/>
<text x="362.6" y="677.5" font-size="8.8" fill="#4a4a4a" text-anchor="end" textLength="12.9" lengthAdjust="spacingAndGlyphs">600</text>
<line x1="386.9" y1="798.2" x2="386.9" y2="800.7" stroke="#6b6b6b" stroke-width="1"/>
<line x1="428.5" y1="798.2" x2="428.5" y2="800.7" stroke="#6b6b6b" stroke-width="1"/>
<line x1="470.5" y1="798.2" x2="470.5" y2="800.7" stroke="#6b6b6b" stroke-width="1"/>
<line x1="512.6" y1="798.2" x2="512.6" y2="800.7" stroke="#6b6b6b" stroke-width="1"/>
<text x="386.9" y="809.3" font-size="8.8" fill="#4a4a4a" text-anchor="middle" textLength="26.8" lengthAdjust="spacingAndGlyphs">High K⁺</text>
<text x="428.5" y="809.3" font-size="8.8" fill="#4a4a4a" text-anchor="middle" textLength="15.5" lengthAdjust="spacingAndGlyphs">0.35</text>
<text x="470.5" y="809.3" font-size="8.8" fill="#4a4a4a" text-anchor="middle" textLength="4.2" lengthAdjust="spacingAndGlyphs">1</text>
<text x="512.6" y="809.3" font-size="8.8" fill="#4a4a4a" text-anchor="middle" textLength="4.6" lengthAdjust="spacingAndGlyphs">2</text>
<line x1="426.3" y1="814.5" x2="513.2" y2="814.5" stroke="#222" stroke-width="1"/>
<text x="438.4" y="825.9" font-size="8.6" fill="#333" text-anchor="start" textLength="56.5" lengthAdjust="spacingAndGlyphs">VPA Conc. (mM)</text>
<text transform="translate(342.7,733.5) rotate(-90) scale(0.9374,1)" font-size="9.7" fill="#222" stroke="#222" stroke-width="0.1" text-anchor="middle">% of Baseline</text>
<line x1="370.4" y1="673.2" x2="376.8" y2="673.2" stroke="#a6a6ae" stroke-width="1.3"/>
<path d="M371.0 673.2 L373.6 671.3 L376.2 673.2 L373.6 675.1Z" fill="#a6a6ae"/>
<text x="379.8" y="676.6" font-size="9.2" fill="#484848" text-anchor="start" textLength="78.1" lengthAdjust="spacingAndGlyphs" stroke="#484848" stroke-width="0.12">High K⁺ + VPA (n = 5)</text>
<polyline points="386.9,701.1 428.5,694.9 470.5,737.3 512.6,758.6" fill="none" stroke="#a6a6ae" stroke-width="1.9" stroke-linejoin="round"/>
<line x1="386.9" y1="679.5" x2="386.9" y2="722.8" stroke="#a6a6ae" stroke-width="1.1"/>
<line x1="385.1" y1="679.5" x2="388.7" y2="679.5" stroke="#a6a6ae" stroke-width="1.1"/>
<line x1="385.1" y1="722.8" x2="388.7" y2="722.8" stroke="#a6a6ae" stroke-width="1.1"/>
<circle cx="386.9" cy="701.1" r="2" fill="#a6a6ae"/>
<line x1="428.5" y1="681.3" x2="428.5" y2="708.6" stroke="#a6a6ae" stroke-width="1.1"/>
<line x1="426.7" y1="681.3" x2="430.3" y2="681.3" stroke="#a6a6ae" stroke-width="1.1"/>
<line x1="426.7" y1="708.6" x2="430.3" y2="708.6" stroke="#a6a6ae" stroke-width="1.1"/>
<circle cx="428.5" cy="694.9" r="2" fill="#a6a6ae"/>
<line x1="470.5" y1="720.8" x2="470.5" y2="753.8" stroke="#a6a6ae" stroke-width="1.1"/>
<line x1="468.7" y1="720.8" x2="472.3" y2="720.8" stroke="#a6a6ae" stroke-width="1.1"/>
<line x1="468.7" y1="753.8" x2="472.3" y2="753.8" stroke="#a6a6ae" stroke-width="1.1"/>
<circle cx="470.5" cy="737.3" r="2" fill="#a6a6ae"/>
<line x1="512.6" y1="746.6" x2="512.6" y2="770.5" stroke="#a6a6ae" stroke-width="1.1"/>
<line x1="510.8" y1="746.6" x2="514.4" y2="746.6" stroke="#a6a6ae" stroke-width="1.1"/>
<line x1="510.8" y1="770.5" x2="514.4" y2="770.5" stroke="#a6a6ae" stroke-width="1.1"/>
<circle cx="512.6" cy="758.6" r="2" fill="#a6a6ae"/>
<text x="629.7" y="660.5" font-size="9.9" fill="#111" text-anchor="start" textLength="54.2" lengthAdjust="spacingAndGlyphs" stroke="#111" stroke-width="0.2">Burst Duration</text>
<line x1="575.9" y1="674.2" x2="575.9" y2="798.2" stroke="#6b6b6b" stroke-width="1.2"/>
<line x1="575.9" y1="797.6" x2="745.3" y2="797.6" stroke="#6b6b6b" stroke-width="1.3"/>
<line x1="573.4" y1="797.6" x2="575.9" y2="797.6" stroke="#6b6b6b" stroke-width="1"/>
<text x="573.1" y="800.8" font-size="8.8" fill="#4a4a4a" text-anchor="end" textLength="4.3" lengthAdjust="spacingAndGlyphs">0</text>
<line x1="573.4" y1="777.1" x2="575.9" y2="777.1" stroke="#6b6b6b" stroke-width="1"/>
<text x="573.1" y="780.3" font-size="8.8" fill="#4a4a4a" text-anchor="end" textLength="8.6" lengthAdjust="spacingAndGlyphs">50</text>
<line x1="573.4" y1="756.6" x2="575.9" y2="756.6" stroke="#6b6b6b" stroke-width="1"/>
<text x="573.1" y="759.8" font-size="8.8" fill="#4a4a4a" text-anchor="end" textLength="12.9" lengthAdjust="spacingAndGlyphs">100</text>
<line x1="573.4" y1="736.2" x2="575.9" y2="736.2" stroke="#6b6b6b" stroke-width="1"/>
<text x="573.1" y="739.4" font-size="8.8" fill="#4a4a4a" text-anchor="end" textLength="12.9" lengthAdjust="spacingAndGlyphs">150</text>
<line x1="573.4" y1="715.7" x2="575.9" y2="715.7" stroke="#6b6b6b" stroke-width="1"/>
<text x="573.1" y="718.9" font-size="8.8" fill="#4a4a4a" text-anchor="end" textLength="12.9" lengthAdjust="spacingAndGlyphs">200</text>
<line x1="573.4" y1="695.2" x2="575.9" y2="695.2" stroke="#6b6b6b" stroke-width="1"/>
<text x="573.1" y="698.4" font-size="8.8" fill="#4a4a4a" text-anchor="end" textLength="12.9" lengthAdjust="spacingAndGlyphs">250</text>
<line x1="573.4" y1="674.7" x2="575.9" y2="674.7" stroke="#6b6b6b" stroke-width="1"/>
<text x="573.1" y="677.9" font-size="8.8" fill="#4a4a4a" text-anchor="end" textLength="12.9" lengthAdjust="spacingAndGlyphs">300</text>
<line x1="597.0" y1="797.6" x2="597.0" y2="800.1" stroke="#6b6b6b" stroke-width="1"/>
<line x1="638.6" y1="797.6" x2="638.6" y2="800.1" stroke="#6b6b6b" stroke-width="1"/>
<line x1="680.6" y1="797.6" x2="680.6" y2="800.1" stroke="#6b6b6b" stroke-width="1"/>
<line x1="723.1" y1="797.6" x2="723.1" y2="800.1" stroke="#6b6b6b" stroke-width="1"/>
<text x="597.0" y="808.2" font-size="8.8" fill="#4a4a4a" text-anchor="middle" textLength="25.0" lengthAdjust="spacingAndGlyphs">High K⁺</text>
<text x="638.6" y="808.2" font-size="8.8" fill="#4a4a4a" text-anchor="middle" textLength="15.5" lengthAdjust="spacingAndGlyphs">0.35</text>
<text x="680.6" y="808.2" font-size="8.8" fill="#4a4a4a" text-anchor="middle" textLength="4.2" lengthAdjust="spacingAndGlyphs">1</text>
<text x="723.1" y="808.2" font-size="8.8" fill="#4a4a4a" text-anchor="middle" textLength="4.6" lengthAdjust="spacingAndGlyphs">2</text>
<line x1="639.0" y1="813.5" x2="723.5" y2="813.5" stroke="#222" stroke-width="1"/>
<text x="651.8" y="824.8" font-size="8.6" fill="#333" text-anchor="start" textLength="55.4" lengthAdjust="spacingAndGlyphs">VPA Conc. (mM)</text>
<text transform="translate(552.1,733.0) rotate(-90) scale(0.9324,1)" font-size="9.7" fill="#222" stroke="#222" stroke-width="0.1" text-anchor="middle">% of Baseline</text>
<line x1="582.7" y1="675.4" x2="589.1" y2="675.4" stroke="#a6a6ae" stroke-width="1.3"/>
<path d="M583.3 675.4 L585.9 673.5 L588.5 675.4 L585.9 677.3Z" fill="#a6a6ae"/>
<text x="592.5" y="678.8" font-size="9.2" fill="#484848" text-anchor="start" textLength="77.5" lengthAdjust="spacingAndGlyphs" stroke="#484848" stroke-width="0.12">High K⁺ + VPA (n = 5)</text>
<polyline points="597.0,728.0 638.6,725.9 680.6,749.3 723.1,764.8" fill="none" stroke="#a6a6ae" stroke-width="1.9" stroke-linejoin="round"/>
<line x1="597.0" y1="707.9" x2="597.0" y2="748.0" stroke="#a6a6ae" stroke-width="1.1"/>
<line x1="595.2" y1="707.9" x2="598.8" y2="707.9" stroke="#a6a6ae" stroke-width="1.1"/>
<line x1="595.2" y1="748.0" x2="598.8" y2="748.0" stroke="#a6a6ae" stroke-width="1.1"/>
<circle cx="597.0" cy="728.0" r="2" fill="#a6a6ae"/>
<line x1="638.6" y1="713.6" x2="638.6" y2="738.2" stroke="#a6a6ae" stroke-width="1.1"/>
<line x1="636.8" y1="713.6" x2="640.4" y2="713.6" stroke="#a6a6ae" stroke-width="1.1"/>
<line x1="636.8" y1="738.2" x2="640.4" y2="738.2" stroke="#a6a6ae" stroke-width="1.1"/>
<circle cx="638.6" cy="725.9" r="2" fill="#a6a6ae"/>
<line x1="680.6" y1="737.0" x2="680.6" y2="761.5" stroke="#a6a6ae" stroke-width="1.1"/>
<line x1="678.8" y1="737.0" x2="682.4" y2="737.0" stroke="#a6a6ae" stroke-width="1.1"/>
<line x1="678.8" y1="761.5" x2="682.4" y2="761.5" stroke="#a6a6ae" stroke-width="1.1"/>
<circle cx="680.6" cy="749.3" r="2" fill="#a6a6ae"/>
<line x1="723.1" y1="757.0" x2="723.1" y2="772.6" stroke="#a6a6ae" stroke-width="1.1"/>
<line x1="721.3" y1="757.0" x2="724.9" y2="757.0" stroke="#a6a6ae" stroke-width="1.1"/>
<line x1="721.3" y1="772.6" x2="724.9" y2="772.6" stroke="#a6a6ae" stroke-width="1.1"/>
<circle cx="723.1" cy="764.8" r="2" fill="#a6a6ae"/>
<text x="840.9" y="661.1" font-size="9.9" fill="#111" text-anchor="start" textLength="56.7" lengthAdjust="spacingAndGlyphs" stroke="#111" stroke-width="0.2">Network IBI CV</text>
<line x1="787.4" y1="674.9" x2="787.4" y2="798.8" stroke="#6b6b6b" stroke-width="1.2"/>
<line x1="787.4" y1="798.2" x2="952.0" y2="798.2" stroke="#6b6b6b" stroke-width="1.3"/>
<line x1="784.9" y1="798.2" x2="787.4" y2="798.2" stroke="#6b6b6b" stroke-width="1"/>
<text x="784.6" y="801.4" font-size="8.8" fill="#4a4a4a" text-anchor="end" textLength="4.3" lengthAdjust="spacingAndGlyphs">0</text>
<line x1="784.9" y1="773.6" x2="787.4" y2="773.6" stroke="#6b6b6b" stroke-width="1"/>
<text x="784.6" y="776.8" font-size="8.8" fill="#4a4a4a" text-anchor="end" textLength="8.6" lengthAdjust="spacingAndGlyphs">50</text>
<line x1="784.9" y1="749.1" x2="787.4" y2="749.1" stroke="#6b6b6b" stroke-width="1"/>
<text x="784.6" y="752.3" font-size="8.8" fill="#4a4a4a" text-anchor="end" textLength="12.9" lengthAdjust="spacingAndGlyphs">100</text>
<line x1="784.9" y1="724.5" x2="787.4" y2="724.5" stroke="#6b6b6b" stroke-width="1"/>
<text x="784.6" y="727.7" font-size="8.8" fill="#4a4a4a" text-anchor="end" textLength="12.9" lengthAdjust="spacingAndGlyphs">150</text>
<line x1="784.9" y1="700.0" x2="787.4" y2="700.0" stroke="#6b6b6b" stroke-width="1"/>
<text x="784.6" y="703.2" font-size="8.8" fill="#4a4a4a" text-anchor="end" textLength="12.9" lengthAdjust="spacingAndGlyphs">200</text>
<line x1="784.9" y1="675.4" x2="787.4" y2="675.4" stroke="#6b6b6b" stroke-width="1"/>
<text x="784.6" y="678.6" font-size="8.8" fill="#4a4a4a" text-anchor="end" textLength="12.9" lengthAdjust="spacingAndGlyphs">250</text>
<line x1="808.4" y1="798.2" x2="808.4" y2="800.7" stroke="#6b6b6b" stroke-width="1"/>
<line x1="850.9" y1="798.2" x2="850.9" y2="800.7" stroke="#6b6b6b" stroke-width="1"/>
<line x1="893.6" y1="798.2" x2="893.6" y2="800.7" stroke="#6b6b6b" stroke-width="1"/>
<line x1="935.6" y1="798.2" x2="935.6" y2="800.7" stroke="#6b6b6b" stroke-width="1"/>
<text x="808.4" y="810.4" font-size="8.8" fill="#4a4a4a" text-anchor="middle" textLength="25.4" lengthAdjust="spacingAndGlyphs">High K⁺</text>
<text x="850.9" y="810.4" font-size="8.8" fill="#4a4a4a" text-anchor="middle" textLength="15.5" lengthAdjust="spacingAndGlyphs">0.35</text>
<text x="893.6" y="810.4" font-size="8.8" fill="#4a4a4a" text-anchor="middle" textLength="4.2" lengthAdjust="spacingAndGlyphs">1</text>
<text x="935.6" y="810.4" font-size="8.8" fill="#4a4a4a" text-anchor="middle" textLength="4.6" lengthAdjust="spacingAndGlyphs">2</text>
<line x1="852.0" y1="814.5" x2="936.3" y2="814.5" stroke="#222" stroke-width="1"/>
<text x="862.6" y="824.8" font-size="8.6" fill="#333" text-anchor="start" textLength="55.4" lengthAdjust="spacingAndGlyphs">VPA Conc. (mM)</text>
<text transform="translate(764.2,733.6) rotate(-90) scale(0.9324,1)" font-size="9.7" fill="#222" stroke="#222" stroke-width="0.1" text-anchor="middle">% of Baseline</text>
<line x1="795.2" y1="679.8" x2="801.6" y2="679.8" stroke="#a6a6ae" stroke-width="1.3"/>
<path d="M795.8 679.8 L798.4 677.9 L801.0 679.8 L798.4 681.7Z" fill="#a6a6ae"/>
<text x="805.1" y="683.2" font-size="9.2" fill="#484848" text-anchor="start" textLength="77.9" lengthAdjust="spacingAndGlyphs" stroke="#484848" stroke-width="0.12">High K⁺ + VPA (n = 5)</text>
<polyline points="808.4,768.7 850.9,745.6 893.6,720.6 935.6,719.6" fill="none" stroke="#a6a6ae" stroke-width="1.9" stroke-linejoin="round"/>
<line x1="808.4" y1="764.8" x2="808.4" y2="772.7" stroke="#a6a6ae" stroke-width="1.1"/>
<line x1="806.6" y1="764.8" x2="810.2" y2="764.8" stroke="#a6a6ae" stroke-width="1.1"/>
<line x1="806.6" y1="772.7" x2="810.2" y2="772.7" stroke="#a6a6ae" stroke-width="1.1"/>
<circle cx="808.4" cy="768.7" r="2" fill="#a6a6ae"/>
<line x1="850.9" y1="736.8" x2="850.9" y2="754.5" stroke="#a6a6ae" stroke-width="1.1"/>
<line x1="849.1" y1="736.8" x2="852.7" y2="736.8" stroke="#a6a6ae" stroke-width="1.1"/>
<line x1="849.1" y1="754.5" x2="852.7" y2="754.5" stroke="#a6a6ae" stroke-width="1.1"/>
<circle cx="850.9" cy="745.6" r="2" fill="#a6a6ae"/>
<line x1="893.6" y1="708.8" x2="893.6" y2="732.4" stroke="#a6a6ae" stroke-width="1.1"/>
<line x1="891.8" y1="708.8" x2="895.4" y2="708.8" stroke="#a6a6ae" stroke-width="1.1"/>
<line x1="891.8" y1="732.4" x2="895.4" y2="732.4" stroke="#a6a6ae" stroke-width="1.1"/>
<circle cx="893.6" cy="720.6" r="2" fill="#a6a6ae"/>
<line x1="935.6" y1="696.5" x2="935.6" y2="742.7" stroke="#a6a6ae" stroke-width="1.1"/>
<line x1="933.8" y1="696.5" x2="937.4" y2="696.5" stroke="#a6a6ae" stroke-width="1.1"/>
<line x1="933.8" y1="742.7" x2="937.4" y2="742.7" stroke="#a6a6ae" stroke-width="1.1"/>
<circle cx="935.6" cy="719.6" r="2" fill="#a6a6ae"/>
</svg></body></html>
